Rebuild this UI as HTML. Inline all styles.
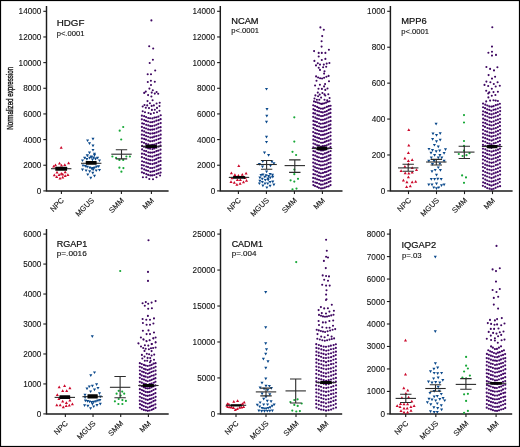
<!DOCTYPE html>
<html><head><meta charset="utf-8"><style>
html,body{margin:0;padding:0;background:#fff;}
svg{display:block;will-change:transform;}
text{font-family:"Liberation Sans",sans-serif;fill:#111;}
.tk{font-size:8.2px;stroke:#111;stroke-width:0.1px;}
.xl{font-size:7.6px;stroke:#111;stroke-width:0.1px;}
.ti{font-size:9.3px;stroke:#111;stroke-width:0.22px;}
.pv{font-size:7.8px;stroke:#111;stroke-width:0.12px;}
.yl{font-size:9.8px;stroke:#1a1a1a;stroke-width:0.4px;}
</style></head><body>
<svg width="520" height="447" viewBox="0 0 520 447">
<g>
<rect x="0" y="0" width="520" height="447" fill="#fff"/>
<rect x="0.5" y="0.5" width="519" height="446" fill="none" stroke="#000" stroke-width="1.2"/>
<text class="yl" transform="translate(12.9 129.7) rotate(-90) scale(0.63 1)">Normalized expression</text>
<path d="M46.5 6.0V190.9H168.6" fill="none" stroke="#1c1c1c" stroke-width="1.45"/>
<path d="M43.3 190.90H46.5" stroke="#1c1c1c" stroke-width="1.1"/>
<text x="41.40" y="193.90" class="tk" text-anchor="end">0</text>
<path d="M43.3 165.24H46.5" stroke="#1c1c1c" stroke-width="1.1"/>
<text x="41.40" y="168.24" class="tk" text-anchor="end">2000</text>
<path d="M43.3 139.59H46.5" stroke="#1c1c1c" stroke-width="1.1"/>
<text x="41.40" y="142.59" class="tk" text-anchor="end">4000</text>
<path d="M43.3 113.93H46.5" stroke="#1c1c1c" stroke-width="1.1"/>
<text x="41.40" y="116.93" class="tk" text-anchor="end">6000</text>
<path d="M43.3 88.27H46.5" stroke="#1c1c1c" stroke-width="1.1"/>
<text x="41.40" y="91.27" class="tk" text-anchor="end">8000</text>
<path d="M43.3 62.61H46.5" stroke="#1c1c1c" stroke-width="1.1"/>
<text x="41.40" y="65.61" class="tk" text-anchor="end">10000</text>
<path d="M43.3 36.96H46.5" stroke="#1c1c1c" stroke-width="1.1"/>
<text x="41.40" y="39.96" class="tk" text-anchor="end">12000</text>
<path d="M43.3 11.30H46.5" stroke="#1c1c1c" stroke-width="1.1"/>
<text x="41.40" y="14.30" class="tk" text-anchor="end">14000</text>
<path d="M61.40 190.9V194.1" stroke="#1c1c1c" stroke-width="1.1"/>
<text transform="translate(64.50 200.90) rotate(-45)" class="xl" text-anchor="end">NPC</text>
<path d="M91.40 190.9V194.1" stroke="#1c1c1c" stroke-width="1.1"/>
<text transform="translate(94.50 200.90) rotate(-45)" class="xl" text-anchor="end">MGUS</text>
<path d="M121.40 190.9V194.1" stroke="#1c1c1c" stroke-width="1.1"/>
<text transform="translate(124.50 200.90) rotate(-45)" class="xl" text-anchor="end">SMM</text>
<path d="M151.40 190.9V194.1" stroke="#1c1c1c" stroke-width="1.1"/>
<text transform="translate(154.50 200.90) rotate(-45)" class="xl" text-anchor="end">MM</text>
<text x="56.7" y="25.9" class="ti" textLength="27.7" lengthAdjust="spacingAndGlyphs">HDGF</text>
<text x="56.7" y="35.8" class="pv" textLength="27.7" lengthAdjust="spacingAndGlyphs">p&lt;.0001</text>
<path d="M59.65 148.80h3.1l-1.55-2.75zM67.05 164.20h3.1l-1.55-2.75zM57.95 164.60h3.1l-1.55-2.75zM63.25 165.90h3.1l-1.55-2.75zM53.95 166.20h3.1l-1.55-2.75zM59.95 166.60h3.1l-1.55-2.75zM52.15 167.60h3.1l-1.55-2.75zM55.45 173.40h3.1l-1.55-2.75zM63.65 173.20h3.1l-1.55-2.75zM52.75 176.20h3.1l-1.55-2.75zM57.55 175.90h3.1l-1.55-2.75zM59.75 174.80h3.1l-1.55-2.75zM61.15 175.50h3.1l-1.55-2.75zM63.65 177.10h3.1l-1.55-2.75zM66.35 176.00h3.1l-1.55-2.75zM55.15 178.00h3.1l-1.55-2.75zM58.45 179.50h3.1l-1.55-2.75zM61.15 178.40h3.1l-1.55-2.75z" fill="#cc0a2c"/>
<path d="M91.45 137.70h3.1l-1.55 2.7zM86.05 139.40h3.1l-1.55 2.7zM87.95 142.30h3.1l-1.55 2.7zM91.45 144.50h3.1l-1.55 2.7zM91.45 148.90h3.1l-1.55 2.7zM87.95 151.60h3.1l-1.55 2.7zM92.95 152.80h3.1l-1.55 2.7zM85.85 154.60h3.1l-1.55 2.7zM83.15 156.70h3.1l-1.55 2.7zM89.55 155.60h3.1l-1.55 2.7zM88.15 156.70h3.1l-1.55 2.7zM91.85 156.40h3.1l-1.55 2.7zM96.05 156.70h3.1l-1.55 2.7zM93.75 157.50h3.1l-1.55 2.7zM85.65 154.20h3.1l-1.55 2.7zM92.95 154.10h3.1l-1.55 2.7zM83.15 156.90h3.1l-1.55 2.7zM85.35 158.00h3.1l-1.55 2.7zM89.85 155.80h3.1l-1.55 2.7zM94.05 157.70h3.1l-1.55 2.7zM80.95 159.40h3.1l-1.55 2.7zM97.95 159.40h3.1l-1.55 2.7zM90.95 158.50h3.1l-1.55 2.7zM81.45 164.40h3.1l-1.55 2.7zM83.75 165.00h3.1l-1.55 2.7zM85.65 165.80h3.1l-1.55 2.7zM88.15 166.40h3.1l-1.55 2.7zM89.85 167.20h3.1l-1.55 2.7zM91.55 166.90h3.1l-1.55 2.7zM93.25 166.40h3.1l-1.55 2.7zM95.15 165.50h3.1l-1.55 2.7zM97.15 165.30h3.1l-1.55 2.7zM80.95 168.60h3.1l-1.55 2.7zM84.55 169.40h3.1l-1.55 2.7zM88.15 170.30h3.1l-1.55 2.7zM91.55 168.60h3.1l-1.55 2.7zM94.65 169.40h3.1l-1.55 2.7zM97.95 168.90h3.1l-1.55 2.7zM91.25 171.70h3.1l-1.55 2.7zM86.25 173.40h3.1l-1.55 2.7zM92.95 174.80h3.1l-1.55 2.7zM89.25 176.70h3.1l-1.55 2.7z" fill="#0c4a8c"/>
<path d="M122.10 127.00a1.1 1.1 0 1 0 2.2 0a1.1 1.1 0 1 0 -2.2 0M118.60 130.70a1.1 1.1 0 1 0 2.2 0a1.1 1.1 0 1 0 -2.2 0M120.10 139.50a1.1 1.1 0 1 0 2.2 0a1.1 1.1 0 1 0 -2.2 0M111.30 156.50a1.1 1.1 0 1 0 2.2 0a1.1 1.1 0 1 0 -2.2 0M115.00 157.90a1.1 1.1 0 1 0 2.2 0a1.1 1.1 0 1 0 -2.2 0M118.30 159.90a1.1 1.1 0 1 0 2.2 0a1.1 1.1 0 1 0 -2.2 0M122.10 159.90a1.1 1.1 0 1 0 2.2 0a1.1 1.1 0 1 0 -2.2 0M125.30 156.50a1.1 1.1 0 1 0 2.2 0a1.1 1.1 0 1 0 -2.2 0M128.80 156.50a1.1 1.1 0 1 0 2.2 0a1.1 1.1 0 1 0 -2.2 0M118.30 167.70a1.1 1.1 0 1 0 2.2 0a1.1 1.1 0 1 0 -2.2 0M122.30 168.10a1.1 1.1 0 1 0 2.2 0a1.1 1.1 0 1 0 -2.2 0M120.30 171.70a1.1 1.1 0 1 0 2.2 0a1.1 1.1 0 1 0 -2.2 0" fill="#18a838"/>
<path d="M140.79 115.67a1.1 1.1 0 1 0 2.2 0a1.1 1.1 0 1 0 -2.2 0M143.05 116.21a1.1 1.1 0 1 0 2.2 0a1.1 1.1 0 1 0 -2.2 0M145.03 117.09a1.1 1.1 0 1 0 2.2 0a1.1 1.1 0 1 0 -2.2 0M147.15 117.99a1.1 1.1 0 1 0 2.2 0a1.1 1.1 0 1 0 -2.2 0M149.04 118.24a1.1 1.1 0 1 0 2.2 0a1.1 1.1 0 1 0 -2.2 0M151.33 118.44a1.1 1.1 0 1 0 2.2 0a1.1 1.1 0 1 0 -2.2 0M153.38 117.59a1.1 1.1 0 1 0 2.2 0a1.1 1.1 0 1 0 -2.2 0M155.35 117.23a1.1 1.1 0 1 0 2.2 0a1.1 1.1 0 1 0 -2.2 0M157.35 116.56a1.1 1.1 0 1 0 2.2 0a1.1 1.1 0 1 0 -2.2 0M159.62 115.27a1.1 1.1 0 1 0 2.2 0a1.1 1.1 0 1 0 -2.2 0" fill="#450a68"/>
<path d="M140.76 119.32a1.1 1.1 0 1 0 2.2 0a1.1 1.1 0 1 0 -2.2 0M143.10 120.07a1.1 1.1 0 1 0 2.2 0a1.1 1.1 0 1 0 -2.2 0M144.95 120.88a1.1 1.1 0 1 0 2.2 0a1.1 1.1 0 1 0 -2.2 0M146.96 121.50a1.1 1.1 0 1 0 2.2 0a1.1 1.1 0 1 0 -2.2 0M149.15 122.27a1.1 1.1 0 1 0 2.2 0a1.1 1.1 0 1 0 -2.2 0M151.15 122.14a1.1 1.1 0 1 0 2.2 0a1.1 1.1 0 1 0 -2.2 0M153.22 121.62a1.1 1.1 0 1 0 2.2 0a1.1 1.1 0 1 0 -2.2 0M155.30 120.68a1.1 1.1 0 1 0 2.2 0a1.1 1.1 0 1 0 -2.2 0M157.53 120.16a1.1 1.1 0 1 0 2.2 0a1.1 1.1 0 1 0 -2.2 0M159.54 119.14a1.1 1.1 0 1 0 2.2 0a1.1 1.1 0 1 0 -2.2 0" fill="#450a68"/>
<path d="M141.05 123.28a1.1 1.1 0 1 0 2.2 0a1.1 1.1 0 1 0 -2.2 0M142.85 123.85a1.1 1.1 0 1 0 2.2 0a1.1 1.1 0 1 0 -2.2 0M145.10 124.82a1.1 1.1 0 1 0 2.2 0a1.1 1.1 0 1 0 -2.2 0M147.23 125.40a1.1 1.1 0 1 0 2.2 0a1.1 1.1 0 1 0 -2.2 0M149.27 126.16a1.1 1.1 0 1 0 2.2 0a1.1 1.1 0 1 0 -2.2 0M151.17 126.11a1.1 1.1 0 1 0 2.2 0a1.1 1.1 0 1 0 -2.2 0M153.41 125.62a1.1 1.1 0 1 0 2.2 0a1.1 1.1 0 1 0 -2.2 0M155.37 124.76a1.1 1.1 0 1 0 2.2 0a1.1 1.1 0 1 0 -2.2 0M157.29 123.80a1.1 1.1 0 1 0 2.2 0a1.1 1.1 0 1 0 -2.2 0M159.59 123.06a1.1 1.1 0 1 0 2.2 0a1.1 1.1 0 1 0 -2.2 0" fill="#450a68"/>
<path d="M140.80 126.92a1.1 1.1 0 1 0 2.2 0a1.1 1.1 0 1 0 -2.2 0M143.03 127.82a1.1 1.1 0 1 0 2.2 0a1.1 1.1 0 1 0 -2.2 0M145.00 128.49a1.1 1.1 0 1 0 2.2 0a1.1 1.1 0 1 0 -2.2 0M147.10 129.38a1.1 1.1 0 1 0 2.2 0a1.1 1.1 0 1 0 -2.2 0M149.17 129.82a1.1 1.1 0 1 0 2.2 0a1.1 1.1 0 1 0 -2.2 0M151.23 129.64a1.1 1.1 0 1 0 2.2 0a1.1 1.1 0 1 0 -2.2 0M153.16 129.35a1.1 1.1 0 1 0 2.2 0a1.1 1.1 0 1 0 -2.2 0M155.51 128.57a1.1 1.1 0 1 0 2.2 0a1.1 1.1 0 1 0 -2.2 0M157.40 127.57a1.1 1.1 0 1 0 2.2 0a1.1 1.1 0 1 0 -2.2 0M159.50 127.14a1.1 1.1 0 1 0 2.2 0a1.1 1.1 0 1 0 -2.2 0" fill="#450a68"/>
<path d="M140.98 130.72a1.1 1.1 0 1 0 2.2 0a1.1 1.1 0 1 0 -2.2 0M143.07 131.40a1.1 1.1 0 1 0 2.2 0a1.1 1.1 0 1 0 -2.2 0M145.04 132.55a1.1 1.1 0 1 0 2.2 0a1.1 1.1 0 1 0 -2.2 0M147.12 133.02a1.1 1.1 0 1 0 2.2 0a1.1 1.1 0 1 0 -2.2 0M149.10 133.69a1.1 1.1 0 1 0 2.2 0a1.1 1.1 0 1 0 -2.2 0M151.37 133.42a1.1 1.1 0 1 0 2.2 0a1.1 1.1 0 1 0 -2.2 0M153.39 133.20a1.1 1.1 0 1 0 2.2 0a1.1 1.1 0 1 0 -2.2 0M155.48 132.44a1.1 1.1 0 1 0 2.2 0a1.1 1.1 0 1 0 -2.2 0M157.53 131.54a1.1 1.1 0 1 0 2.2 0a1.1 1.1 0 1 0 -2.2 0M159.52 130.66a1.1 1.1 0 1 0 2.2 0a1.1 1.1 0 1 0 -2.2 0" fill="#450a68"/>
<path d="M140.77 134.69a1.1 1.1 0 1 0 2.2 0a1.1 1.1 0 1 0 -2.2 0M142.99 135.18a1.1 1.1 0 1 0 2.2 0a1.1 1.1 0 1 0 -2.2 0M145.03 136.11a1.1 1.1 0 1 0 2.2 0a1.1 1.1 0 1 0 -2.2 0M147.06 136.77a1.1 1.1 0 1 0 2.2 0a1.1 1.1 0 1 0 -2.2 0M149.18 137.53a1.1 1.1 0 1 0 2.2 0a1.1 1.1 0 1 0 -2.2 0M151.27 137.45a1.1 1.1 0 1 0 2.2 0a1.1 1.1 0 1 0 -2.2 0M153.16 136.71a1.1 1.1 0 1 0 2.2 0a1.1 1.1 0 1 0 -2.2 0M155.27 136.16a1.1 1.1 0 1 0 2.2 0a1.1 1.1 0 1 0 -2.2 0M157.54 135.48a1.1 1.1 0 1 0 2.2 0a1.1 1.1 0 1 0 -2.2 0M159.59 134.66a1.1 1.1 0 1 0 2.2 0a1.1 1.1 0 1 0 -2.2 0" fill="#450a68"/>
<path d="M140.83 138.47a1.1 1.1 0 1 0 2.2 0a1.1 1.1 0 1 0 -2.2 0M143.02 138.92a1.1 1.1 0 1 0 2.2 0a1.1 1.1 0 1 0 -2.2 0M144.89 139.68a1.1 1.1 0 1 0 2.2 0a1.1 1.1 0 1 0 -2.2 0M147.18 140.52a1.1 1.1 0 1 0 2.2 0a1.1 1.1 0 1 0 -2.2 0M149.05 141.33a1.1 1.1 0 1 0 2.2 0a1.1 1.1 0 1 0 -2.2 0M151.19 141.06a1.1 1.1 0 1 0 2.2 0a1.1 1.1 0 1 0 -2.2 0M153.20 140.66a1.1 1.1 0 1 0 2.2 0a1.1 1.1 0 1 0 -2.2 0M155.27 139.81a1.1 1.1 0 1 0 2.2 0a1.1 1.1 0 1 0 -2.2 0M157.50 139.11a1.1 1.1 0 1 0 2.2 0a1.1 1.1 0 1 0 -2.2 0M159.45 138.29a1.1 1.1 0 1 0 2.2 0a1.1 1.1 0 1 0 -2.2 0" fill="#450a68"/>
<path d="M140.76 142.04a1.1 1.1 0 1 0 2.2 0a1.1 1.1 0 1 0 -2.2 0M142.94 142.78a1.1 1.1 0 1 0 2.2 0a1.1 1.1 0 1 0 -2.2 0M144.92 143.92a1.1 1.1 0 1 0 2.2 0a1.1 1.1 0 1 0 -2.2 0M147.10 144.30a1.1 1.1 0 1 0 2.2 0a1.1 1.1 0 1 0 -2.2 0M149.20 145.23a1.1 1.1 0 1 0 2.2 0a1.1 1.1 0 1 0 -2.2 0M151.09 144.83a1.1 1.1 0 1 0 2.2 0a1.1 1.1 0 1 0 -2.2 0M153.19 144.55a1.1 1.1 0 1 0 2.2 0a1.1 1.1 0 1 0 -2.2 0M155.26 143.82a1.1 1.1 0 1 0 2.2 0a1.1 1.1 0 1 0 -2.2 0M157.49 142.96a1.1 1.1 0 1 0 2.2 0a1.1 1.1 0 1 0 -2.2 0M159.42 142.34a1.1 1.1 0 1 0 2.2 0a1.1 1.1 0 1 0 -2.2 0" fill="#450a68"/>
<path d="M140.99 145.91a1.1 1.1 0 1 0 2.2 0a1.1 1.1 0 1 0 -2.2 0M142.88 146.81a1.1 1.1 0 1 0 2.2 0a1.1 1.1 0 1 0 -2.2 0M145.00 147.56a1.1 1.1 0 1 0 2.2 0a1.1 1.1 0 1 0 -2.2 0M147.05 148.31a1.1 1.1 0 1 0 2.2 0a1.1 1.1 0 1 0 -2.2 0M149.03 148.77a1.1 1.1 0 1 0 2.2 0a1.1 1.1 0 1 0 -2.2 0M151.37 149.06a1.1 1.1 0 1 0 2.2 0a1.1 1.1 0 1 0 -2.2 0M153.24 148.42a1.1 1.1 0 1 0 2.2 0a1.1 1.1 0 1 0 -2.2 0M155.31 147.74a1.1 1.1 0 1 0 2.2 0a1.1 1.1 0 1 0 -2.2 0M157.51 146.69a1.1 1.1 0 1 0 2.2 0a1.1 1.1 0 1 0 -2.2 0M159.43 145.65a1.1 1.1 0 1 0 2.2 0a1.1 1.1 0 1 0 -2.2 0" fill="#450a68"/>
<path d="M141.01 149.47a1.1 1.1 0 1 0 2.2 0a1.1 1.1 0 1 0 -2.2 0M143.06 150.76a1.1 1.1 0 1 0 2.2 0a1.1 1.1 0 1 0 -2.2 0M145.05 151.16a1.1 1.1 0 1 0 2.2 0a1.1 1.1 0 1 0 -2.2 0M147.21 152.28a1.1 1.1 0 1 0 2.2 0a1.1 1.1 0 1 0 -2.2 0M149.23 152.68a1.1 1.1 0 1 0 2.2 0a1.1 1.1 0 1 0 -2.2 0M151.20 152.59a1.1 1.1 0 1 0 2.2 0a1.1 1.1 0 1 0 -2.2 0M153.21 152.13a1.1 1.1 0 1 0 2.2 0a1.1 1.1 0 1 0 -2.2 0M155.35 151.17a1.1 1.1 0 1 0 2.2 0a1.1 1.1 0 1 0 -2.2 0M157.31 150.62a1.1 1.1 0 1 0 2.2 0a1.1 1.1 0 1 0 -2.2 0M159.44 149.70a1.1 1.1 0 1 0 2.2 0a1.1 1.1 0 1 0 -2.2 0" fill="#450a68"/>
<path d="M140.85 153.69a1.1 1.1 0 1 0 2.2 0a1.1 1.1 0 1 0 -2.2 0M143.09 154.09a1.1 1.1 0 1 0 2.2 0a1.1 1.1 0 1 0 -2.2 0M144.94 155.03a1.1 1.1 0 1 0 2.2 0a1.1 1.1 0 1 0 -2.2 0M147.25 155.99a1.1 1.1 0 1 0 2.2 0a1.1 1.1 0 1 0 -2.2 0M149.12 156.33a1.1 1.1 0 1 0 2.2 0a1.1 1.1 0 1 0 -2.2 0M151.29 156.64a1.1 1.1 0 1 0 2.2 0a1.1 1.1 0 1 0 -2.2 0M153.43 155.77a1.1 1.1 0 1 0 2.2 0a1.1 1.1 0 1 0 -2.2 0M155.48 155.21a1.1 1.1 0 1 0 2.2 0a1.1 1.1 0 1 0 -2.2 0M157.43 154.58a1.1 1.1 0 1 0 2.2 0a1.1 1.1 0 1 0 -2.2 0M159.42 153.61a1.1 1.1 0 1 0 2.2 0a1.1 1.1 0 1 0 -2.2 0" fill="#450a68"/>
<path d="M140.78 157.13a1.1 1.1 0 1 0 2.2 0a1.1 1.1 0 1 0 -2.2 0M143.09 157.99a1.1 1.1 0 1 0 2.2 0a1.1 1.1 0 1 0 -2.2 0M145.11 158.97a1.1 1.1 0 1 0 2.2 0a1.1 1.1 0 1 0 -2.2 0M147.20 159.58a1.1 1.1 0 1 0 2.2 0a1.1 1.1 0 1 0 -2.2 0M149.12 160.17a1.1 1.1 0 1 0 2.2 0a1.1 1.1 0 1 0 -2.2 0M151.34 160.32a1.1 1.1 0 1 0 2.2 0a1.1 1.1 0 1 0 -2.2 0M153.44 159.84a1.1 1.1 0 1 0 2.2 0a1.1 1.1 0 1 0 -2.2 0M155.26 158.94a1.1 1.1 0 1 0 2.2 0a1.1 1.1 0 1 0 -2.2 0M157.31 157.90a1.1 1.1 0 1 0 2.2 0a1.1 1.1 0 1 0 -2.2 0M159.37 157.48a1.1 1.1 0 1 0 2.2 0a1.1 1.1 0 1 0 -2.2 0" fill="#450a68"/>
<path d="M140.99 161.26a1.1 1.1 0 1 0 2.2 0a1.1 1.1 0 1 0 -2.2 0M142.92 161.99a1.1 1.1 0 1 0 2.2 0a1.1 1.1 0 1 0 -2.2 0M145.12 162.66a1.1 1.1 0 1 0 2.2 0a1.1 1.1 0 1 0 -2.2 0M147.12 163.31a1.1 1.1 0 1 0 2.2 0a1.1 1.1 0 1 0 -2.2 0M149.04 163.95a1.1 1.1 0 1 0 2.2 0a1.1 1.1 0 1 0 -2.2 0M151.35 164.10a1.1 1.1 0 1 0 2.2 0a1.1 1.1 0 1 0 -2.2 0M153.43 163.42a1.1 1.1 0 1 0 2.2 0a1.1 1.1 0 1 0 -2.2 0M155.30 162.86a1.1 1.1 0 1 0 2.2 0a1.1 1.1 0 1 0 -2.2 0M157.53 161.69a1.1 1.1 0 1 0 2.2 0a1.1 1.1 0 1 0 -2.2 0M159.55 160.90a1.1 1.1 0 1 0 2.2 0a1.1 1.1 0 1 0 -2.2 0" fill="#450a68"/>
<path d="M140.78 165.09a1.1 1.1 0 1 0 2.2 0a1.1 1.1 0 1 0 -2.2 0M142.83 165.60a1.1 1.1 0 1 0 2.2 0a1.1 1.1 0 1 0 -2.2 0M145.18 166.48a1.1 1.1 0 1 0 2.2 0a1.1 1.1 0 1 0 -2.2 0M146.98 167.08a1.1 1.1 0 1 0 2.2 0a1.1 1.1 0 1 0 -2.2 0M149.09 167.99a1.1 1.1 0 1 0 2.2 0a1.1 1.1 0 1 0 -2.2 0M151.11 168.08a1.1 1.1 0 1 0 2.2 0a1.1 1.1 0 1 0 -2.2 0M153.26 167.48a1.1 1.1 0 1 0 2.2 0a1.1 1.1 0 1 0 -2.2 0M155.49 166.42a1.1 1.1 0 1 0 2.2 0a1.1 1.1 0 1 0 -2.2 0M157.36 165.72a1.1 1.1 0 1 0 2.2 0a1.1 1.1 0 1 0 -2.2 0M159.38 164.98a1.1 1.1 0 1 0 2.2 0a1.1 1.1 0 1 0 -2.2 0" fill="#450a68"/>
<path d="M140.76 168.46a1.1 1.1 0 1 0 2.2 0a1.1 1.1 0 1 0 -2.2 0M143.11 169.43a1.1 1.1 0 1 0 2.2 0a1.1 1.1 0 1 0 -2.2 0M145.06 170.29a1.1 1.1 0 1 0 2.2 0a1.1 1.1 0 1 0 -2.2 0M147.04 170.83a1.1 1.1 0 1 0 2.2 0a1.1 1.1 0 1 0 -2.2 0M149.29 171.91a1.1 1.1 0 1 0 2.2 0a1.1 1.1 0 1 0 -2.2 0M151.37 171.48a1.1 1.1 0 1 0 2.2 0a1.1 1.1 0 1 0 -2.2 0M153.21 171.10a1.1 1.1 0 1 0 2.2 0a1.1 1.1 0 1 0 -2.2 0M155.51 170.34a1.1 1.1 0 1 0 2.2 0a1.1 1.1 0 1 0 -2.2 0M157.49 169.61a1.1 1.1 0 1 0 2.2 0a1.1 1.1 0 1 0 -2.2 0M159.43 168.72a1.1 1.1 0 1 0 2.2 0a1.1 1.1 0 1 0 -2.2 0" fill="#450a68"/>
<path d="M140.84 172.37a1.1 1.1 0 1 0 2.2 0a1.1 1.1 0 1 0 -2.2 0M142.84 173.22a1.1 1.1 0 1 0 2.2 0a1.1 1.1 0 1 0 -2.2 0M145.18 174.09a1.1 1.1 0 1 0 2.2 0a1.1 1.1 0 1 0 -2.2 0M147.15 174.92a1.1 1.1 0 1 0 2.2 0a1.1 1.1 0 1 0 -2.2 0M149.30 175.42a1.1 1.1 0 1 0 2.2 0a1.1 1.1 0 1 0 -2.2 0M151.18 175.38a1.1 1.1 0 1 0 2.2 0a1.1 1.1 0 1 0 -2.2 0M153.25 175.02a1.1 1.1 0 1 0 2.2 0a1.1 1.1 0 1 0 -2.2 0M155.48 174.02a1.1 1.1 0 1 0 2.2 0a1.1 1.1 0 1 0 -2.2 0M157.38 173.36a1.1 1.1 0 1 0 2.2 0a1.1 1.1 0 1 0 -2.2 0M159.52 172.55a1.1 1.1 0 1 0 2.2 0a1.1 1.1 0 1 0 -2.2 0" fill="#450a68"/>
<path d="M150.35 20.40a1.05 1.05 0 1 0 2.1 0a1.05 1.05 0 1 0 -2.1 0M148.15 46.20a1.05 1.05 0 1 0 2.1 0a1.05 1.05 0 1 0 -2.1 0M152.15 48.50a1.05 1.05 0 1 0 2.1 0a1.05 1.05 0 1 0 -2.1 0M151.85 59.70a1.05 1.05 0 1 0 2.1 0a1.05 1.05 0 1 0 -2.1 0M148.65 63.00a1.05 1.05 0 1 0 2.1 0a1.05 1.05 0 1 0 -2.1 0M154.15 70.50a1.05 1.05 0 1 0 2.1 0a1.05 1.05 0 1 0 -2.1 0M146.65 74.30a1.05 1.05 0 1 0 2.1 0a1.05 1.05 0 1 0 -2.1 0M149.95 74.30a1.05 1.05 0 1 0 2.1 0a1.05 1.05 0 1 0 -2.1 0M146.75 82.00a1.05 1.05 0 1 0 2.1 0a1.05 1.05 0 1 0 -2.1 0M149.85 80.80a1.05 1.05 0 1 0 2.1 0a1.05 1.05 0 1 0 -2.1 0M153.75 81.70a1.05 1.05 0 1 0 2.1 0a1.05 1.05 0 1 0 -2.1 0M149.95 85.00a1.05 1.05 0 1 0 2.1 0a1.05 1.05 0 1 0 -2.1 0M148.35 88.60a1.05 1.05 0 1 0 2.1 0a1.05 1.05 0 1 0 -2.1 0M151.75 90.20a1.05 1.05 0 1 0 2.1 0a1.05 1.05 0 1 0 -2.1 0M144.75 91.60a1.05 1.05 0 1 0 2.1 0a1.05 1.05 0 1 0 -2.1 0M143.15 92.90a1.05 1.05 0 1 0 2.1 0a1.05 1.05 0 1 0 -2.1 0M150.65 92.60a1.05 1.05 0 1 0 2.1 0a1.05 1.05 0 1 0 -2.1 0M153.75 93.60a1.05 1.05 0 1 0 2.1 0a1.05 1.05 0 1 0 -2.1 0M155.55 92.00a1.05 1.05 0 1 0 2.1 0a1.05 1.05 0 1 0 -2.1 0M157.15 93.80a1.05 1.05 0 1 0 2.1 0a1.05 1.05 0 1 0 -2.1 0M147.05 95.10a1.05 1.05 0 1 0 2.1 0a1.05 1.05 0 1 0 -2.1 0M150.35 96.50a1.05 1.05 0 1 0 2.1 0a1.05 1.05 0 1 0 -2.1 0M146.45 101.10a1.05 1.05 0 1 0 2.1 0a1.05 1.05 0 1 0 -2.1 0M151.55 100.20a1.05 1.05 0 1 0 2.1 0a1.05 1.05 0 1 0 -2.1 0M148.85 103.20a1.05 1.05 0 1 0 2.1 0a1.05 1.05 0 1 0 -2.1 0M155.55 103.50a1.05 1.05 0 1 0 2.1 0a1.05 1.05 0 1 0 -2.1 0M158.65 102.80a1.05 1.05 0 1 0 2.1 0a1.05 1.05 0 1 0 -2.1 0M143.45 105.00a1.05 1.05 0 1 0 2.1 0a1.05 1.05 0 1 0 -2.1 0M141.65 106.50a1.05 1.05 0 1 0 2.1 0a1.05 1.05 0 1 0 -2.1 0M146.15 105.40a1.05 1.05 0 1 0 2.1 0a1.05 1.05 0 1 0 -2.1 0M150.65 105.90a1.05 1.05 0 1 0 2.1 0a1.05 1.05 0 1 0 -2.1 0M152.85 105.40a1.05 1.05 0 1 0 2.1 0a1.05 1.05 0 1 0 -2.1 0M158.45 106.10a1.05 1.05 0 1 0 2.1 0a1.05 1.05 0 1 0 -2.1 0M144.75 107.70a1.05 1.05 0 1 0 2.1 0a1.05 1.05 0 1 0 -2.1 0M147.95 108.10a1.05 1.05 0 1 0 2.1 0a1.05 1.05 0 1 0 -2.1 0M155.95 107.90a1.05 1.05 0 1 0 2.1 0a1.05 1.05 0 1 0 -2.1 0M150.85 109.90a1.05 1.05 0 1 0 2.1 0a1.05 1.05 0 1 0 -2.1 0M153.75 109.70a1.05 1.05 0 1 0 2.1 0a1.05 1.05 0 1 0 -2.1 0M141.65 111.30a1.05 1.05 0 1 0 2.1 0a1.05 1.05 0 1 0 -2.1 0M143.95 112.20a1.05 1.05 0 1 0 2.1 0a1.05 1.05 0 1 0 -2.1 0M147.45 113.00a1.05 1.05 0 1 0 2.1 0a1.05 1.05 0 1 0 -2.1 0M149.75 113.90a1.05 1.05 0 1 0 2.1 0a1.05 1.05 0 1 0 -2.1 0M152.85 113.00a1.05 1.05 0 1 0 2.1 0a1.05 1.05 0 1 0 -2.1 0M155.95 112.20a1.05 1.05 0 1 0 2.1 0a1.05 1.05 0 1 0 -2.1 0M158.45 110.80a1.05 1.05 0 1 0 2.1 0a1.05 1.05 0 1 0 -2.1 0M141.85 177.20a1.05 1.05 0 1 0 2.1 0a1.05 1.05 0 1 0 -2.1 0M145.25 177.20a1.05 1.05 0 1 0 2.1 0a1.05 1.05 0 1 0 -2.1 0M148.25 179.00a1.05 1.05 0 1 0 2.1 0a1.05 1.05 0 1 0 -2.1 0M151.95 179.30a1.05 1.05 0 1 0 2.1 0a1.05 1.05 0 1 0 -2.1 0M155.45 177.30a1.05 1.05 0 1 0 2.1 0a1.05 1.05 0 1 0 -2.1 0M159.05 175.50a1.05 1.05 0 1 0 2.1 0a1.05 1.05 0 1 0 -2.1 0" fill="#3f0862"/>
<path d="M51.00 168.70H71.40" stroke="#2c2c2c" stroke-width="1.1"/><rect x="55.30" y="166.80" width="11.80" height="3.90" rx="0.5" fill="#050505"/>
<path d="M81.00 163.30H101.40" stroke="#2c2c2c" stroke-width="1.1"/><rect x="85.75" y="161.10" width="10.90" height="3.70" rx="0.5" fill="#050505"/>
<path d="M111.30 154.20H131.70" stroke="#2c2c2c" stroke-width="1.1"/><path d="M115.80 149.80H127.20M115.80 158.90H127.20M121.50 149.80V158.90" stroke="#2c2c2c" stroke-width="1.1" fill="none"/>
<path d="M141.10 146.30H161.50" stroke="#2c2c2c" stroke-width="1.1"/><rect x="145.65" y="144.80" width="11.30" height="3.10" rx="0.5" fill="#050505"/>
<path d="M220.3 6.0V190.9H342.5" fill="none" stroke="#1c1c1c" stroke-width="1.45"/>
<path d="M217.10000000000002 190.90H220.3" stroke="#1c1c1c" stroke-width="1.1"/>
<text x="215.20" y="193.90" class="tk" text-anchor="end">0</text>
<path d="M217.10000000000002 165.24H220.3" stroke="#1c1c1c" stroke-width="1.1"/>
<text x="215.20" y="168.24" class="tk" text-anchor="end">2000</text>
<path d="M217.10000000000002 139.59H220.3" stroke="#1c1c1c" stroke-width="1.1"/>
<text x="215.20" y="142.59" class="tk" text-anchor="end">4000</text>
<path d="M217.10000000000002 113.93H220.3" stroke="#1c1c1c" stroke-width="1.1"/>
<text x="215.20" y="116.93" class="tk" text-anchor="end">6000</text>
<path d="M217.10000000000002 88.27H220.3" stroke="#1c1c1c" stroke-width="1.1"/>
<text x="215.20" y="91.27" class="tk" text-anchor="end">8000</text>
<path d="M217.10000000000002 62.61H220.3" stroke="#1c1c1c" stroke-width="1.1"/>
<text x="215.20" y="65.61" class="tk" text-anchor="end">10000</text>
<path d="M217.10000000000002 36.96H220.3" stroke="#1c1c1c" stroke-width="1.1"/>
<text x="215.20" y="39.96" class="tk" text-anchor="end">12000</text>
<path d="M217.10000000000002 11.30H220.3" stroke="#1c1c1c" stroke-width="1.1"/>
<text x="215.20" y="14.30" class="tk" text-anchor="end">14000</text>
<path d="M238.40 190.9V194.1" stroke="#1c1c1c" stroke-width="1.1"/>
<text transform="translate(241.50 200.90) rotate(-45)" class="xl" text-anchor="end">NPC</text>
<path d="M266.40 190.9V194.1" stroke="#1c1c1c" stroke-width="1.1"/>
<text transform="translate(269.50 200.90) rotate(-45)" class="xl" text-anchor="end">MGUS</text>
<path d="M294.40 190.9V194.1" stroke="#1c1c1c" stroke-width="1.1"/>
<text transform="translate(297.50 200.90) rotate(-45)" class="xl" text-anchor="end">SMM</text>
<path d="M322.40 190.9V194.1" stroke="#1c1c1c" stroke-width="1.1"/>
<text transform="translate(325.50 200.90) rotate(-45)" class="xl" text-anchor="end">MM</text>
<text x="231.25" y="23.8" class="ti" textLength="27.35" lengthAdjust="spacingAndGlyphs">NCAM</text>
<text x="231.25" y="33.4" class="pv" textLength="27.7" lengthAdjust="spacingAndGlyphs">p&lt;.0001</text>
<path d="M237.25 167.10h3.1l-1.55-2.75zM229.85 174.30h3.1l-1.55-2.75zM244.55 174.50h3.1l-1.55-2.75zM233.35 176.00h3.1l-1.55-2.75zM240.75 175.80h3.1l-1.55-2.75zM236.85 176.80h3.1l-1.55-2.75zM230.45 179.20h3.1l-1.55-2.75zM243.55 179.00h3.1l-1.55-2.75zM235.85 181.00h3.1l-1.55-2.75zM238.85 181.00h3.1l-1.55-2.75zM244.95 181.70h3.1l-1.55-2.75zM229.45 183.00h3.1l-1.55-2.75zM232.75 183.70h3.1l-1.55-2.75zM241.95 183.30h3.1l-1.55-2.75zM238.55 184.70h3.1l-1.55-2.75zM235.35 185.70h3.1l-1.55-2.75z" fill="#cc0a2c"/>
<path d="M264.95 87.90h3.1l-1.55 2.7zM265.45 108.10h3.1l-1.55 2.7zM265.25 114.80h3.1l-1.55 2.7zM264.95 120.70h3.1l-1.55 2.7zM264.95 135.80h3.1l-1.55 2.7zM264.95 140.90h3.1l-1.55 2.7zM262.95 151.60h3.1l-1.55 2.7zM267.05 154.10h3.1l-1.55 2.7zM261.25 160.20h3.1l-1.55 2.7zM270.35 160.60h3.1l-1.55 2.7zM257.85 163.10h3.1l-1.55 2.7zM272.35 162.30h3.1l-1.55 2.7zM260.95 165.50h3.1l-1.55 2.7zM268.95 164.60h3.1l-1.55 2.7zM265.05 170.50h3.1l-1.55 2.7zM259.45 174.10h3.1l-1.55 2.7zM261.35 173.50h3.1l-1.55 2.7zM264.55 174.30h3.1l-1.55 2.7zM268.55 173.00h3.1l-1.55 2.7zM270.95 173.80h3.1l-1.55 2.7zM263.25 175.70h3.1l-1.55 2.7zM266.95 175.10h3.1l-1.55 2.7zM271.25 175.70h3.1l-1.55 2.7zM258.35 176.50h3.1l-1.55 2.7zM260.75 177.80h3.1l-1.55 2.7zM268.85 176.50h3.1l-1.55 2.7zM263.75 178.90h3.1l-1.55 2.7zM266.35 177.60h3.1l-1.55 2.7zM266.65 178.70h3.1l-1.55 2.7zM258.35 179.70h3.1l-1.55 2.7zM260.75 180.90h3.1l-1.55 2.7zM268.55 180.90h3.1l-1.55 2.7zM271.25 180.50h3.1l-1.55 2.7zM257.85 182.40h3.1l-1.55 2.7zM263.45 182.40h3.1l-1.55 2.7zM266.15 182.40h3.1l-1.55 2.7zM272.35 183.60h3.1l-1.55 2.7zM261.35 184.50h3.1l-1.55 2.7zM268.55 184.80h3.1l-1.55 2.7zM265.35 186.40h3.1l-1.55 2.7z" fill="#0c4a8c"/>
<path d="M293.20 117.30a1.1 1.1 0 1 0 2.2 0a1.1 1.1 0 1 0 -2.2 0M293.20 141.60a1.1 1.1 0 1 0 2.2 0a1.1 1.1 0 1 0 -2.2 0M291.40 151.80a1.1 1.1 0 1 0 2.2 0a1.1 1.1 0 1 0 -2.2 0M295.00 155.00a1.1 1.1 0 1 0 2.2 0a1.1 1.1 0 1 0 -2.2 0M293.20 169.60a1.1 1.1 0 1 0 2.2 0a1.1 1.1 0 1 0 -2.2 0M293.20 174.20a1.1 1.1 0 1 0 2.2 0a1.1 1.1 0 1 0 -2.2 0M289.50 180.30a1.1 1.1 0 1 0 2.2 0a1.1 1.1 0 1 0 -2.2 0M293.20 181.60a1.1 1.1 0 1 0 2.2 0a1.1 1.1 0 1 0 -2.2 0M296.90 178.80a1.1 1.1 0 1 0 2.2 0a1.1 1.1 0 1 0 -2.2 0M291.40 189.30a1.1 1.1 0 1 0 2.2 0a1.1 1.1 0 1 0 -2.2 0M295.40 188.60a1.1 1.1 0 1 0 2.2 0a1.1 1.1 0 1 0 -2.2 0" fill="#18a838"/>
<path d="M312.12 105.26a1.1 1.1 0 1 0 2.2 0a1.1 1.1 0 1 0 -2.2 0M314.03 106.12a1.1 1.1 0 1 0 2.2 0a1.1 1.1 0 1 0 -2.2 0M316.04 106.90a1.1 1.1 0 1 0 2.2 0a1.1 1.1 0 1 0 -2.2 0M317.81 107.91a1.1 1.1 0 1 0 2.2 0a1.1 1.1 0 1 0 -2.2 0M319.78 108.62a1.1 1.1 0 1 0 2.2 0a1.1 1.1 0 1 0 -2.2 0M321.75 108.65a1.1 1.1 0 1 0 2.2 0a1.1 1.1 0 1 0 -2.2 0M323.56 107.84a1.1 1.1 0 1 0 2.2 0a1.1 1.1 0 1 0 -2.2 0M325.67 106.91a1.1 1.1 0 1 0 2.2 0a1.1 1.1 0 1 0 -2.2 0M327.62 106.17a1.1 1.1 0 1 0 2.2 0a1.1 1.1 0 1 0 -2.2 0M329.48 105.74a1.1 1.1 0 1 0 2.2 0a1.1 1.1 0 1 0 -2.2 0" fill="#450a68"/>
<path d="M312.30 109.21a1.1 1.1 0 1 0 2.2 0a1.1 1.1 0 1 0 -2.2 0M313.99 110.14a1.1 1.1 0 1 0 2.2 0a1.1 1.1 0 1 0 -2.2 0M316.15 110.82a1.1 1.1 0 1 0 2.2 0a1.1 1.1 0 1 0 -2.2 0M318.05 111.46a1.1 1.1 0 1 0 2.2 0a1.1 1.1 0 1 0 -2.2 0M319.97 112.04a1.1 1.1 0 1 0 2.2 0a1.1 1.1 0 1 0 -2.2 0M321.70 112.47a1.1 1.1 0 1 0 2.2 0a1.1 1.1 0 1 0 -2.2 0M323.76 111.85a1.1 1.1 0 1 0 2.2 0a1.1 1.1 0 1 0 -2.2 0M325.68 111.04a1.1 1.1 0 1 0 2.2 0a1.1 1.1 0 1 0 -2.2 0M327.55 109.97a1.1 1.1 0 1 0 2.2 0a1.1 1.1 0 1 0 -2.2 0M329.38 109.13a1.1 1.1 0 1 0 2.2 0a1.1 1.1 0 1 0 -2.2 0" fill="#450a68"/>
<path d="M312.26 113.18a1.1 1.1 0 1 0 2.2 0a1.1 1.1 0 1 0 -2.2 0M314.04 113.72a1.1 1.1 0 1 0 2.2 0a1.1 1.1 0 1 0 -2.2 0M316.16 114.87a1.1 1.1 0 1 0 2.2 0a1.1 1.1 0 1 0 -2.2 0M317.95 115.46a1.1 1.1 0 1 0 2.2 0a1.1 1.1 0 1 0 -2.2 0M319.95 116.05a1.1 1.1 0 1 0 2.2 0a1.1 1.1 0 1 0 -2.2 0M321.72 115.99a1.1 1.1 0 1 0 2.2 0a1.1 1.1 0 1 0 -2.2 0M323.59 115.21a1.1 1.1 0 1 0 2.2 0a1.1 1.1 0 1 0 -2.2 0M325.62 114.68a1.1 1.1 0 1 0 2.2 0a1.1 1.1 0 1 0 -2.2 0M327.51 113.71a1.1 1.1 0 1 0 2.2 0a1.1 1.1 0 1 0 -2.2 0M329.36 112.92a1.1 1.1 0 1 0 2.2 0a1.1 1.1 0 1 0 -2.2 0" fill="#450a68"/>
<path d="M312.09 116.78a1.1 1.1 0 1 0 2.2 0a1.1 1.1 0 1 0 -2.2 0M314.21 117.68a1.1 1.1 0 1 0 2.2 0a1.1 1.1 0 1 0 -2.2 0M315.99 118.58a1.1 1.1 0 1 0 2.2 0a1.1 1.1 0 1 0 -2.2 0M317.85 119.00a1.1 1.1 0 1 0 2.2 0a1.1 1.1 0 1 0 -2.2 0M319.85 119.87a1.1 1.1 0 1 0 2.2 0a1.1 1.1 0 1 0 -2.2 0M321.80 119.84a1.1 1.1 0 1 0 2.2 0a1.1 1.1 0 1 0 -2.2 0M323.72 119.36a1.1 1.1 0 1 0 2.2 0a1.1 1.1 0 1 0 -2.2 0M325.50 118.52a1.1 1.1 0 1 0 2.2 0a1.1 1.1 0 1 0 -2.2 0M327.48 117.60a1.1 1.1 0 1 0 2.2 0a1.1 1.1 0 1 0 -2.2 0M329.37 116.93a1.1 1.1 0 1 0 2.2 0a1.1 1.1 0 1 0 -2.2 0" fill="#450a68"/>
<path d="M312.32 120.91a1.1 1.1 0 1 0 2.2 0a1.1 1.1 0 1 0 -2.2 0M314.04 121.61a1.1 1.1 0 1 0 2.2 0a1.1 1.1 0 1 0 -2.2 0M315.89 122.11a1.1 1.1 0 1 0 2.2 0a1.1 1.1 0 1 0 -2.2 0M317.94 123.23a1.1 1.1 0 1 0 2.2 0a1.1 1.1 0 1 0 -2.2 0M319.74 123.80a1.1 1.1 0 1 0 2.2 0a1.1 1.1 0 1 0 -2.2 0M321.87 123.58a1.1 1.1 0 1 0 2.2 0a1.1 1.1 0 1 0 -2.2 0M323.72 123.22a1.1 1.1 0 1 0 2.2 0a1.1 1.1 0 1 0 -2.2 0M325.54 122.42a1.1 1.1 0 1 0 2.2 0a1.1 1.1 0 1 0 -2.2 0M327.56 121.58a1.1 1.1 0 1 0 2.2 0a1.1 1.1 0 1 0 -2.2 0M329.51 120.90a1.1 1.1 0 1 0 2.2 0a1.1 1.1 0 1 0 -2.2 0" fill="#450a68"/>
<path d="M312.34 124.54a1.1 1.1 0 1 0 2.2 0a1.1 1.1 0 1 0 -2.2 0M314.01 125.21a1.1 1.1 0 1 0 2.2 0a1.1 1.1 0 1 0 -2.2 0M315.94 126.15a1.1 1.1 0 1 0 2.2 0a1.1 1.1 0 1 0 -2.2 0M318.01 126.62a1.1 1.1 0 1 0 2.2 0a1.1 1.1 0 1 0 -2.2 0M319.90 127.58a1.1 1.1 0 1 0 2.2 0a1.1 1.1 0 1 0 -2.2 0M321.71 127.48a1.1 1.1 0 1 0 2.2 0a1.1 1.1 0 1 0 -2.2 0M323.57 126.96a1.1 1.1 0 1 0 2.2 0a1.1 1.1 0 1 0 -2.2 0M325.44 126.36a1.1 1.1 0 1 0 2.2 0a1.1 1.1 0 1 0 -2.2 0M327.58 125.40a1.1 1.1 0 1 0 2.2 0a1.1 1.1 0 1 0 -2.2 0M329.33 124.71a1.1 1.1 0 1 0 2.2 0a1.1 1.1 0 1 0 -2.2 0" fill="#450a68"/>
<path d="M312.34 128.12a1.1 1.1 0 1 0 2.2 0a1.1 1.1 0 1 0 -2.2 0M314.19 129.30a1.1 1.1 0 1 0 2.2 0a1.1 1.1 0 1 0 -2.2 0M316.07 130.02a1.1 1.1 0 1 0 2.2 0a1.1 1.1 0 1 0 -2.2 0M317.92 130.86a1.1 1.1 0 1 0 2.2 0a1.1 1.1 0 1 0 -2.2 0M319.99 131.21a1.1 1.1 0 1 0 2.2 0a1.1 1.1 0 1 0 -2.2 0M321.85 131.24a1.1 1.1 0 1 0 2.2 0a1.1 1.1 0 1 0 -2.2 0M323.57 130.56a1.1 1.1 0 1 0 2.2 0a1.1 1.1 0 1 0 -2.2 0M325.47 130.12a1.1 1.1 0 1 0 2.2 0a1.1 1.1 0 1 0 -2.2 0M327.63 128.94a1.1 1.1 0 1 0 2.2 0a1.1 1.1 0 1 0 -2.2 0M329.43 128.25a1.1 1.1 0 1 0 2.2 0a1.1 1.1 0 1 0 -2.2 0" fill="#450a68"/>
<path d="M312.09 132.00a1.1 1.1 0 1 0 2.2 0a1.1 1.1 0 1 0 -2.2 0M314.04 133.06a1.1 1.1 0 1 0 2.2 0a1.1 1.1 0 1 0 -2.2 0M315.87 133.56a1.1 1.1 0 1 0 2.2 0a1.1 1.1 0 1 0 -2.2 0M317.91 134.20a1.1 1.1 0 1 0 2.2 0a1.1 1.1 0 1 0 -2.2 0M319.88 135.12a1.1 1.1 0 1 0 2.2 0a1.1 1.1 0 1 0 -2.2 0M321.86 134.92a1.1 1.1 0 1 0 2.2 0a1.1 1.1 0 1 0 -2.2 0M323.60 134.46a1.1 1.1 0 1 0 2.2 0a1.1 1.1 0 1 0 -2.2 0M325.51 133.76a1.1 1.1 0 1 0 2.2 0a1.1 1.1 0 1 0 -2.2 0M327.41 133.02a1.1 1.1 0 1 0 2.2 0a1.1 1.1 0 1 0 -2.2 0M329.49 132.25a1.1 1.1 0 1 0 2.2 0a1.1 1.1 0 1 0 -2.2 0" fill="#450a68"/>
<path d="M312.34 135.92a1.1 1.1 0 1 0 2.2 0a1.1 1.1 0 1 0 -2.2 0M314.11 136.91a1.1 1.1 0 1 0 2.2 0a1.1 1.1 0 1 0 -2.2 0M316.10 137.55a1.1 1.1 0 1 0 2.2 0a1.1 1.1 0 1 0 -2.2 0M317.90 138.14a1.1 1.1 0 1 0 2.2 0a1.1 1.1 0 1 0 -2.2 0M319.73 139.02a1.1 1.1 0 1 0 2.2 0a1.1 1.1 0 1 0 -2.2 0M321.64 138.99a1.1 1.1 0 1 0 2.2 0a1.1 1.1 0 1 0 -2.2 0M323.68 138.48a1.1 1.1 0 1 0 2.2 0a1.1 1.1 0 1 0 -2.2 0M325.66 137.76a1.1 1.1 0 1 0 2.2 0a1.1 1.1 0 1 0 -2.2 0M327.38 136.73a1.1 1.1 0 1 0 2.2 0a1.1 1.1 0 1 0 -2.2 0M329.42 135.81a1.1 1.1 0 1 0 2.2 0a1.1 1.1 0 1 0 -2.2 0" fill="#450a68"/>
<path d="M312.20 139.63a1.1 1.1 0 1 0 2.2 0a1.1 1.1 0 1 0 -2.2 0M314.12 140.28a1.1 1.1 0 1 0 2.2 0a1.1 1.1 0 1 0 -2.2 0M316.00 141.29a1.1 1.1 0 1 0 2.2 0a1.1 1.1 0 1 0 -2.2 0M317.87 141.99a1.1 1.1 0 1 0 2.2 0a1.1 1.1 0 1 0 -2.2 0M319.93 142.76a1.1 1.1 0 1 0 2.2 0a1.1 1.1 0 1 0 -2.2 0M321.75 142.74a1.1 1.1 0 1 0 2.2 0a1.1 1.1 0 1 0 -2.2 0M323.63 141.90a1.1 1.1 0 1 0 2.2 0a1.1 1.1 0 1 0 -2.2 0M325.43 141.21a1.1 1.1 0 1 0 2.2 0a1.1 1.1 0 1 0 -2.2 0M327.52 140.72a1.1 1.1 0 1 0 2.2 0a1.1 1.1 0 1 0 -2.2 0M329.50 139.71a1.1 1.1 0 1 0 2.2 0a1.1 1.1 0 1 0 -2.2 0" fill="#450a68"/>
<path d="M312.35 143.48a1.1 1.1 0 1 0 2.2 0a1.1 1.1 0 1 0 -2.2 0M314.21 144.29a1.1 1.1 0 1 0 2.2 0a1.1 1.1 0 1 0 -2.2 0M316.10 145.36a1.1 1.1 0 1 0 2.2 0a1.1 1.1 0 1 0 -2.2 0M317.87 145.68a1.1 1.1 0 1 0 2.2 0a1.1 1.1 0 1 0 -2.2 0M319.88 146.49a1.1 1.1 0 1 0 2.2 0a1.1 1.1 0 1 0 -2.2 0M321.71 146.22a1.1 1.1 0 1 0 2.2 0a1.1 1.1 0 1 0 -2.2 0M323.63 145.81a1.1 1.1 0 1 0 2.2 0a1.1 1.1 0 1 0 -2.2 0M325.55 145.30a1.1 1.1 0 1 0 2.2 0a1.1 1.1 0 1 0 -2.2 0M327.51 144.45a1.1 1.1 0 1 0 2.2 0a1.1 1.1 0 1 0 -2.2 0M329.52 143.62a1.1 1.1 0 1 0 2.2 0a1.1 1.1 0 1 0 -2.2 0" fill="#450a68"/>
<path d="M312.20 147.42a1.1 1.1 0 1 0 2.2 0a1.1 1.1 0 1 0 -2.2 0M314.15 148.21a1.1 1.1 0 1 0 2.2 0a1.1 1.1 0 1 0 -2.2 0M316.06 148.87a1.1 1.1 0 1 0 2.2 0a1.1 1.1 0 1 0 -2.2 0M317.97 149.71a1.1 1.1 0 1 0 2.2 0a1.1 1.1 0 1 0 -2.2 0M319.98 150.41a1.1 1.1 0 1 0 2.2 0a1.1 1.1 0 1 0 -2.2 0M321.86 150.40a1.1 1.1 0 1 0 2.2 0a1.1 1.1 0 1 0 -2.2 0M323.76 149.70a1.1 1.1 0 1 0 2.2 0a1.1 1.1 0 1 0 -2.2 0M325.53 148.80a1.1 1.1 0 1 0 2.2 0a1.1 1.1 0 1 0 -2.2 0M327.55 148.32a1.1 1.1 0 1 0 2.2 0a1.1 1.1 0 1 0 -2.2 0M329.41 147.13a1.1 1.1 0 1 0 2.2 0a1.1 1.1 0 1 0 -2.2 0" fill="#450a68"/>
<path d="M312.30 151.09a1.1 1.1 0 1 0 2.2 0a1.1 1.1 0 1 0 -2.2 0M314.10 151.71a1.1 1.1 0 1 0 2.2 0a1.1 1.1 0 1 0 -2.2 0M316.03 152.84a1.1 1.1 0 1 0 2.2 0a1.1 1.1 0 1 0 -2.2 0M317.91 153.37a1.1 1.1 0 1 0 2.2 0a1.1 1.1 0 1 0 -2.2 0M319.89 153.83a1.1 1.1 0 1 0 2.2 0a1.1 1.1 0 1 0 -2.2 0M321.76 154.29a1.1 1.1 0 1 0 2.2 0a1.1 1.1 0 1 0 -2.2 0M323.72 153.39a1.1 1.1 0 1 0 2.2 0a1.1 1.1 0 1 0 -2.2 0M325.63 152.77a1.1 1.1 0 1 0 2.2 0a1.1 1.1 0 1 0 -2.2 0M327.40 151.79a1.1 1.1 0 1 0 2.2 0a1.1 1.1 0 1 0 -2.2 0M329.52 150.98a1.1 1.1 0 1 0 2.2 0a1.1 1.1 0 1 0 -2.2 0" fill="#450a68"/>
<path d="M312.07 155.07a1.1 1.1 0 1 0 2.2 0a1.1 1.1 0 1 0 -2.2 0M314.12 155.67a1.1 1.1 0 1 0 2.2 0a1.1 1.1 0 1 0 -2.2 0M316.03 156.64a1.1 1.1 0 1 0 2.2 0a1.1 1.1 0 1 0 -2.2 0M317.83 157.32a1.1 1.1 0 1 0 2.2 0a1.1 1.1 0 1 0 -2.2 0M319.91 158.03a1.1 1.1 0 1 0 2.2 0a1.1 1.1 0 1 0 -2.2 0M321.69 157.93a1.1 1.1 0 1 0 2.2 0a1.1 1.1 0 1 0 -2.2 0M323.59 157.27a1.1 1.1 0 1 0 2.2 0a1.1 1.1 0 1 0 -2.2 0M325.48 156.66a1.1 1.1 0 1 0 2.2 0a1.1 1.1 0 1 0 -2.2 0M327.60 155.65a1.1 1.1 0 1 0 2.2 0a1.1 1.1 0 1 0 -2.2 0M329.32 155.13a1.1 1.1 0 1 0 2.2 0a1.1 1.1 0 1 0 -2.2 0" fill="#450a68"/>
<path d="M312.26 158.87a1.1 1.1 0 1 0 2.2 0a1.1 1.1 0 1 0 -2.2 0M313.97 159.73a1.1 1.1 0 1 0 2.2 0a1.1 1.1 0 1 0 -2.2 0M316.06 160.23a1.1 1.1 0 1 0 2.2 0a1.1 1.1 0 1 0 -2.2 0M317.91 161.17a1.1 1.1 0 1 0 2.2 0a1.1 1.1 0 1 0 -2.2 0M319.93 161.52a1.1 1.1 0 1 0 2.2 0a1.1 1.1 0 1 0 -2.2 0M321.79 161.50a1.1 1.1 0 1 0 2.2 0a1.1 1.1 0 1 0 -2.2 0M323.81 161.02a1.1 1.1 0 1 0 2.2 0a1.1 1.1 0 1 0 -2.2 0M325.70 160.43a1.1 1.1 0 1 0 2.2 0a1.1 1.1 0 1 0 -2.2 0M327.52 159.41a1.1 1.1 0 1 0 2.2 0a1.1 1.1 0 1 0 -2.2 0M329.41 158.52a1.1 1.1 0 1 0 2.2 0a1.1 1.1 0 1 0 -2.2 0" fill="#450a68"/>
<path d="M312.09 162.61a1.1 1.1 0 1 0 2.2 0a1.1 1.1 0 1 0 -2.2 0M314.07 163.46a1.1 1.1 0 1 0 2.2 0a1.1 1.1 0 1 0 -2.2 0M315.94 164.23a1.1 1.1 0 1 0 2.2 0a1.1 1.1 0 1 0 -2.2 0M318.00 164.75a1.1 1.1 0 1 0 2.2 0a1.1 1.1 0 1 0 -2.2 0M319.73 165.42a1.1 1.1 0 1 0 2.2 0a1.1 1.1 0 1 0 -2.2 0M321.75 165.27a1.1 1.1 0 1 0 2.2 0a1.1 1.1 0 1 0 -2.2 0M323.57 164.62a1.1 1.1 0 1 0 2.2 0a1.1 1.1 0 1 0 -2.2 0M325.61 164.31a1.1 1.1 0 1 0 2.2 0a1.1 1.1 0 1 0 -2.2 0M327.40 163.10a1.1 1.1 0 1 0 2.2 0a1.1 1.1 0 1 0 -2.2 0M329.46 162.66a1.1 1.1 0 1 0 2.2 0a1.1 1.1 0 1 0 -2.2 0" fill="#450a68"/>
<path d="M312.34 166.36a1.1 1.1 0 1 0 2.2 0a1.1 1.1 0 1 0 -2.2 0M314.06 167.30a1.1 1.1 0 1 0 2.2 0a1.1 1.1 0 1 0 -2.2 0M315.91 168.02a1.1 1.1 0 1 0 2.2 0a1.1 1.1 0 1 0 -2.2 0M317.81 168.59a1.1 1.1 0 1 0 2.2 0a1.1 1.1 0 1 0 -2.2 0M319.84 169.21a1.1 1.1 0 1 0 2.2 0a1.1 1.1 0 1 0 -2.2 0M321.66 169.14a1.1 1.1 0 1 0 2.2 0a1.1 1.1 0 1 0 -2.2 0M323.76 168.63a1.1 1.1 0 1 0 2.2 0a1.1 1.1 0 1 0 -2.2 0M325.60 167.78a1.1 1.1 0 1 0 2.2 0a1.1 1.1 0 1 0 -2.2 0M327.55 167.05a1.1 1.1 0 1 0 2.2 0a1.1 1.1 0 1 0 -2.2 0M329.43 166.50a1.1 1.1 0 1 0 2.2 0a1.1 1.1 0 1 0 -2.2 0" fill="#450a68"/>
<path d="M312.35 169.87a1.1 1.1 0 1 0 2.2 0a1.1 1.1 0 1 0 -2.2 0M314.20 171.11a1.1 1.1 0 1 0 2.2 0a1.1 1.1 0 1 0 -2.2 0M315.97 171.66a1.1 1.1 0 1 0 2.2 0a1.1 1.1 0 1 0 -2.2 0M317.96 172.65a1.1 1.1 0 1 0 2.2 0a1.1 1.1 0 1 0 -2.2 0M319.81 173.26a1.1 1.1 0 1 0 2.2 0a1.1 1.1 0 1 0 -2.2 0M321.83 172.90a1.1 1.1 0 1 0 2.2 0a1.1 1.1 0 1 0 -2.2 0M323.79 172.20a1.1 1.1 0 1 0 2.2 0a1.1 1.1 0 1 0 -2.2 0M325.47 171.80a1.1 1.1 0 1 0 2.2 0a1.1 1.1 0 1 0 -2.2 0M327.36 170.87a1.1 1.1 0 1 0 2.2 0a1.1 1.1 0 1 0 -2.2 0M329.29 170.08a1.1 1.1 0 1 0 2.2 0a1.1 1.1 0 1 0 -2.2 0" fill="#450a68"/>
<path d="M312.30 174.10a1.1 1.1 0 1 0 2.2 0a1.1 1.1 0 1 0 -2.2 0M313.97 174.51a1.1 1.1 0 1 0 2.2 0a1.1 1.1 0 1 0 -2.2 0M316.12 175.29a1.1 1.1 0 1 0 2.2 0a1.1 1.1 0 1 0 -2.2 0M317.87 176.05a1.1 1.1 0 1 0 2.2 0a1.1 1.1 0 1 0 -2.2 0M319.72 176.63a1.1 1.1 0 1 0 2.2 0a1.1 1.1 0 1 0 -2.2 0M321.80 176.99a1.1 1.1 0 1 0 2.2 0a1.1 1.1 0 1 0 -2.2 0M323.72 176.42a1.1 1.1 0 1 0 2.2 0a1.1 1.1 0 1 0 -2.2 0M325.63 175.46a1.1 1.1 0 1 0 2.2 0a1.1 1.1 0 1 0 -2.2 0M327.53 174.97a1.1 1.1 0 1 0 2.2 0a1.1 1.1 0 1 0 -2.2 0M329.44 173.77a1.1 1.1 0 1 0 2.2 0a1.1 1.1 0 1 0 -2.2 0" fill="#450a68"/>
<path d="M312.07 177.92a1.1 1.1 0 1 0 2.2 0a1.1 1.1 0 1 0 -2.2 0M314.14 178.46a1.1 1.1 0 1 0 2.2 0a1.1 1.1 0 1 0 -2.2 0M316.05 179.35a1.1 1.1 0 1 0 2.2 0a1.1 1.1 0 1 0 -2.2 0M317.94 179.82a1.1 1.1 0 1 0 2.2 0a1.1 1.1 0 1 0 -2.2 0M319.80 180.63a1.1 1.1 0 1 0 2.2 0a1.1 1.1 0 1 0 -2.2 0M321.67 180.86a1.1 1.1 0 1 0 2.2 0a1.1 1.1 0 1 0 -2.2 0M323.64 180.12a1.1 1.1 0 1 0 2.2 0a1.1 1.1 0 1 0 -2.2 0M325.64 179.44a1.1 1.1 0 1 0 2.2 0a1.1 1.1 0 1 0 -2.2 0M327.56 178.66a1.1 1.1 0 1 0 2.2 0a1.1 1.1 0 1 0 -2.2 0M329.33 177.94a1.1 1.1 0 1 0 2.2 0a1.1 1.1 0 1 0 -2.2 0" fill="#450a68"/>
<path d="M312.10 181.71a1.1 1.1 0 1 0 2.2 0a1.1 1.1 0 1 0 -2.2 0M314.22 182.51a1.1 1.1 0 1 0 2.2 0a1.1 1.1 0 1 0 -2.2 0M315.89 182.92a1.1 1.1 0 1 0 2.2 0a1.1 1.1 0 1 0 -2.2 0M318.03 183.83a1.1 1.1 0 1 0 2.2 0a1.1 1.1 0 1 0 -2.2 0M319.81 184.71a1.1 1.1 0 1 0 2.2 0a1.1 1.1 0 1 0 -2.2 0M321.62 184.49a1.1 1.1 0 1 0 2.2 0a1.1 1.1 0 1 0 -2.2 0M323.65 183.66a1.1 1.1 0 1 0 2.2 0a1.1 1.1 0 1 0 -2.2 0M325.55 183.22a1.1 1.1 0 1 0 2.2 0a1.1 1.1 0 1 0 -2.2 0M327.60 182.10a1.1 1.1 0 1 0 2.2 0a1.1 1.1 0 1 0 -2.2 0M329.41 181.30a1.1 1.1 0 1 0 2.2 0a1.1 1.1 0 1 0 -2.2 0" fill="#450a68"/>
<path d="M312.29 185.09a1.1 1.1 0 1 0 2.2 0a1.1 1.1 0 1 0 -2.2 0M313.97 186.08a1.1 1.1 0 1 0 2.2 0a1.1 1.1 0 1 0 -2.2 0M316.09 186.83a1.1 1.1 0 1 0 2.2 0a1.1 1.1 0 1 0 -2.2 0M317.82 187.79a1.1 1.1 0 1 0 2.2 0a1.1 1.1 0 1 0 -2.2 0M319.94 188.45a1.1 1.1 0 1 0 2.2 0a1.1 1.1 0 1 0 -2.2 0M321.70 188.23a1.1 1.1 0 1 0 2.2 0a1.1 1.1 0 1 0 -2.2 0M323.59 187.67a1.1 1.1 0 1 0 2.2 0a1.1 1.1 0 1 0 -2.2 0M325.53 186.84a1.1 1.1 0 1 0 2.2 0a1.1 1.1 0 1 0 -2.2 0M327.57 186.36a1.1 1.1 0 1 0 2.2 0a1.1 1.1 0 1 0 -2.2 0M329.43 185.10a1.1 1.1 0 1 0 2.2 0a1.1 1.1 0 1 0 -2.2 0" fill="#450a68"/>
<path d="M319.35 27.40a1.05 1.05 0 1 0 2.1 0a1.05 1.05 0 1 0 -2.1 0M322.75 29.70a1.05 1.05 0 1 0 2.1 0a1.05 1.05 0 1 0 -2.1 0M321.15 36.10a1.05 1.05 0 1 0 2.1 0a1.05 1.05 0 1 0 -2.1 0M320.55 41.20a1.05 1.05 0 1 0 2.1 0a1.05 1.05 0 1 0 -2.1 0M320.55 46.60a1.05 1.05 0 1 0 2.1 0a1.05 1.05 0 1 0 -2.1 0M313.05 51.10a1.05 1.05 0 1 0 2.1 0a1.05 1.05 0 1 0 -2.1 0M327.85 49.80a1.05 1.05 0 1 0 2.1 0a1.05 1.05 0 1 0 -2.1 0M317.65 52.90a1.05 1.05 0 1 0 2.1 0a1.05 1.05 0 1 0 -2.1 0M320.75 52.90a1.05 1.05 0 1 0 2.1 0a1.05 1.05 0 1 0 -2.1 0M324.35 52.90a1.05 1.05 0 1 0 2.1 0a1.05 1.05 0 1 0 -2.1 0M317.65 56.50a1.05 1.05 0 1 0 2.1 0a1.05 1.05 0 1 0 -2.1 0M313.35 60.90a1.05 1.05 0 1 0 2.1 0a1.05 1.05 0 1 0 -2.1 0M320.75 60.00a1.05 1.05 0 1 0 2.1 0a1.05 1.05 0 1 0 -2.1 0M324.35 58.90a1.05 1.05 0 1 0 2.1 0a1.05 1.05 0 1 0 -2.1 0M316.75 63.20a1.05 1.05 0 1 0 2.1 0a1.05 1.05 0 1 0 -2.1 0M314.95 65.40a1.05 1.05 0 1 0 2.1 0a1.05 1.05 0 1 0 -2.1 0M318.95 64.60a1.05 1.05 0 1 0 2.1 0a1.05 1.05 0 1 0 -2.1 0M322.75 64.60a1.05 1.05 0 1 0 2.1 0a1.05 1.05 0 1 0 -2.1 0M325.65 63.60a1.05 1.05 0 1 0 2.1 0a1.05 1.05 0 1 0 -2.1 0M328.35 63.00a1.05 1.05 0 1 0 2.1 0a1.05 1.05 0 1 0 -2.1 0M317.65 67.70a1.05 1.05 0 1 0 2.1 0a1.05 1.05 0 1 0 -2.1 0M318.95 69.90a1.05 1.05 0 1 0 2.1 0a1.05 1.05 0 1 0 -2.1 0M322.05 67.20a1.05 1.05 0 1 0 2.1 0a1.05 1.05 0 1 0 -2.1 0M325.15 66.70a1.05 1.05 0 1 0 2.1 0a1.05 1.05 0 1 0 -2.1 0M323.45 71.20a1.05 1.05 0 1 0 2.1 0a1.05 1.05 0 1 0 -2.1 0M323.05 73.60a1.05 1.05 0 1 0 2.1 0a1.05 1.05 0 1 0 -2.1 0M315.05 76.40a1.05 1.05 0 1 0 2.1 0a1.05 1.05 0 1 0 -2.1 0M317.05 77.50a1.05 1.05 0 1 0 2.1 0a1.05 1.05 0 1 0 -2.1 0M319.05 78.30a1.05 1.05 0 1 0 2.1 0a1.05 1.05 0 1 0 -2.1 0M321.05 78.50a1.05 1.05 0 1 0 2.1 0a1.05 1.05 0 1 0 -2.1 0M323.05 77.80a1.05 1.05 0 1 0 2.1 0a1.05 1.05 0 1 0 -2.1 0M325.35 76.80a1.05 1.05 0 1 0 2.1 0a1.05 1.05 0 1 0 -2.1 0M327.55 75.90a1.05 1.05 0 1 0 2.1 0a1.05 1.05 0 1 0 -2.1 0M315.45 80.70a1.05 1.05 0 1 0 2.1 0a1.05 1.05 0 1 0 -2.1 0M327.95 81.30a1.05 1.05 0 1 0 2.1 0a1.05 1.05 0 1 0 -2.1 0M314.05 85.50a1.05 1.05 0 1 0 2.1 0a1.05 1.05 0 1 0 -2.1 0M318.85 84.70a1.05 1.05 0 1 0 2.1 0a1.05 1.05 0 1 0 -2.1 0M324.05 84.10a1.05 1.05 0 1 0 2.1 0a1.05 1.05 0 1 0 -2.1 0M323.05 86.40a1.05 1.05 0 1 0 2.1 0a1.05 1.05 0 1 0 -2.1 0M317.45 88.80a1.05 1.05 0 1 0 2.1 0a1.05 1.05 0 1 0 -2.1 0M320.85 88.90a1.05 1.05 0 1 0 2.1 0a1.05 1.05 0 1 0 -2.1 0M324.25 89.90a1.05 1.05 0 1 0 2.1 0a1.05 1.05 0 1 0 -2.1 0M326.45 88.50a1.05 1.05 0 1 0 2.1 0a1.05 1.05 0 1 0 -2.1 0M316.75 92.60a1.05 1.05 0 1 0 2.1 0a1.05 1.05 0 1 0 -2.1 0M321.35 93.00a1.05 1.05 0 1 0 2.1 0a1.05 1.05 0 1 0 -2.1 0M323.45 94.40a1.05 1.05 0 1 0 2.1 0a1.05 1.05 0 1 0 -2.1 0M327.25 94.20a1.05 1.05 0 1 0 2.1 0a1.05 1.05 0 1 0 -2.1 0M314.35 95.40a1.05 1.05 0 1 0 2.1 0a1.05 1.05 0 1 0 -2.1 0M318.65 94.60a1.05 1.05 0 1 0 2.1 0a1.05 1.05 0 1 0 -2.1 0M317.05 96.20a1.05 1.05 0 1 0 2.1 0a1.05 1.05 0 1 0 -2.1 0M324.25 95.50a1.05 1.05 0 1 0 2.1 0a1.05 1.05 0 1 0 -2.1 0M313.45 98.50a1.05 1.05 0 1 0 2.1 0a1.05 1.05 0 1 0 -2.1 0M320.05 97.60a1.05 1.05 0 1 0 2.1 0a1.05 1.05 0 1 0 -2.1 0M328.55 98.00a1.05 1.05 0 1 0 2.1 0a1.05 1.05 0 1 0 -2.1 0M315.85 99.80a1.05 1.05 0 1 0 2.1 0a1.05 1.05 0 1 0 -2.1 0M318.25 99.80a1.05 1.05 0 1 0 2.1 0a1.05 1.05 0 1 0 -2.1 0M323.45 99.80a1.05 1.05 0 1 0 2.1 0a1.05 1.05 0 1 0 -2.1 0M326.15 100.20a1.05 1.05 0 1 0 2.1 0a1.05 1.05 0 1 0 -2.1 0M312.95 101.40a1.05 1.05 0 1 0 2.1 0a1.05 1.05 0 1 0 -2.1 0M314.75 102.00a1.05 1.05 0 1 0 2.1 0a1.05 1.05 0 1 0 -2.1 0M316.65 102.60a1.05 1.05 0 1 0 2.1 0a1.05 1.05 0 1 0 -2.1 0M318.45 103.30a1.05 1.05 0 1 0 2.1 0a1.05 1.05 0 1 0 -2.1 0M320.25 103.90a1.05 1.05 0 1 0 2.1 0a1.05 1.05 0 1 0 -2.1 0M321.85 103.60a1.05 1.05 0 1 0 2.1 0a1.05 1.05 0 1 0 -2.1 0M323.45 103.30a1.05 1.05 0 1 0 2.1 0a1.05 1.05 0 1 0 -2.1 0M325.15 102.60a1.05 1.05 0 1 0 2.1 0a1.05 1.05 0 1 0 -2.1 0M326.75 101.80a1.05 1.05 0 1 0 2.1 0a1.05 1.05 0 1 0 -2.1 0M328.45 101.20a1.05 1.05 0 1 0 2.1 0a1.05 1.05 0 1 0 -2.1 0" fill="#3f0862"/>
<path d="M228.80 177.40H249.20" stroke="#2c2c2c" stroke-width="1.1"/><rect x="233.00" y="176.10" width="12.00" height="2.70" rx="0.5" fill="#050505"/>
<path d="M256.40 164.50H276.80" stroke="#2c2c2c" stroke-width="1.1"/><path d="M260.90 160.50H272.30M260.90 169.20H272.30M266.60 160.50V169.20" stroke="#2c2c2c" stroke-width="1.1" fill="none"/>
<path d="M284.60 165.60H305.00" stroke="#2c2c2c" stroke-width="1.1"/><path d="M289.10 159.90H300.50M289.10 172.40H300.50M294.80 159.90V172.40" stroke="#2c2c2c" stroke-width="1.1" fill="none"/>
<path d="M311.80 148.50H332.20" stroke="#2c2c2c" stroke-width="1.1"/><rect x="316.60" y="146.60" width="10.80" height="3.70" rx="0.5" fill="#050505"/>
<path d="M390.4 6.0V190.9H512.6" fill="none" stroke="#1c1c1c" stroke-width="1.45"/>
<path d="M387.2 190.90H390.4" stroke="#1c1c1c" stroke-width="1.1"/>
<text x="385.30" y="193.90" class="tk" text-anchor="end">0</text>
<path d="M387.2 154.98H390.4" stroke="#1c1c1c" stroke-width="1.1"/>
<text x="385.30" y="157.98" class="tk" text-anchor="end">200</text>
<path d="M387.2 119.06H390.4" stroke="#1c1c1c" stroke-width="1.1"/>
<text x="385.30" y="122.06" class="tk" text-anchor="end">400</text>
<path d="M387.2 83.14H390.4" stroke="#1c1c1c" stroke-width="1.1"/>
<text x="385.30" y="86.14" class="tk" text-anchor="end">600</text>
<path d="M387.2 47.22H390.4" stroke="#1c1c1c" stroke-width="1.1"/>
<text x="385.30" y="50.22" class="tk" text-anchor="end">800</text>
<path d="M387.2 11.30H390.4" stroke="#1c1c1c" stroke-width="1.1"/>
<text x="385.30" y="14.30" class="tk" text-anchor="end">1000</text>
<path d="M408.50 190.9V194.1" stroke="#1c1c1c" stroke-width="1.1"/>
<text transform="translate(411.60 200.90) rotate(-45)" class="xl" text-anchor="end">NPC</text>
<path d="M436.50 190.9V194.1" stroke="#1c1c1c" stroke-width="1.1"/>
<text transform="translate(439.60 200.90) rotate(-45)" class="xl" text-anchor="end">MGUS</text>
<path d="M464.50 190.9V194.1" stroke="#1c1c1c" stroke-width="1.1"/>
<text transform="translate(467.60 200.90) rotate(-45)" class="xl" text-anchor="end">SMM</text>
<path d="M492.50 190.9V194.1" stroke="#1c1c1c" stroke-width="1.1"/>
<text transform="translate(495.60 200.90) rotate(-45)" class="xl" text-anchor="end">MM</text>
<text x="401.25" y="24.3" class="ti" textLength="25.45" lengthAdjust="spacingAndGlyphs">MPP6</text>
<text x="401.25" y="33.8" class="pv" textLength="27.7" lengthAdjust="spacingAndGlyphs">p&lt;.0001</text>
<path d="M407.25 130.90h3.1l-1.55-2.75zM407.25 146.60h3.1l-1.55-2.75zM406.85 153.90h3.1l-1.55-2.75zM403.35 159.40h3.1l-1.55-2.75zM406.85 161.90h3.1l-1.55-2.75zM410.65 161.10h3.1l-1.55-2.75zM406.85 165.20h3.1l-1.55-2.75zM403.35 167.70h3.1l-1.55-2.75zM410.65 169.10h3.1l-1.55-2.75zM399.55 172.10h3.1l-1.55-2.75zM414.95 171.00h3.1l-1.55-2.75zM403.65 174.20h3.1l-1.55-2.75zM407.25 174.50h3.1l-1.55-2.75zM410.65 173.50h3.1l-1.55-2.75zM406.85 178.30h3.1l-1.55-2.75zM401.85 181.50h3.1l-1.55-2.75zM405.35 183.30h3.1l-1.55-2.75zM410.65 183.30h3.1l-1.55-2.75zM414.15 182.70h3.1l-1.55-2.75zM405.05 188.10h3.1l-1.55-2.75zM408.75 187.30h3.1l-1.55-2.75z" fill="#cc0a2c"/>
<path d="M434.55 122.80h3.1l-1.55 2.7zM431.45 132.60h3.1l-1.55 2.7zM434.95 134.00h3.1l-1.55 2.7zM438.65 132.20h3.1l-1.55 2.7zM431.05 138.10h3.1l-1.55 2.7zM434.95 140.30h3.1l-1.55 2.7zM438.65 138.70h3.1l-1.55 2.7zM432.85 143.90h3.1l-1.55 2.7zM436.75 145.50h3.1l-1.55 2.7zM427.45 147.90h3.1l-1.55 2.7zM443.95 148.30h3.1l-1.55 2.7zM430.95 149.10h3.1l-1.55 2.7zM434.65 150.30h3.1l-1.55 2.7zM438.15 149.60h3.1l-1.55 2.7zM429.45 151.70h3.1l-1.55 2.7zM442.55 152.00h3.1l-1.55 2.7zM433.05 154.10h3.1l-1.55 2.7zM438.35 154.10h3.1l-1.55 2.7zM429.75 156.60h3.1l-1.55 2.7zM436.75 156.60h3.1l-1.55 2.7zM440.25 156.60h3.1l-1.55 2.7zM427.25 159.80h3.1l-1.55 2.7zM432.55 159.80h3.1l-1.55 2.7zM442.55 159.80h3.1l-1.55 2.7zM430.95 163.00h3.1l-1.55 2.7zM438.35 162.50h3.1l-1.55 2.7zM436.75 166.40h3.1l-1.55 2.7zM430.45 170.30h3.1l-1.55 2.7zM433.65 168.90h3.1l-1.55 2.7zM438.85 169.10h3.1l-1.55 2.7zM434.95 173.80h3.1l-1.55 2.7zM429.75 178.00h3.1l-1.55 2.7zM433.05 178.00h3.1l-1.55 2.7zM436.25 177.70h3.1l-1.55 2.7zM439.65 178.00h3.1l-1.55 2.7zM427.25 183.60h3.1l-1.55 2.7zM430.45 183.60h3.1l-1.55 2.7zM434.95 182.50h3.1l-1.55 2.7zM439.95 184.30h3.1l-1.55 2.7zM442.55 183.60h3.1l-1.55 2.7zM432.25 186.40h3.1l-1.55 2.7zM434.95 187.20h3.1l-1.55 2.7zM437.25 186.40h3.1l-1.55 2.7z" fill="#0c4a8c"/>
<path d="M462.90 115.10a1.1 1.1 0 1 0 2.2 0a1.1 1.1 0 1 0 -2.2 0M462.90 122.50a1.1 1.1 0 1 0 2.2 0a1.1 1.1 0 1 0 -2.2 0M462.90 141.00a1.1 1.1 0 1 0 2.2 0a1.1 1.1 0 1 0 -2.2 0M462.90 145.90a1.1 1.1 0 1 0 2.2 0a1.1 1.1 0 1 0 -2.2 0M462.90 150.70a1.1 1.1 0 1 0 2.2 0a1.1 1.1 0 1 0 -2.2 0M457.70 154.00a1.1 1.1 0 1 0 2.2 0a1.1 1.1 0 1 0 -2.2 0M461.50 156.00a1.1 1.1 0 1 0 2.2 0a1.1 1.1 0 1 0 -2.2 0M465.40 155.20a1.1 1.1 0 1 0 2.2 0a1.1 1.1 0 1 0 -2.2 0M468.40 153.20a1.1 1.1 0 1 0 2.2 0a1.1 1.1 0 1 0 -2.2 0M461.00 175.40a1.1 1.1 0 1 0 2.2 0a1.1 1.1 0 1 0 -2.2 0M464.90 177.40a1.1 1.1 0 1 0 2.2 0a1.1 1.1 0 1 0 -2.2 0M462.90 182.80a1.1 1.1 0 1 0 2.2 0a1.1 1.1 0 1 0 -2.2 0" fill="#18a838"/>
<path d="M481.95 103.57a1.1 1.1 0 1 0 2.2 0a1.1 1.1 0 1 0 -2.2 0M484.17 104.64a1.1 1.1 0 1 0 2.2 0a1.1 1.1 0 1 0 -2.2 0M486.25 105.51a1.1 1.1 0 1 0 2.2 0a1.1 1.1 0 1 0 -2.2 0M488.29 106.39a1.1 1.1 0 1 0 2.2 0a1.1 1.1 0 1 0 -2.2 0M490.50 106.70a1.1 1.1 0 1 0 2.2 0a1.1 1.1 0 1 0 -2.2 0M492.42 106.13a1.1 1.1 0 1 0 2.2 0a1.1 1.1 0 1 0 -2.2 0M494.66 105.21a1.1 1.1 0 1 0 2.2 0a1.1 1.1 0 1 0 -2.2 0M496.73 104.57a1.1 1.1 0 1 0 2.2 0a1.1 1.1 0 1 0 -2.2 0M498.76 103.76a1.1 1.1 0 1 0 2.2 0a1.1 1.1 0 1 0 -2.2 0" fill="#450a68"/>
<path d="M481.95 107.25a1.1 1.1 0 1 0 2.2 0a1.1 1.1 0 1 0 -2.2 0M483.96 108.21a1.1 1.1 0 1 0 2.2 0a1.1 1.1 0 1 0 -2.2 0M486.10 109.28a1.1 1.1 0 1 0 2.2 0a1.1 1.1 0 1 0 -2.2 0M488.28 109.95a1.1 1.1 0 1 0 2.2 0a1.1 1.1 0 1 0 -2.2 0M490.29 110.75a1.1 1.1 0 1 0 2.2 0a1.1 1.1 0 1 0 -2.2 0M492.47 109.85a1.1 1.1 0 1 0 2.2 0a1.1 1.1 0 1 0 -2.2 0M494.52 109.39a1.1 1.1 0 1 0 2.2 0a1.1 1.1 0 1 0 -2.2 0M496.77 108.49a1.1 1.1 0 1 0 2.2 0a1.1 1.1 0 1 0 -2.2 0M499.03 107.58a1.1 1.1 0 1 0 2.2 0a1.1 1.1 0 1 0 -2.2 0" fill="#450a68"/>
<path d="M481.99 111.30a1.1 1.1 0 1 0 2.2 0a1.1 1.1 0 1 0 -2.2 0M484.15 112.17a1.1 1.1 0 1 0 2.2 0a1.1 1.1 0 1 0 -2.2 0M486.04 112.91a1.1 1.1 0 1 0 2.2 0a1.1 1.1 0 1 0 -2.2 0M488.30 113.93a1.1 1.1 0 1 0 2.2 0a1.1 1.1 0 1 0 -2.2 0M490.49 114.39a1.1 1.1 0 1 0 2.2 0a1.1 1.1 0 1 0 -2.2 0M492.60 113.61a1.1 1.1 0 1 0 2.2 0a1.1 1.1 0 1 0 -2.2 0M494.78 112.97a1.1 1.1 0 1 0 2.2 0a1.1 1.1 0 1 0 -2.2 0M496.75 112.01a1.1 1.1 0 1 0 2.2 0a1.1 1.1 0 1 0 -2.2 0M499.04 111.11a1.1 1.1 0 1 0 2.2 0a1.1 1.1 0 1 0 -2.2 0" fill="#450a68"/>
<path d="M481.80 114.66a1.1 1.1 0 1 0 2.2 0a1.1 1.1 0 1 0 -2.2 0M484.08 115.80a1.1 1.1 0 1 0 2.2 0a1.1 1.1 0 1 0 -2.2 0M486.27 116.48a1.1 1.1 0 1 0 2.2 0a1.1 1.1 0 1 0 -2.2 0M488.25 117.54a1.1 1.1 0 1 0 2.2 0a1.1 1.1 0 1 0 -2.2 0M490.27 117.83a1.1 1.1 0 1 0 2.2 0a1.1 1.1 0 1 0 -2.2 0M492.54 117.31a1.1 1.1 0 1 0 2.2 0a1.1 1.1 0 1 0 -2.2 0M494.53 116.52a1.1 1.1 0 1 0 2.2 0a1.1 1.1 0 1 0 -2.2 0M496.81 115.78a1.1 1.1 0 1 0 2.2 0a1.1 1.1 0 1 0 -2.2 0M498.77 114.62a1.1 1.1 0 1 0 2.2 0a1.1 1.1 0 1 0 -2.2 0" fill="#450a68"/>
<path d="M482.01 118.65a1.1 1.1 0 1 0 2.2 0a1.1 1.1 0 1 0 -2.2 0M483.93 119.70a1.1 1.1 0 1 0 2.2 0a1.1 1.1 0 1 0 -2.2 0M486.01 120.32a1.1 1.1 0 1 0 2.2 0a1.1 1.1 0 1 0 -2.2 0M488.38 121.28a1.1 1.1 0 1 0 2.2 0a1.1 1.1 0 1 0 -2.2 0M490.34 121.98a1.1 1.1 0 1 0 2.2 0a1.1 1.1 0 1 0 -2.2 0M492.55 121.36a1.1 1.1 0 1 0 2.2 0a1.1 1.1 0 1 0 -2.2 0M494.77 120.35a1.1 1.1 0 1 0 2.2 0a1.1 1.1 0 1 0 -2.2 0M496.83 119.54a1.1 1.1 0 1 0 2.2 0a1.1 1.1 0 1 0 -2.2 0M499.03 118.73a1.1 1.1 0 1 0 2.2 0a1.1 1.1 0 1 0 -2.2 0" fill="#450a68"/>
<path d="M481.97 122.48a1.1 1.1 0 1 0 2.2 0a1.1 1.1 0 1 0 -2.2 0M484.17 123.14a1.1 1.1 0 1 0 2.2 0a1.1 1.1 0 1 0 -2.2 0M486.06 124.26a1.1 1.1 0 1 0 2.2 0a1.1 1.1 0 1 0 -2.2 0M488.36 124.93a1.1 1.1 0 1 0 2.2 0a1.1 1.1 0 1 0 -2.2 0M490.40 125.48a1.1 1.1 0 1 0 2.2 0a1.1 1.1 0 1 0 -2.2 0M492.64 125.07a1.1 1.1 0 1 0 2.2 0a1.1 1.1 0 1 0 -2.2 0M494.68 123.90a1.1 1.1 0 1 0 2.2 0a1.1 1.1 0 1 0 -2.2 0M496.88 123.24a1.1 1.1 0 1 0 2.2 0a1.1 1.1 0 1 0 -2.2 0M498.81 122.22a1.1 1.1 0 1 0 2.2 0a1.1 1.1 0 1 0 -2.2 0" fill="#450a68"/>
<path d="M481.96 125.82a1.1 1.1 0 1 0 2.2 0a1.1 1.1 0 1 0 -2.2 0M483.91 126.91a1.1 1.1 0 1 0 2.2 0a1.1 1.1 0 1 0 -2.2 0M486.27 128.00a1.1 1.1 0 1 0 2.2 0a1.1 1.1 0 1 0 -2.2 0M488.42 128.69a1.1 1.1 0 1 0 2.2 0a1.1 1.1 0 1 0 -2.2 0M490.42 129.30a1.1 1.1 0 1 0 2.2 0a1.1 1.1 0 1 0 -2.2 0M492.53 128.68a1.1 1.1 0 1 0 2.2 0a1.1 1.1 0 1 0 -2.2 0M494.75 128.10a1.1 1.1 0 1 0 2.2 0a1.1 1.1 0 1 0 -2.2 0M496.75 127.07a1.1 1.1 0 1 0 2.2 0a1.1 1.1 0 1 0 -2.2 0M498.84 125.97a1.1 1.1 0 1 0 2.2 0a1.1 1.1 0 1 0 -2.2 0" fill="#450a68"/>
<path d="M481.90 129.86a1.1 1.1 0 1 0 2.2 0a1.1 1.1 0 1 0 -2.2 0M484.04 130.99a1.1 1.1 0 1 0 2.2 0a1.1 1.1 0 1 0 -2.2 0M486.05 131.69a1.1 1.1 0 1 0 2.2 0a1.1 1.1 0 1 0 -2.2 0M488.42 132.53a1.1 1.1 0 1 0 2.2 0a1.1 1.1 0 1 0 -2.2 0M490.42 132.95a1.1 1.1 0 1 0 2.2 0a1.1 1.1 0 1 0 -2.2 0M492.50 132.63a1.1 1.1 0 1 0 2.2 0a1.1 1.1 0 1 0 -2.2 0M494.77 131.71a1.1 1.1 0 1 0 2.2 0a1.1 1.1 0 1 0 -2.2 0M496.89 130.96a1.1 1.1 0 1 0 2.2 0a1.1 1.1 0 1 0 -2.2 0M499.00 129.76a1.1 1.1 0 1 0 2.2 0a1.1 1.1 0 1 0 -2.2 0" fill="#450a68"/>
<path d="M481.89 133.71a1.1 1.1 0 1 0 2.2 0a1.1 1.1 0 1 0 -2.2 0M483.99 134.62a1.1 1.1 0 1 0 2.2 0a1.1 1.1 0 1 0 -2.2 0M486.14 135.29a1.1 1.1 0 1 0 2.2 0a1.1 1.1 0 1 0 -2.2 0M488.26 135.96a1.1 1.1 0 1 0 2.2 0a1.1 1.1 0 1 0 -2.2 0M490.36 136.72a1.1 1.1 0 1 0 2.2 0a1.1 1.1 0 1 0 -2.2 0M492.38 135.99a1.1 1.1 0 1 0 2.2 0a1.1 1.1 0 1 0 -2.2 0M494.58 135.55a1.1 1.1 0 1 0 2.2 0a1.1 1.1 0 1 0 -2.2 0M496.80 134.39a1.1 1.1 0 1 0 2.2 0a1.1 1.1 0 1 0 -2.2 0M499.05 133.44a1.1 1.1 0 1 0 2.2 0a1.1 1.1 0 1 0 -2.2 0" fill="#450a68"/>
<path d="M481.90 137.42a1.1 1.1 0 1 0 2.2 0a1.1 1.1 0 1 0 -2.2 0M484.08 138.21a1.1 1.1 0 1 0 2.2 0a1.1 1.1 0 1 0 -2.2 0M486.23 139.11a1.1 1.1 0 1 0 2.2 0a1.1 1.1 0 1 0 -2.2 0M488.34 139.89a1.1 1.1 0 1 0 2.2 0a1.1 1.1 0 1 0 -2.2 0M490.54 140.61a1.1 1.1 0 1 0 2.2 0a1.1 1.1 0 1 0 -2.2 0M492.40 139.71a1.1 1.1 0 1 0 2.2 0a1.1 1.1 0 1 0 -2.2 0M494.79 138.98a1.1 1.1 0 1 0 2.2 0a1.1 1.1 0 1 0 -2.2 0M496.63 138.12a1.1 1.1 0 1 0 2.2 0a1.1 1.1 0 1 0 -2.2 0M498.89 137.53a1.1 1.1 0 1 0 2.2 0a1.1 1.1 0 1 0 -2.2 0" fill="#450a68"/>
<path d="M481.87 141.16a1.1 1.1 0 1 0 2.2 0a1.1 1.1 0 1 0 -2.2 0M484.13 141.78a1.1 1.1 0 1 0 2.2 0a1.1 1.1 0 1 0 -2.2 0M486.18 143.11a1.1 1.1 0 1 0 2.2 0a1.1 1.1 0 1 0 -2.2 0M488.29 143.66a1.1 1.1 0 1 0 2.2 0a1.1 1.1 0 1 0 -2.2 0M490.35 144.47a1.1 1.1 0 1 0 2.2 0a1.1 1.1 0 1 0 -2.2 0M492.67 143.45a1.1 1.1 0 1 0 2.2 0a1.1 1.1 0 1 0 -2.2 0M494.67 142.82a1.1 1.1 0 1 0 2.2 0a1.1 1.1 0 1 0 -2.2 0M496.83 141.79a1.1 1.1 0 1 0 2.2 0a1.1 1.1 0 1 0 -2.2 0M498.83 140.94a1.1 1.1 0 1 0 2.2 0a1.1 1.1 0 1 0 -2.2 0" fill="#450a68"/>
<path d="M481.89 144.94a1.1 1.1 0 1 0 2.2 0a1.1 1.1 0 1 0 -2.2 0M484.13 145.87a1.1 1.1 0 1 0 2.2 0a1.1 1.1 0 1 0 -2.2 0M486.20 146.40a1.1 1.1 0 1 0 2.2 0a1.1 1.1 0 1 0 -2.2 0M488.24 147.47a1.1 1.1 0 1 0 2.2 0a1.1 1.1 0 1 0 -2.2 0M490.34 148.00a1.1 1.1 0 1 0 2.2 0a1.1 1.1 0 1 0 -2.2 0M492.65 147.20a1.1 1.1 0 1 0 2.2 0a1.1 1.1 0 1 0 -2.2 0M494.76 146.41a1.1 1.1 0 1 0 2.2 0a1.1 1.1 0 1 0 -2.2 0M496.74 145.93a1.1 1.1 0 1 0 2.2 0a1.1 1.1 0 1 0 -2.2 0M498.81 144.81a1.1 1.1 0 1 0 2.2 0a1.1 1.1 0 1 0 -2.2 0" fill="#450a68"/>
<path d="M481.87 148.73a1.1 1.1 0 1 0 2.2 0a1.1 1.1 0 1 0 -2.2 0M484.17 149.37a1.1 1.1 0 1 0 2.2 0a1.1 1.1 0 1 0 -2.2 0M486.15 150.54a1.1 1.1 0 1 0 2.2 0a1.1 1.1 0 1 0 -2.2 0M488.29 150.99a1.1 1.1 0 1 0 2.2 0a1.1 1.1 0 1 0 -2.2 0M490.48 151.66a1.1 1.1 0 1 0 2.2 0a1.1 1.1 0 1 0 -2.2 0M492.52 150.89a1.1 1.1 0 1 0 2.2 0a1.1 1.1 0 1 0 -2.2 0M494.80 150.43a1.1 1.1 0 1 0 2.2 0a1.1 1.1 0 1 0 -2.2 0M496.90 149.71a1.1 1.1 0 1 0 2.2 0a1.1 1.1 0 1 0 -2.2 0M498.83 148.56a1.1 1.1 0 1 0 2.2 0a1.1 1.1 0 1 0 -2.2 0" fill="#450a68"/>
<path d="M481.88 152.41a1.1 1.1 0 1 0 2.2 0a1.1 1.1 0 1 0 -2.2 0M484.13 153.08a1.1 1.1 0 1 0 2.2 0a1.1 1.1 0 1 0 -2.2 0M486.08 154.20a1.1 1.1 0 1 0 2.2 0a1.1 1.1 0 1 0 -2.2 0M488.25 154.69a1.1 1.1 0 1 0 2.2 0a1.1 1.1 0 1 0 -2.2 0M490.31 155.52a1.1 1.1 0 1 0 2.2 0a1.1 1.1 0 1 0 -2.2 0M492.55 155.11a1.1 1.1 0 1 0 2.2 0a1.1 1.1 0 1 0 -2.2 0M494.66 154.15a1.1 1.1 0 1 0 2.2 0a1.1 1.1 0 1 0 -2.2 0M496.67 153.18a1.1 1.1 0 1 0 2.2 0a1.1 1.1 0 1 0 -2.2 0M498.83 152.38a1.1 1.1 0 1 0 2.2 0a1.1 1.1 0 1 0 -2.2 0" fill="#450a68"/>
<path d="M481.83 155.89a1.1 1.1 0 1 0 2.2 0a1.1 1.1 0 1 0 -2.2 0M483.99 156.95a1.1 1.1 0 1 0 2.2 0a1.1 1.1 0 1 0 -2.2 0M486.10 157.89a1.1 1.1 0 1 0 2.2 0a1.1 1.1 0 1 0 -2.2 0M488.18 158.81a1.1 1.1 0 1 0 2.2 0a1.1 1.1 0 1 0 -2.2 0M490.46 159.25a1.1 1.1 0 1 0 2.2 0a1.1 1.1 0 1 0 -2.2 0M492.39 158.54a1.1 1.1 0 1 0 2.2 0a1.1 1.1 0 1 0 -2.2 0M494.71 157.91a1.1 1.1 0 1 0 2.2 0a1.1 1.1 0 1 0 -2.2 0M496.87 157.16a1.1 1.1 0 1 0 2.2 0a1.1 1.1 0 1 0 -2.2 0M498.84 156.03a1.1 1.1 0 1 0 2.2 0a1.1 1.1 0 1 0 -2.2 0" fill="#450a68"/>
<path d="M481.85 159.59a1.1 1.1 0 1 0 2.2 0a1.1 1.1 0 1 0 -2.2 0M483.92 160.59a1.1 1.1 0 1 0 2.2 0a1.1 1.1 0 1 0 -2.2 0M486.03 161.60a1.1 1.1 0 1 0 2.2 0a1.1 1.1 0 1 0 -2.2 0M488.34 162.40a1.1 1.1 0 1 0 2.2 0a1.1 1.1 0 1 0 -2.2 0M490.46 162.84a1.1 1.1 0 1 0 2.2 0a1.1 1.1 0 1 0 -2.2 0M492.43 162.40a1.1 1.1 0 1 0 2.2 0a1.1 1.1 0 1 0 -2.2 0M494.77 161.54a1.1 1.1 0 1 0 2.2 0a1.1 1.1 0 1 0 -2.2 0M496.63 160.47a1.1 1.1 0 1 0 2.2 0a1.1 1.1 0 1 0 -2.2 0M498.84 159.83a1.1 1.1 0 1 0 2.2 0a1.1 1.1 0 1 0 -2.2 0" fill="#450a68"/>
<path d="M481.78 163.38a1.1 1.1 0 1 0 2.2 0a1.1 1.1 0 1 0 -2.2 0M484.08 164.70a1.1 1.1 0 1 0 2.2 0a1.1 1.1 0 1 0 -2.2 0M486.10 165.38a1.1 1.1 0 1 0 2.2 0a1.1 1.1 0 1 0 -2.2 0M488.28 165.88a1.1 1.1 0 1 0 2.2 0a1.1 1.1 0 1 0 -2.2 0M490.35 166.54a1.1 1.1 0 1 0 2.2 0a1.1 1.1 0 1 0 -2.2 0M492.45 166.25a1.1 1.1 0 1 0 2.2 0a1.1 1.1 0 1 0 -2.2 0M494.70 165.10a1.1 1.1 0 1 0 2.2 0a1.1 1.1 0 1 0 -2.2 0M496.65 164.57a1.1 1.1 0 1 0 2.2 0a1.1 1.1 0 1 0 -2.2 0M498.78 163.43a1.1 1.1 0 1 0 2.2 0a1.1 1.1 0 1 0 -2.2 0" fill="#450a68"/>
<path d="M481.83 167.04a1.1 1.1 0 1 0 2.2 0a1.1 1.1 0 1 0 -2.2 0M483.88 168.02a1.1 1.1 0 1 0 2.2 0a1.1 1.1 0 1 0 -2.2 0M486.12 169.29a1.1 1.1 0 1 0 2.2 0a1.1 1.1 0 1 0 -2.2 0M488.32 169.73a1.1 1.1 0 1 0 2.2 0a1.1 1.1 0 1 0 -2.2 0M490.45 170.35a1.1 1.1 0 1 0 2.2 0a1.1 1.1 0 1 0 -2.2 0M492.53 169.77a1.1 1.1 0 1 0 2.2 0a1.1 1.1 0 1 0 -2.2 0M494.78 169.00a1.1 1.1 0 1 0 2.2 0a1.1 1.1 0 1 0 -2.2 0M496.87 168.27a1.1 1.1 0 1 0 2.2 0a1.1 1.1 0 1 0 -2.2 0M499.00 167.32a1.1 1.1 0 1 0 2.2 0a1.1 1.1 0 1 0 -2.2 0" fill="#450a68"/>
<path d="M482.01 170.96a1.1 1.1 0 1 0 2.2 0a1.1 1.1 0 1 0 -2.2 0M484.08 172.00a1.1 1.1 0 1 0 2.2 0a1.1 1.1 0 1 0 -2.2 0M486.16 172.85a1.1 1.1 0 1 0 2.2 0a1.1 1.1 0 1 0 -2.2 0M488.29 173.55a1.1 1.1 0 1 0 2.2 0a1.1 1.1 0 1 0 -2.2 0M490.52 174.28a1.1 1.1 0 1 0 2.2 0a1.1 1.1 0 1 0 -2.2 0M492.54 173.38a1.1 1.1 0 1 0 2.2 0a1.1 1.1 0 1 0 -2.2 0M494.65 172.65a1.1 1.1 0 1 0 2.2 0a1.1 1.1 0 1 0 -2.2 0M496.69 171.91a1.1 1.1 0 1 0 2.2 0a1.1 1.1 0 1 0 -2.2 0M498.91 170.89a1.1 1.1 0 1 0 2.2 0a1.1 1.1 0 1 0 -2.2 0" fill="#450a68"/>
<path d="M481.83 174.77a1.1 1.1 0 1 0 2.2 0a1.1 1.1 0 1 0 -2.2 0M484.02 175.64a1.1 1.1 0 1 0 2.2 0a1.1 1.1 0 1 0 -2.2 0M486.03 176.50a1.1 1.1 0 1 0 2.2 0a1.1 1.1 0 1 0 -2.2 0M488.32 177.37a1.1 1.1 0 1 0 2.2 0a1.1 1.1 0 1 0 -2.2 0M490.41 178.13a1.1 1.1 0 1 0 2.2 0a1.1 1.1 0 1 0 -2.2 0M492.59 177.44a1.1 1.1 0 1 0 2.2 0a1.1 1.1 0 1 0 -2.2 0M494.51 176.47a1.1 1.1 0 1 0 2.2 0a1.1 1.1 0 1 0 -2.2 0M496.83 175.52a1.1 1.1 0 1 0 2.2 0a1.1 1.1 0 1 0 -2.2 0M499.02 174.58a1.1 1.1 0 1 0 2.2 0a1.1 1.1 0 1 0 -2.2 0" fill="#450a68"/>
<path d="M482.01 178.36a1.1 1.1 0 1 0 2.2 0a1.1 1.1 0 1 0 -2.2 0M484.13 179.61a1.1 1.1 0 1 0 2.2 0a1.1 1.1 0 1 0 -2.2 0M486.10 180.50a1.1 1.1 0 1 0 2.2 0a1.1 1.1 0 1 0 -2.2 0M488.17 181.27a1.1 1.1 0 1 0 2.2 0a1.1 1.1 0 1 0 -2.2 0M490.36 181.67a1.1 1.1 0 1 0 2.2 0a1.1 1.1 0 1 0 -2.2 0M492.41 181.14a1.1 1.1 0 1 0 2.2 0a1.1 1.1 0 1 0 -2.2 0M494.58 180.39a1.1 1.1 0 1 0 2.2 0a1.1 1.1 0 1 0 -2.2 0M496.86 179.49a1.1 1.1 0 1 0 2.2 0a1.1 1.1 0 1 0 -2.2 0M498.75 178.73a1.1 1.1 0 1 0 2.2 0a1.1 1.1 0 1 0 -2.2 0" fill="#450a68"/>
<path d="M482.03 182.32a1.1 1.1 0 1 0 2.2 0a1.1 1.1 0 1 0 -2.2 0M483.99 183.21a1.1 1.1 0 1 0 2.2 0a1.1 1.1 0 1 0 -2.2 0M486.26 184.03a1.1 1.1 0 1 0 2.2 0a1.1 1.1 0 1 0 -2.2 0M488.36 184.89a1.1 1.1 0 1 0 2.2 0a1.1 1.1 0 1 0 -2.2 0M490.38 185.66a1.1 1.1 0 1 0 2.2 0a1.1 1.1 0 1 0 -2.2 0M492.50 184.89a1.1 1.1 0 1 0 2.2 0a1.1 1.1 0 1 0 -2.2 0M494.52 184.04a1.1 1.1 0 1 0 2.2 0a1.1 1.1 0 1 0 -2.2 0M496.64 183.28a1.1 1.1 0 1 0 2.2 0a1.1 1.1 0 1 0 -2.2 0M498.75 182.02a1.1 1.1 0 1 0 2.2 0a1.1 1.1 0 1 0 -2.2 0" fill="#450a68"/>
<path d="M481.78 185.81a1.1 1.1 0 1 0 2.2 0a1.1 1.1 0 1 0 -2.2 0M484.03 186.85a1.1 1.1 0 1 0 2.2 0a1.1 1.1 0 1 0 -2.2 0M486.08 188.04a1.1 1.1 0 1 0 2.2 0a1.1 1.1 0 1 0 -2.2 0M488.40 188.66a1.1 1.1 0 1 0 2.2 0a1.1 1.1 0 1 0 -2.2 0M490.49 189.35a1.1 1.1 0 1 0 2.2 0a1.1 1.1 0 1 0 -2.2 0M492.45 188.74a1.1 1.1 0 1 0 2.2 0a1.1 1.1 0 1 0 -2.2 0M494.57 187.83a1.1 1.1 0 1 0 2.2 0a1.1 1.1 0 1 0 -2.2 0M496.73 186.75a1.1 1.1 0 1 0 2.2 0a1.1 1.1 0 1 0 -2.2 0M498.98 186.20a1.1 1.1 0 1 0 2.2 0a1.1 1.1 0 1 0 -2.2 0" fill="#450a68"/>
<path d="M491.25 27.30a1.05 1.05 0 1 0 2.1 0a1.05 1.05 0 1 0 -2.1 0M490.95 46.60a1.05 1.05 0 1 0 2.1 0a1.05 1.05 0 1 0 -2.1 0M487.35 52.70a1.05 1.05 0 1 0 2.1 0a1.05 1.05 0 1 0 -2.1 0M490.95 51.70a1.05 1.05 0 1 0 2.1 0a1.05 1.05 0 1 0 -2.1 0M490.95 55.60a1.05 1.05 0 1 0 2.1 0a1.05 1.05 0 1 0 -2.1 0M494.95 54.90a1.05 1.05 0 1 0 2.1 0a1.05 1.05 0 1 0 -2.1 0M485.35 67.00a1.05 1.05 0 1 0 2.1 0a1.05 1.05 0 1 0 -2.1 0M489.05 68.90a1.05 1.05 0 1 0 2.1 0a1.05 1.05 0 1 0 -2.1 0M492.95 70.40a1.05 1.05 0 1 0 2.1 0a1.05 1.05 0 1 0 -2.1 0M496.35 67.20a1.05 1.05 0 1 0 2.1 0a1.05 1.05 0 1 0 -2.1 0M487.55 75.10a1.05 1.05 0 1 0 2.1 0a1.05 1.05 0 1 0 -2.1 0M494.05 76.70a1.05 1.05 0 1 0 2.1 0a1.05 1.05 0 1 0 -2.1 0M490.95 78.60a1.05 1.05 0 1 0 2.1 0a1.05 1.05 0 1 0 -2.1 0M485.35 81.60a1.05 1.05 0 1 0 2.1 0a1.05 1.05 0 1 0 -2.1 0M489.35 82.30a1.05 1.05 0 1 0 2.1 0a1.05 1.05 0 1 0 -2.1 0M496.55 82.30a1.05 1.05 0 1 0 2.1 0a1.05 1.05 0 1 0 -2.1 0M483.45 84.90a1.05 1.05 0 1 0 2.1 0a1.05 1.05 0 1 0 -2.1 0M487.15 86.00a1.05 1.05 0 1 0 2.1 0a1.05 1.05 0 1 0 -2.1 0M492.75 84.00a1.05 1.05 0 1 0 2.1 0a1.05 1.05 0 1 0 -2.1 0M494.65 86.50a1.05 1.05 0 1 0 2.1 0a1.05 1.05 0 1 0 -2.1 0M498.75 85.70a1.05 1.05 0 1 0 2.1 0a1.05 1.05 0 1 0 -2.1 0M490.75 88.70a1.05 1.05 0 1 0 2.1 0a1.05 1.05 0 1 0 -2.1 0M485.15 90.70a1.05 1.05 0 1 0 2.1 0a1.05 1.05 0 1 0 -2.1 0M488.25 92.40a1.05 1.05 0 1 0 2.1 0a1.05 1.05 0 1 0 -2.1 0M492.45 92.10a1.05 1.05 0 1 0 2.1 0a1.05 1.05 0 1 0 -2.1 0M496.85 91.80a1.05 1.05 0 1 0 2.1 0a1.05 1.05 0 1 0 -2.1 0M487.15 93.50a1.05 1.05 0 1 0 2.1 0a1.05 1.05 0 1 0 -2.1 0M490.75 95.80a1.05 1.05 0 1 0 2.1 0a1.05 1.05 0 1 0 -2.1 0M494.35 95.00a1.05 1.05 0 1 0 2.1 0a1.05 1.05 0 1 0 -2.1 0M487.35 97.40a1.05 1.05 0 1 0 2.1 0a1.05 1.05 0 1 0 -2.1 0M485.15 101.40a1.05 1.05 0 1 0 2.1 0a1.05 1.05 0 1 0 -2.1 0M489.05 100.60a1.05 1.05 0 1 0 2.1 0a1.05 1.05 0 1 0 -2.1 0M492.45 100.20a1.05 1.05 0 1 0 2.1 0a1.05 1.05 0 1 0 -2.1 0M494.65 100.60a1.05 1.05 0 1 0 2.1 0a1.05 1.05 0 1 0 -2.1 0M496.85 101.00a1.05 1.05 0 1 0 2.1 0a1.05 1.05 0 1 0 -2.1 0" fill="#3f0862"/>
<path d="M398.00 167.90H418.40" stroke="#2c2c2c" stroke-width="1.1"/><path d="M402.50 164.30H413.90M402.50 171.30H413.90M408.20 164.30V171.30" stroke="#2c2c2c" stroke-width="1.1" fill="none"/>
<path d="M426.10 162.00H446.50" stroke="#2c2c2c" stroke-width="1.1"/><path d="M430.60 159.40H442.00M430.60 165.00H442.00M436.30 159.40V165.00" stroke="#2c2c2c" stroke-width="1.1" fill="none"/>
<path d="M454.10 152.10H474.50" stroke="#2c2c2c" stroke-width="1.1"/><path d="M458.60 146.20H470.00M458.60 158.50H470.00M464.30 146.20V158.50" stroke="#2c2c2c" stroke-width="1.1" fill="none"/>
<path d="M481.90 146.50H502.30" stroke="#2c2c2c" stroke-width="1.1"/><rect x="486.80" y="145.10" width="10.60" height="3.20" rx="0.5" fill="#050505"/>
<path d="M46.5 229.0V413.9H168.7" fill="none" stroke="#1c1c1c" stroke-width="1.45"/>
<path d="M43.3 413.90H46.5" stroke="#1c1c1c" stroke-width="1.1"/>
<text x="41.40" y="416.90" class="tk" text-anchor="end">0</text>
<path d="M43.3 383.93H46.5" stroke="#1c1c1c" stroke-width="1.1"/>
<text x="41.40" y="386.93" class="tk" text-anchor="end">1000</text>
<path d="M43.3 353.97H46.5" stroke="#1c1c1c" stroke-width="1.1"/>
<text x="41.40" y="356.97" class="tk" text-anchor="end">2000</text>
<path d="M43.3 324.00H46.5" stroke="#1c1c1c" stroke-width="1.1"/>
<text x="41.40" y="327.00" class="tk" text-anchor="end">3000</text>
<path d="M43.3 294.03H46.5" stroke="#1c1c1c" stroke-width="1.1"/>
<text x="41.40" y="297.03" class="tk" text-anchor="end">4000</text>
<path d="M43.3 264.07H46.5" stroke="#1c1c1c" stroke-width="1.1"/>
<text x="41.40" y="267.07" class="tk" text-anchor="end">5000</text>
<path d="M43.3 234.10H46.5" stroke="#1c1c1c" stroke-width="1.1"/>
<text x="41.40" y="237.10" class="tk" text-anchor="end">6000</text>
<path d="M65.35 413.9V417.09999999999997" stroke="#1c1c1c" stroke-width="1.1"/>
<text transform="translate(68.45 423.90) rotate(-45)" class="xl" text-anchor="end">NPC</text>
<path d="M93.03 413.9V417.09999999999997" stroke="#1c1c1c" stroke-width="1.1"/>
<text transform="translate(96.13 423.90) rotate(-45)" class="xl" text-anchor="end">MGUS</text>
<path d="M120.71 413.9V417.09999999999997" stroke="#1c1c1c" stroke-width="1.1"/>
<text transform="translate(123.81 423.90) rotate(-45)" class="xl" text-anchor="end">SMM</text>
<path d="M148.39 413.9V417.09999999999997" stroke="#1c1c1c" stroke-width="1.1"/>
<text transform="translate(151.49 423.90) rotate(-45)" class="xl" text-anchor="end">MM</text>
<text x="56.7" y="246.8" class="ti" textLength="30.7" lengthAdjust="spacingAndGlyphs">RGAP1</text>
<text x="56.7" y="256.3" class="pv" textLength="30.1" lengthAdjust="spacingAndGlyphs">p=.0016</text>
<path d="M57.65 388.30h3.1l-1.55-2.75zM63.05 387.00h3.1l-1.55-2.75zM68.35 389.20h3.1l-1.55-2.75zM61.15 391.90h3.1l-1.55-2.75zM65.15 392.10h3.1l-1.55-2.75zM55.75 396.10h3.1l-1.55-2.75zM57.35 400.10h3.1l-1.55-2.75zM61.15 402.40h3.1l-1.55-2.75zM68.35 401.50h3.1l-1.55-2.75zM64.85 403.90h3.1l-1.55-2.75zM55.25 406.20h3.1l-1.55-2.75zM58.65 406.20h3.1l-1.55-2.75zM64.65 406.90h3.1l-1.55-2.75zM67.75 406.40h3.1l-1.55-2.75zM70.85 405.20h3.1l-1.55-2.75zM61.75 408.30h3.1l-1.55-2.75z" fill="#cc0a2c"/>
<path d="M90.75 335.20h3.1l-1.55 2.7zM92.95 371.40h3.1l-1.55 2.7zM89.25 374.20h3.1l-1.55 2.7zM95.05 383.30h3.1l-1.55 2.7zM87.75 385.40h3.1l-1.55 2.7zM90.85 384.70h3.1l-1.55 2.7zM85.45 387.50h3.1l-1.55 2.7zM92.95 388.50h3.1l-1.55 2.7zM96.45 386.90h3.1l-1.55 2.7zM89.05 390.40h3.1l-1.55 2.7zM83.45 393.70h3.1l-1.55 2.7zM97.95 392.20h3.1l-1.55 2.7zM83.55 396.20h3.1l-1.55 2.7zM98.75 395.50h3.1l-1.55 2.7zM83.85 399.60h3.1l-1.55 2.7zM85.95 400.10h3.1l-1.55 2.7zM88.05 400.60h3.1l-1.55 2.7zM90.15 401.10h3.1l-1.55 2.7zM92.25 400.80h3.1l-1.55 2.7zM94.35 400.20h3.1l-1.55 2.7zM96.35 399.60h3.1l-1.55 2.7zM98.35 399.10h3.1l-1.55 2.7zM90.85 402.80h3.1l-1.55 2.7zM83.05 404.30h3.1l-1.55 2.7zM86.35 404.80h3.1l-1.55 2.7zM92.15 405.40h3.1l-1.55 2.7zM95.45 404.00h3.1l-1.55 2.7zM98.75 402.80h3.1l-1.55 2.7zM89.05 407.30h3.1l-1.55 2.7z" fill="#0c4a8c"/>
<path d="M119.10 271.00a1.1 1.1 0 1 0 2.2 0a1.1 1.1 0 1 0 -2.2 0M117.60 390.80a1.1 1.1 0 1 0 2.2 0a1.1 1.1 0 1 0 -2.2 0M121.10 391.60a1.1 1.1 0 1 0 2.2 0a1.1 1.1 0 1 0 -2.2 0M115.50 393.70a1.1 1.1 0 1 0 2.2 0a1.1 1.1 0 1 0 -2.2 0M123.10 393.70a1.1 1.1 0 1 0 2.2 0a1.1 1.1 0 1 0 -2.2 0M119.60 395.50a1.1 1.1 0 1 0 2.2 0a1.1 1.1 0 1 0 -2.2 0M117.60 399.00a1.1 1.1 0 1 0 2.2 0a1.1 1.1 0 1 0 -2.2 0M121.30 400.10a1.1 1.1 0 1 0 2.2 0a1.1 1.1 0 1 0 -2.2 0M113.80 401.30a1.1 1.1 0 1 0 2.2 0a1.1 1.1 0 1 0 -2.2 0M124.80 400.90a1.1 1.1 0 1 0 2.2 0a1.1 1.1 0 1 0 -2.2 0M117.30 404.00a1.1 1.1 0 1 0 2.2 0a1.1 1.1 0 1 0 -2.2 0M121.30 404.00a1.1 1.1 0 1 0 2.2 0a1.1 1.1 0 1 0 -2.2 0" fill="#18a838"/>
<path d="M138.74 363.19a1.1 1.1 0 1 0 2.2 0a1.1 1.1 0 1 0 -2.2 0M140.70 363.98a1.1 1.1 0 1 0 2.2 0a1.1 1.1 0 1 0 -2.2 0M142.85 364.89a1.1 1.1 0 1 0 2.2 0a1.1 1.1 0 1 0 -2.2 0M144.52 365.48a1.1 1.1 0 1 0 2.2 0a1.1 1.1 0 1 0 -2.2 0M146.56 366.00a1.1 1.1 0 1 0 2.2 0a1.1 1.1 0 1 0 -2.2 0M148.64 365.48a1.1 1.1 0 1 0 2.2 0a1.1 1.1 0 1 0 -2.2 0M150.56 364.82a1.1 1.1 0 1 0 2.2 0a1.1 1.1 0 1 0 -2.2 0M152.46 363.68a1.1 1.1 0 1 0 2.2 0a1.1 1.1 0 1 0 -2.2 0M154.45 363.20a1.1 1.1 0 1 0 2.2 0a1.1 1.1 0 1 0 -2.2 0" fill="#450a68"/>
<path d="M138.70 366.82a1.1 1.1 0 1 0 2.2 0a1.1 1.1 0 1 0 -2.2 0M140.75 367.58a1.1 1.1 0 1 0 2.2 0a1.1 1.1 0 1 0 -2.2 0M142.76 368.74a1.1 1.1 0 1 0 2.2 0a1.1 1.1 0 1 0 -2.2 0M144.51 369.46a1.1 1.1 0 1 0 2.2 0a1.1 1.1 0 1 0 -2.2 0M146.56 370.02a1.1 1.1 0 1 0 2.2 0a1.1 1.1 0 1 0 -2.2 0M148.45 369.37a1.1 1.1 0 1 0 2.2 0a1.1 1.1 0 1 0 -2.2 0M150.38 368.42a1.1 1.1 0 1 0 2.2 0a1.1 1.1 0 1 0 -2.2 0M152.59 367.73a1.1 1.1 0 1 0 2.2 0a1.1 1.1 0 1 0 -2.2 0M154.49 366.73a1.1 1.1 0 1 0 2.2 0a1.1 1.1 0 1 0 -2.2 0" fill="#450a68"/>
<path d="M138.79 370.50a1.1 1.1 0 1 0 2.2 0a1.1 1.1 0 1 0 -2.2 0M140.83 371.52a1.1 1.1 0 1 0 2.2 0a1.1 1.1 0 1 0 -2.2 0M142.61 372.22a1.1 1.1 0 1 0 2.2 0a1.1 1.1 0 1 0 -2.2 0M144.66 373.05a1.1 1.1 0 1 0 2.2 0a1.1 1.1 0 1 0 -2.2 0M146.73 373.77a1.1 1.1 0 1 0 2.2 0a1.1 1.1 0 1 0 -2.2 0M148.44 372.95a1.1 1.1 0 1 0 2.2 0a1.1 1.1 0 1 0 -2.2 0M150.38 372.01a1.1 1.1 0 1 0 2.2 0a1.1 1.1 0 1 0 -2.2 0M152.32 371.25a1.1 1.1 0 1 0 2.2 0a1.1 1.1 0 1 0 -2.2 0M154.48 370.58a1.1 1.1 0 1 0 2.2 0a1.1 1.1 0 1 0 -2.2 0" fill="#450a68"/>
<path d="M138.89 374.14a1.1 1.1 0 1 0 2.2 0a1.1 1.1 0 1 0 -2.2 0M140.65 375.39a1.1 1.1 0 1 0 2.2 0a1.1 1.1 0 1 0 -2.2 0M142.80 376.22a1.1 1.1 0 1 0 2.2 0a1.1 1.1 0 1 0 -2.2 0M144.51 376.71a1.1 1.1 0 1 0 2.2 0a1.1 1.1 0 1 0 -2.2 0M146.64 377.47a1.1 1.1 0 1 0 2.2 0a1.1 1.1 0 1 0 -2.2 0M148.67 376.78a1.1 1.1 0 1 0 2.2 0a1.1 1.1 0 1 0 -2.2 0M150.47 375.75a1.1 1.1 0 1 0 2.2 0a1.1 1.1 0 1 0 -2.2 0M152.54 375.40a1.1 1.1 0 1 0 2.2 0a1.1 1.1 0 1 0 -2.2 0M154.52 374.33a1.1 1.1 0 1 0 2.2 0a1.1 1.1 0 1 0 -2.2 0" fill="#450a68"/>
<path d="M138.75 377.87a1.1 1.1 0 1 0 2.2 0a1.1 1.1 0 1 0 -2.2 0M140.83 379.12a1.1 1.1 0 1 0 2.2 0a1.1 1.1 0 1 0 -2.2 0M142.84 379.59a1.1 1.1 0 1 0 2.2 0a1.1 1.1 0 1 0 -2.2 0M144.68 380.52a1.1 1.1 0 1 0 2.2 0a1.1 1.1 0 1 0 -2.2 0M146.58 381.25a1.1 1.1 0 1 0 2.2 0a1.1 1.1 0 1 0 -2.2 0M148.68 380.62a1.1 1.1 0 1 0 2.2 0a1.1 1.1 0 1 0 -2.2 0M150.56 379.85a1.1 1.1 0 1 0 2.2 0a1.1 1.1 0 1 0 -2.2 0M152.50 378.92a1.1 1.1 0 1 0 2.2 0a1.1 1.1 0 1 0 -2.2 0M154.32 378.14a1.1 1.1 0 1 0 2.2 0a1.1 1.1 0 1 0 -2.2 0" fill="#450a68"/>
<path d="M138.69 381.82a1.1 1.1 0 1 0 2.2 0a1.1 1.1 0 1 0 -2.2 0M140.72 382.68a1.1 1.1 0 1 0 2.2 0a1.1 1.1 0 1 0 -2.2 0M142.74 383.49a1.1 1.1 0 1 0 2.2 0a1.1 1.1 0 1 0 -2.2 0M144.79 384.13a1.1 1.1 0 1 0 2.2 0a1.1 1.1 0 1 0 -2.2 0M146.45 385.08a1.1 1.1 0 1 0 2.2 0a1.1 1.1 0 1 0 -2.2 0M148.49 384.15a1.1 1.1 0 1 0 2.2 0a1.1 1.1 0 1 0 -2.2 0M150.47 383.55a1.1 1.1 0 1 0 2.2 0a1.1 1.1 0 1 0 -2.2 0M152.60 382.76a1.1 1.1 0 1 0 2.2 0a1.1 1.1 0 1 0 -2.2 0M154.35 381.77a1.1 1.1 0 1 0 2.2 0a1.1 1.1 0 1 0 -2.2 0" fill="#450a68"/>
<path d="M138.78 385.50a1.1 1.1 0 1 0 2.2 0a1.1 1.1 0 1 0 -2.2 0M140.73 386.24a1.1 1.1 0 1 0 2.2 0a1.1 1.1 0 1 0 -2.2 0M142.67 387.20a1.1 1.1 0 1 0 2.2 0a1.1 1.1 0 1 0 -2.2 0M144.56 388.17a1.1 1.1 0 1 0 2.2 0a1.1 1.1 0 1 0 -2.2 0M146.56 388.43a1.1 1.1 0 1 0 2.2 0a1.1 1.1 0 1 0 -2.2 0M148.57 388.19a1.1 1.1 0 1 0 2.2 0a1.1 1.1 0 1 0 -2.2 0M150.58 387.31a1.1 1.1 0 1 0 2.2 0a1.1 1.1 0 1 0 -2.2 0M152.52 386.32a1.1 1.1 0 1 0 2.2 0a1.1 1.1 0 1 0 -2.2 0M154.29 385.38a1.1 1.1 0 1 0 2.2 0a1.1 1.1 0 1 0 -2.2 0" fill="#450a68"/>
<path d="M138.75 389.14a1.1 1.1 0 1 0 2.2 0a1.1 1.1 0 1 0 -2.2 0M140.74 389.98a1.1 1.1 0 1 0 2.2 0a1.1 1.1 0 1 0 -2.2 0M142.59 390.88a1.1 1.1 0 1 0 2.2 0a1.1 1.1 0 1 0 -2.2 0M144.56 391.91a1.1 1.1 0 1 0 2.2 0a1.1 1.1 0 1 0 -2.2 0M146.61 392.20a1.1 1.1 0 1 0 2.2 0a1.1 1.1 0 1 0 -2.2 0M148.53 391.95a1.1 1.1 0 1 0 2.2 0a1.1 1.1 0 1 0 -2.2 0M150.52 391.03a1.1 1.1 0 1 0 2.2 0a1.1 1.1 0 1 0 -2.2 0M152.42 390.00a1.1 1.1 0 1 0 2.2 0a1.1 1.1 0 1 0 -2.2 0M154.44 389.04a1.1 1.1 0 1 0 2.2 0a1.1 1.1 0 1 0 -2.2 0" fill="#450a68"/>
<path d="M138.89 392.78a1.1 1.1 0 1 0 2.2 0a1.1 1.1 0 1 0 -2.2 0M140.82 393.85a1.1 1.1 0 1 0 2.2 0a1.1 1.1 0 1 0 -2.2 0M142.75 394.80a1.1 1.1 0 1 0 2.2 0a1.1 1.1 0 1 0 -2.2 0M144.54 395.53a1.1 1.1 0 1 0 2.2 0a1.1 1.1 0 1 0 -2.2 0M146.47 395.97a1.1 1.1 0 1 0 2.2 0a1.1 1.1 0 1 0 -2.2 0M148.51 395.41a1.1 1.1 0 1 0 2.2 0a1.1 1.1 0 1 0 -2.2 0M150.55 394.99a1.1 1.1 0 1 0 2.2 0a1.1 1.1 0 1 0 -2.2 0M152.41 394.07a1.1 1.1 0 1 0 2.2 0a1.1 1.1 0 1 0 -2.2 0M154.32 393.10a1.1 1.1 0 1 0 2.2 0a1.1 1.1 0 1 0 -2.2 0" fill="#450a68"/>
<path d="M138.75 396.77a1.1 1.1 0 1 0 2.2 0a1.1 1.1 0 1 0 -2.2 0M140.63 397.82a1.1 1.1 0 1 0 2.2 0a1.1 1.1 0 1 0 -2.2 0M142.61 398.48a1.1 1.1 0 1 0 2.2 0a1.1 1.1 0 1 0 -2.2 0M144.59 399.42a1.1 1.1 0 1 0 2.2 0a1.1 1.1 0 1 0 -2.2 0M146.63 399.91a1.1 1.1 0 1 0 2.2 0a1.1 1.1 0 1 0 -2.2 0M148.63 399.14a1.1 1.1 0 1 0 2.2 0a1.1 1.1 0 1 0 -2.2 0M150.37 398.66a1.1 1.1 0 1 0 2.2 0a1.1 1.1 0 1 0 -2.2 0M152.39 397.81a1.1 1.1 0 1 0 2.2 0a1.1 1.1 0 1 0 -2.2 0M154.54 396.81a1.1 1.1 0 1 0 2.2 0a1.1 1.1 0 1 0 -2.2 0" fill="#450a68"/>
<path d="M138.68 400.68a1.1 1.1 0 1 0 2.2 0a1.1 1.1 0 1 0 -2.2 0M140.79 401.28a1.1 1.1 0 1 0 2.2 0a1.1 1.1 0 1 0 -2.2 0M142.61 402.25a1.1 1.1 0 1 0 2.2 0a1.1 1.1 0 1 0 -2.2 0M144.54 403.22a1.1 1.1 0 1 0 2.2 0a1.1 1.1 0 1 0 -2.2 0M146.66 403.76a1.1 1.1 0 1 0 2.2 0a1.1 1.1 0 1 0 -2.2 0M148.52 403.22a1.1 1.1 0 1 0 2.2 0a1.1 1.1 0 1 0 -2.2 0M150.39 402.36a1.1 1.1 0 1 0 2.2 0a1.1 1.1 0 1 0 -2.2 0M152.38 401.16a1.1 1.1 0 1 0 2.2 0a1.1 1.1 0 1 0 -2.2 0M154.29 400.35a1.1 1.1 0 1 0 2.2 0a1.1 1.1 0 1 0 -2.2 0" fill="#450a68"/>
<path d="M138.88 404.19a1.1 1.1 0 1 0 2.2 0a1.1 1.1 0 1 0 -2.2 0M140.74 405.21a1.1 1.1 0 1 0 2.2 0a1.1 1.1 0 1 0 -2.2 0M142.63 406.07a1.1 1.1 0 1 0 2.2 0a1.1 1.1 0 1 0 -2.2 0M144.70 406.97a1.1 1.1 0 1 0 2.2 0a1.1 1.1 0 1 0 -2.2 0M146.60 407.53a1.1 1.1 0 1 0 2.2 0a1.1 1.1 0 1 0 -2.2 0M148.69 406.90a1.1 1.1 0 1 0 2.2 0a1.1 1.1 0 1 0 -2.2 0M150.48 405.89a1.1 1.1 0 1 0 2.2 0a1.1 1.1 0 1 0 -2.2 0M152.33 405.32a1.1 1.1 0 1 0 2.2 0a1.1 1.1 0 1 0 -2.2 0M154.29 404.28a1.1 1.1 0 1 0 2.2 0a1.1 1.1 0 1 0 -2.2 0" fill="#450a68"/>
<path d="M138.79 407.77a1.1 1.1 0 1 0 2.2 0a1.1 1.1 0 1 0 -2.2 0M140.66 409.07a1.1 1.1 0 1 0 2.2 0a1.1 1.1 0 1 0 -2.2 0M142.71 409.96a1.1 1.1 0 1 0 2.2 0a1.1 1.1 0 1 0 -2.2 0M144.77 410.31a1.1 1.1 0 1 0 2.2 0a1.1 1.1 0 1 0 -2.2 0M146.65 410.87a1.1 1.1 0 1 0 2.2 0a1.1 1.1 0 1 0 -2.2 0M148.53 410.48a1.1 1.1 0 1 0 2.2 0a1.1 1.1 0 1 0 -2.2 0M150.64 409.80a1.1 1.1 0 1 0 2.2 0a1.1 1.1 0 1 0 -2.2 0M152.36 408.91a1.1 1.1 0 1 0 2.2 0a1.1 1.1 0 1 0 -2.2 0M154.41 407.85a1.1 1.1 0 1 0 2.2 0a1.1 1.1 0 1 0 -2.2 0" fill="#450a68"/>
<path d="M147.45 240.20a1.05 1.05 0 1 0 2.1 0a1.05 1.05 0 1 0 -2.1 0M146.95 271.90a1.05 1.05 0 1 0 2.1 0a1.05 1.05 0 1 0 -2.1 0M146.95 280.90a1.05 1.05 0 1 0 2.1 0a1.05 1.05 0 1 0 -2.1 0M141.55 303.30a1.05 1.05 0 1 0 2.1 0a1.05 1.05 0 1 0 -2.1 0M144.75 302.10a1.05 1.05 0 1 0 2.1 0a1.05 1.05 0 1 0 -2.1 0M147.15 303.80a1.05 1.05 0 1 0 2.1 0a1.05 1.05 0 1 0 -2.1 0M150.55 302.60a1.05 1.05 0 1 0 2.1 0a1.05 1.05 0 1 0 -2.1 0M154.55 301.10a1.05 1.05 0 1 0 2.1 0a1.05 1.05 0 1 0 -2.1 0M143.75 305.80a1.05 1.05 0 1 0 2.1 0a1.05 1.05 0 1 0 -2.1 0M147.15 308.70a1.05 1.05 0 1 0 2.1 0a1.05 1.05 0 1 0 -2.1 0M150.85 308.20a1.05 1.05 0 1 0 2.1 0a1.05 1.05 0 1 0 -2.1 0M146.85 315.90a1.05 1.05 0 1 0 2.1 0a1.05 1.05 0 1 0 -2.1 0M141.55 319.00a1.05 1.05 0 1 0 2.1 0a1.05 1.05 0 1 0 -2.1 0M145.25 319.80a1.05 1.05 0 1 0 2.1 0a1.05 1.05 0 1 0 -2.1 0M148.95 319.80a1.05 1.05 0 1 0 2.1 0a1.05 1.05 0 1 0 -2.1 0M152.95 318.40a1.05 1.05 0 1 0 2.1 0a1.05 1.05 0 1 0 -2.1 0M141.85 323.00a1.05 1.05 0 1 0 2.1 0a1.05 1.05 0 1 0 -2.1 0M145.55 324.80a1.05 1.05 0 1 0 2.1 0a1.05 1.05 0 1 0 -2.1 0M148.95 324.80a1.05 1.05 0 1 0 2.1 0a1.05 1.05 0 1 0 -2.1 0M152.35 323.50a1.05 1.05 0 1 0 2.1 0a1.05 1.05 0 1 0 -2.1 0M141.85 330.70a1.05 1.05 0 1 0 2.1 0a1.05 1.05 0 1 0 -2.1 0M147.45 330.40a1.05 1.05 0 1 0 2.1 0a1.05 1.05 0 1 0 -2.1 0M145.55 334.10a1.05 1.05 0 1 0 2.1 0a1.05 1.05 0 1 0 -2.1 0M148.95 334.10a1.05 1.05 0 1 0 2.1 0a1.05 1.05 0 1 0 -2.1 0M152.95 332.50a1.05 1.05 0 1 0 2.1 0a1.05 1.05 0 1 0 -2.1 0M139.85 337.50a1.05 1.05 0 1 0 2.1 0a1.05 1.05 0 1 0 -2.1 0M142.55 339.60a1.05 1.05 0 1 0 2.1 0a1.05 1.05 0 1 0 -2.1 0M145.55 341.20a1.05 1.05 0 1 0 2.1 0a1.05 1.05 0 1 0 -2.1 0M148.65 340.30a1.05 1.05 0 1 0 2.1 0a1.05 1.05 0 1 0 -2.1 0M152.15 338.30a1.05 1.05 0 1 0 2.1 0a1.05 1.05 0 1 0 -2.1 0M154.55 337.50a1.05 1.05 0 1 0 2.1 0a1.05 1.05 0 1 0 -2.1 0M137.35 343.30a1.05 1.05 0 1 0 2.1 0a1.05 1.05 0 1 0 -2.1 0M150.95 344.00a1.05 1.05 0 1 0 2.1 0a1.05 1.05 0 1 0 -2.1 0M154.55 342.40a1.05 1.05 0 1 0 2.1 0a1.05 1.05 0 1 0 -2.1 0M142.35 339.40a1.05 1.05 0 1 0 2.1 0a1.05 1.05 0 1 0 -2.1 0M145.35 341.00a1.05 1.05 0 1 0 2.1 0a1.05 1.05 0 1 0 -2.1 0M148.55 340.30a1.05 1.05 0 1 0 2.1 0a1.05 1.05 0 1 0 -2.1 0M152.25 338.40a1.05 1.05 0 1 0 2.1 0a1.05 1.05 0 1 0 -2.1 0M154.65 342.20a1.05 1.05 0 1 0 2.1 0a1.05 1.05 0 1 0 -2.1 0M137.45 343.50a1.05 1.05 0 1 0 2.1 0a1.05 1.05 0 1 0 -2.1 0M143.85 345.20a1.05 1.05 0 1 0 2.1 0a1.05 1.05 0 1 0 -2.1 0M147.25 345.60a1.05 1.05 0 1 0 2.1 0a1.05 1.05 0 1 0 -2.1 0M150.55 344.10a1.05 1.05 0 1 0 2.1 0a1.05 1.05 0 1 0 -2.1 0M139.95 346.50a1.05 1.05 0 1 0 2.1 0a1.05 1.05 0 1 0 -2.1 0M142.15 348.00a1.05 1.05 0 1 0 2.1 0a1.05 1.05 0 1 0 -2.1 0M144.65 348.80a1.05 1.05 0 1 0 2.1 0a1.05 1.05 0 1 0 -2.1 0M147.85 349.20a1.05 1.05 0 1 0 2.1 0a1.05 1.05 0 1 0 -2.1 0M149.95 348.30a1.05 1.05 0 1 0 2.1 0a1.05 1.05 0 1 0 -2.1 0M152.05 348.00a1.05 1.05 0 1 0 2.1 0a1.05 1.05 0 1 0 -2.1 0M154.55 347.50a1.05 1.05 0 1 0 2.1 0a1.05 1.05 0 1 0 -2.1 0M143.45 350.90a1.05 1.05 0 1 0 2.1 0a1.05 1.05 0 1 0 -2.1 0M150.55 351.10a1.05 1.05 0 1 0 2.1 0a1.05 1.05 0 1 0 -2.1 0M140.85 354.90a1.05 1.05 0 1 0 2.1 0a1.05 1.05 0 1 0 -2.1 0M145.75 353.80a1.05 1.05 0 1 0 2.1 0a1.05 1.05 0 1 0 -2.1 0M148.05 354.30a1.05 1.05 0 1 0 2.1 0a1.05 1.05 0 1 0 -2.1 0M150.55 355.50a1.05 1.05 0 1 0 2.1 0a1.05 1.05 0 1 0 -2.1 0M153.15 354.60a1.05 1.05 0 1 0 2.1 0a1.05 1.05 0 1 0 -2.1 0M143.45 356.60a1.05 1.05 0 1 0 2.1 0a1.05 1.05 0 1 0 -2.1 0M146.55 357.90a1.05 1.05 0 1 0 2.1 0a1.05 1.05 0 1 0 -2.1 0M149.15 358.10a1.05 1.05 0 1 0 2.1 0a1.05 1.05 0 1 0 -2.1 0M141.25 358.50a1.05 1.05 0 1 0 2.1 0a1.05 1.05 0 1 0 -2.1 0M152.95 359.70a1.05 1.05 0 1 0 2.1 0a1.05 1.05 0 1 0 -2.1 0M143.75 360.80a1.05 1.05 0 1 0 2.1 0a1.05 1.05 0 1 0 -2.1 0M146.15 360.80a1.05 1.05 0 1 0 2.1 0a1.05 1.05 0 1 0 -2.1 0M149.75 360.80a1.05 1.05 0 1 0 2.1 0a1.05 1.05 0 1 0 -2.1 0M148.85 362.20a1.05 1.05 0 1 0 2.1 0a1.05 1.05 0 1 0 -2.1 0" fill="#3f0862"/>
<path d="M54.60 397.40H75.00" stroke="#2c2c2c" stroke-width="1.1"/><rect x="59.40" y="395.20" width="10.80" height="3.70" rx="0.5" fill="#050505"/>
<path d="M82.40 396.70H102.80" stroke="#2c2c2c" stroke-width="1.1"/><rect x="87.45" y="394.20" width="10.30" height="4.40" rx="0.5" fill="#050505"/>
<path d="M109.90 387.30H130.30" stroke="#2c2c2c" stroke-width="1.1"/><path d="M114.40 376.50H125.80M114.40 397.80H125.80M120.10 376.50V397.80" stroke="#2c2c2c" stroke-width="1.1" fill="none"/>
<path d="M138.20 385.50H158.60" stroke="#2c2c2c" stroke-width="1.1"/><rect x="142.80" y="384.10" width="11.20" height="2.80" rx="0.5" fill="#050505"/>
<path d="M220.5 229.0V413.9H342.2" fill="none" stroke="#1c1c1c" stroke-width="1.45"/>
<path d="M217.3 413.90H220.5" stroke="#1c1c1c" stroke-width="1.1"/>
<text x="215.40" y="416.90" class="tk" text-anchor="end">0</text>
<path d="M217.3 377.94H220.5" stroke="#1c1c1c" stroke-width="1.1"/>
<text x="215.40" y="380.94" class="tk" text-anchor="end">5000</text>
<path d="M217.3 341.98H220.5" stroke="#1c1c1c" stroke-width="1.1"/>
<text x="215.40" y="344.98" class="tk" text-anchor="end">10000</text>
<path d="M217.3 306.02H220.5" stroke="#1c1c1c" stroke-width="1.1"/>
<text x="215.40" y="309.02" class="tk" text-anchor="end">15000</text>
<path d="M217.3 270.06H220.5" stroke="#1c1c1c" stroke-width="1.1"/>
<text x="215.40" y="273.06" class="tk" text-anchor="end">20000</text>
<path d="M217.3 234.10H220.5" stroke="#1c1c1c" stroke-width="1.1"/>
<text x="215.40" y="237.10" class="tk" text-anchor="end">25000</text>
<path d="M236.00 413.9V417.09999999999997" stroke="#1c1c1c" stroke-width="1.1"/>
<text transform="translate(239.10 423.90) rotate(-45)" class="xl" text-anchor="end">NPC</text>
<path d="M266.00 413.9V417.09999999999997" stroke="#1c1c1c" stroke-width="1.1"/>
<text transform="translate(269.10 423.90) rotate(-45)" class="xl" text-anchor="end">MGUS</text>
<path d="M296.00 413.9V417.09999999999997" stroke="#1c1c1c" stroke-width="1.1"/>
<text transform="translate(299.10 423.90) rotate(-45)" class="xl" text-anchor="end">SMM</text>
<path d="M326.00 413.9V417.09999999999997" stroke="#1c1c1c" stroke-width="1.1"/>
<text transform="translate(329.10 423.90) rotate(-45)" class="xl" text-anchor="end">MM</text>
<text x="231.7" y="246.6" class="ti" textLength="31.2" lengthAdjust="spacingAndGlyphs">CADM1</text>
<text x="231.7" y="255.8" class="pv" textLength="24.8" lengthAdjust="spacingAndGlyphs">p=.004</text>
<path d="M232.25 402.70h3.1l-1.55-2.75zM236.05 401.90h3.1l-1.55-2.75zM242.65 403.60h3.1l-1.55-2.75zM240.95 405.00h3.1l-1.55-2.75zM225.95 405.00h3.1l-1.55-2.75zM227.35 405.60h3.1l-1.55-2.75zM225.35 406.80h3.1l-1.55-2.75zM239.45 406.10h3.1l-1.55-2.75zM226.25 407.90h3.1l-1.55-2.75zM228.25 408.20h3.1l-1.55-2.75zM229.95 408.40h3.1l-1.55-2.75zM231.95 409.10h3.1l-1.55-2.75zM238.05 408.80h3.1l-1.55-2.75zM240.05 408.40h3.1l-1.55-2.75zM242.05 407.90h3.1l-1.55-2.75zM233.75 411.10h3.1l-1.55-2.75zM235.75 410.00h3.1l-1.55-2.75z" fill="#cc0a2c"/>
<path d="M264.15 291.00h3.1l-1.55 2.7zM264.15 326.20h3.1l-1.55 2.7zM264.15 342.30h3.1l-1.55 2.7zM264.95 348.20h3.1l-1.55 2.7zM264.15 352.70h3.1l-1.55 2.7zM261.85 357.80h3.1l-1.55 2.7zM266.45 360.20h3.1l-1.55 2.7zM264.25 366.70h3.1l-1.55 2.7zM264.25 377.60h3.1l-1.55 2.7zM260.45 381.70h3.1l-1.55 2.7zM264.45 384.70h3.1l-1.55 2.7zM267.85 384.90h3.1l-1.55 2.7zM258.55 386.60h3.1l-1.55 2.7zM262.55 387.70h3.1l-1.55 2.7zM266.15 388.90h3.1l-1.55 2.7zM269.85 387.10h3.1l-1.55 2.7zM260.55 392.50h3.1l-1.55 2.7zM268.25 393.30h3.1l-1.55 2.7zM264.45 395.80h3.1l-1.55 2.7zM262.15 397.80h3.1l-1.55 2.7zM265.75 399.80h3.1l-1.55 2.7zM269.55 400.30h3.1l-1.55 2.7zM258.55 401.40h3.1l-1.55 2.7zM262.15 403.40h3.1l-1.55 2.7zM266.05 403.40h3.1l-1.55 2.7zM255.75 403.80h3.1l-1.55 2.7zM258.15 405.40h3.1l-1.55 2.7zM260.55 407.00h3.1l-1.55 2.7zM262.55 407.40h3.1l-1.55 2.7zM264.55 407.60h3.1l-1.55 2.7zM266.65 406.90h3.1l-1.55 2.7zM268.65 406.20h3.1l-1.55 2.7zM270.65 404.80h3.1l-1.55 2.7zM272.65 403.40h3.1l-1.55 2.7zM257.35 409.50h3.1l-1.55 2.7zM260.15 410.00h3.1l-1.55 2.7zM262.95 410.00h3.1l-1.55 2.7zM265.75 409.90h3.1l-1.55 2.7zM268.25 409.70h3.1l-1.55 2.7zM270.85 409.50h3.1l-1.55 2.7z" fill="#0c4a8c"/>
<path d="M295.10 262.10a1.1 1.1 0 1 0 2.2 0a1.1 1.1 0 1 0 -2.2 0M293.20 400.00a1.1 1.1 0 1 0 2.2 0a1.1 1.1 0 1 0 -2.2 0M296.50 399.30a1.1 1.1 0 1 0 2.2 0a1.1 1.1 0 1 0 -2.2 0M289.30 402.00a1.1 1.1 0 1 0 2.2 0a1.1 1.1 0 1 0 -2.2 0M300.60 403.50a1.1 1.1 0 1 0 2.2 0a1.1 1.1 0 1 0 -2.2 0M293.20 404.90a1.1 1.1 0 1 0 2.2 0a1.1 1.1 0 1 0 -2.2 0M296.60 405.90a1.1 1.1 0 1 0 2.2 0a1.1 1.1 0 1 0 -2.2 0M291.20 410.60a1.1 1.1 0 1 0 2.2 0a1.1 1.1 0 1 0 -2.2 0M295.20 411.50a1.1 1.1 0 1 0 2.2 0a1.1 1.1 0 1 0 -2.2 0M298.80 411.10a1.1 1.1 0 1 0 2.2 0a1.1 1.1 0 1 0 -2.2 0" fill="#18a838"/>
<path d="M315.16 344.19a1.1 1.1 0 1 0 2.2 0a1.1 1.1 0 1 0 -2.2 0M317.79 345.01a1.1 1.1 0 1 0 2.2 0a1.1 1.1 0 1 0 -2.2 0M319.97 345.90a1.1 1.1 0 1 0 2.2 0a1.1 1.1 0 1 0 -2.2 0M322.54 346.60a1.1 1.1 0 1 0 2.2 0a1.1 1.1 0 1 0 -2.2 0M324.90 346.82a1.1 1.1 0 1 0 2.2 0a1.1 1.1 0 1 0 -2.2 0M327.57 346.32a1.1 1.1 0 1 0 2.2 0a1.1 1.1 0 1 0 -2.2 0M329.76 345.69a1.1 1.1 0 1 0 2.2 0a1.1 1.1 0 1 0 -2.2 0M332.50 345.04a1.1 1.1 0 1 0 2.2 0a1.1 1.1 0 1 0 -2.2 0M334.77 344.25a1.1 1.1 0 1 0 2.2 0a1.1 1.1 0 1 0 -2.2 0" fill="#450a68"/>
<path d="M315.29 347.92a1.1 1.1 0 1 0 2.2 0a1.1 1.1 0 1 0 -2.2 0M317.69 348.57a1.1 1.1 0 1 0 2.2 0a1.1 1.1 0 1 0 -2.2 0M320.22 349.43a1.1 1.1 0 1 0 2.2 0a1.1 1.1 0 1 0 -2.2 0M322.68 350.21a1.1 1.1 0 1 0 2.2 0a1.1 1.1 0 1 0 -2.2 0M325.12 350.74a1.1 1.1 0 1 0 2.2 0a1.1 1.1 0 1 0 -2.2 0M327.43 350.23a1.1 1.1 0 1 0 2.2 0a1.1 1.1 0 1 0 -2.2 0M329.85 349.27a1.1 1.1 0 1 0 2.2 0a1.1 1.1 0 1 0 -2.2 0M332.38 348.80a1.1 1.1 0 1 0 2.2 0a1.1 1.1 0 1 0 -2.2 0M334.73 347.93a1.1 1.1 0 1 0 2.2 0a1.1 1.1 0 1 0 -2.2 0" fill="#450a68"/>
<path d="M315.29 351.64a1.1 1.1 0 1 0 2.2 0a1.1 1.1 0 1 0 -2.2 0M317.62 352.63a1.1 1.1 0 1 0 2.2 0a1.1 1.1 0 1 0 -2.2 0M320.19 353.23a1.1 1.1 0 1 0 2.2 0a1.1 1.1 0 1 0 -2.2 0M322.43 353.97a1.1 1.1 0 1 0 2.2 0a1.1 1.1 0 1 0 -2.2 0M324.85 354.70a1.1 1.1 0 1 0 2.2 0a1.1 1.1 0 1 0 -2.2 0M327.40 353.87a1.1 1.1 0 1 0 2.2 0a1.1 1.1 0 1 0 -2.2 0M329.92 353.26a1.1 1.1 0 1 0 2.2 0a1.1 1.1 0 1 0 -2.2 0M332.37 352.37a1.1 1.1 0 1 0 2.2 0a1.1 1.1 0 1 0 -2.2 0M334.84 351.67a1.1 1.1 0 1 0 2.2 0a1.1 1.1 0 1 0 -2.2 0" fill="#450a68"/>
<path d="M315.18 355.25a1.1 1.1 0 1 0 2.2 0a1.1 1.1 0 1 0 -2.2 0M317.74 355.88a1.1 1.1 0 1 0 2.2 0a1.1 1.1 0 1 0 -2.2 0M320.00 356.86a1.1 1.1 0 1 0 2.2 0a1.1 1.1 0 1 0 -2.2 0M322.46 357.88a1.1 1.1 0 1 0 2.2 0a1.1 1.1 0 1 0 -2.2 0M324.89 358.05a1.1 1.1 0 1 0 2.2 0a1.1 1.1 0 1 0 -2.2 0M327.40 357.69a1.1 1.1 0 1 0 2.2 0a1.1 1.1 0 1 0 -2.2 0M330.00 357.19a1.1 1.1 0 1 0 2.2 0a1.1 1.1 0 1 0 -2.2 0M332.46 356.18a1.1 1.1 0 1 0 2.2 0a1.1 1.1 0 1 0 -2.2 0M334.66 355.03a1.1 1.1 0 1 0 2.2 0a1.1 1.1 0 1 0 -2.2 0" fill="#450a68"/>
<path d="M315.24 359.16a1.1 1.1 0 1 0 2.2 0a1.1 1.1 0 1 0 -2.2 0M317.58 360.11a1.1 1.1 0 1 0 2.2 0a1.1 1.1 0 1 0 -2.2 0M320.12 360.73a1.1 1.1 0 1 0 2.2 0a1.1 1.1 0 1 0 -2.2 0M322.59 361.22a1.1 1.1 0 1 0 2.2 0a1.1 1.1 0 1 0 -2.2 0M324.90 362.22a1.1 1.1 0 1 0 2.2 0a1.1 1.1 0 1 0 -2.2 0M327.38 361.22a1.1 1.1 0 1 0 2.2 0a1.1 1.1 0 1 0 -2.2 0M329.83 360.81a1.1 1.1 0 1 0 2.2 0a1.1 1.1 0 1 0 -2.2 0M332.28 359.73a1.1 1.1 0 1 0 2.2 0a1.1 1.1 0 1 0 -2.2 0M334.73 358.99a1.1 1.1 0 1 0 2.2 0a1.1 1.1 0 1 0 -2.2 0" fill="#450a68"/>
<path d="M315.27 362.65a1.1 1.1 0 1 0 2.2 0a1.1 1.1 0 1 0 -2.2 0M317.76 363.86a1.1 1.1 0 1 0 2.2 0a1.1 1.1 0 1 0 -2.2 0M320.20 364.23a1.1 1.1 0 1 0 2.2 0a1.1 1.1 0 1 0 -2.2 0M322.49 365.39a1.1 1.1 0 1 0 2.2 0a1.1 1.1 0 1 0 -2.2 0M325.11 365.57a1.1 1.1 0 1 0 2.2 0a1.1 1.1 0 1 0 -2.2 0M327.43 365.11a1.1 1.1 0 1 0 2.2 0a1.1 1.1 0 1 0 -2.2 0M329.97 364.21a1.1 1.1 0 1 0 2.2 0a1.1 1.1 0 1 0 -2.2 0M332.29 363.75a1.1 1.1 0 1 0 2.2 0a1.1 1.1 0 1 0 -2.2 0M334.92 362.52a1.1 1.1 0 1 0 2.2 0a1.1 1.1 0 1 0 -2.2 0" fill="#450a68"/>
<path d="M315.23 366.58a1.1 1.1 0 1 0 2.2 0a1.1 1.1 0 1 0 -2.2 0M317.76 367.34a1.1 1.1 0 1 0 2.2 0a1.1 1.1 0 1 0 -2.2 0M320.24 368.04a1.1 1.1 0 1 0 2.2 0a1.1 1.1 0 1 0 -2.2 0M322.43 368.75a1.1 1.1 0 1 0 2.2 0a1.1 1.1 0 1 0 -2.2 0M325.03 369.31a1.1 1.1 0 1 0 2.2 0a1.1 1.1 0 1 0 -2.2 0M327.38 368.78a1.1 1.1 0 1 0 2.2 0a1.1 1.1 0 1 0 -2.2 0M329.77 368.43a1.1 1.1 0 1 0 2.2 0a1.1 1.1 0 1 0 -2.2 0M332.30 367.61a1.1 1.1 0 1 0 2.2 0a1.1 1.1 0 1 0 -2.2 0M334.87 366.36a1.1 1.1 0 1 0 2.2 0a1.1 1.1 0 1 0 -2.2 0" fill="#450a68"/>
<path d="M315.33 370.00a1.1 1.1 0 1 0 2.2 0a1.1 1.1 0 1 0 -2.2 0M317.79 370.89a1.1 1.1 0 1 0 2.2 0a1.1 1.1 0 1 0 -2.2 0M320.03 371.97a1.1 1.1 0 1 0 2.2 0a1.1 1.1 0 1 0 -2.2 0M322.40 372.81a1.1 1.1 0 1 0 2.2 0a1.1 1.1 0 1 0 -2.2 0M324.88 373.41a1.1 1.1 0 1 0 2.2 0a1.1 1.1 0 1 0 -2.2 0M327.31 372.70a1.1 1.1 0 1 0 2.2 0a1.1 1.1 0 1 0 -2.2 0M329.81 371.84a1.1 1.1 0 1 0 2.2 0a1.1 1.1 0 1 0 -2.2 0M332.35 371.06a1.1 1.1 0 1 0 2.2 0a1.1 1.1 0 1 0 -2.2 0M334.77 370.33a1.1 1.1 0 1 0 2.2 0a1.1 1.1 0 1 0 -2.2 0" fill="#450a68"/>
<path d="M315.11 373.84a1.1 1.1 0 1 0 2.2 0a1.1 1.1 0 1 0 -2.2 0M317.71 374.77a1.1 1.1 0 1 0 2.2 0a1.1 1.1 0 1 0 -2.2 0M320.23 375.66a1.1 1.1 0 1 0 2.2 0a1.1 1.1 0 1 0 -2.2 0M322.54 376.19a1.1 1.1 0 1 0 2.2 0a1.1 1.1 0 1 0 -2.2 0M324.86 376.80a1.1 1.1 0 1 0 2.2 0a1.1 1.1 0 1 0 -2.2 0M327.49 376.51a1.1 1.1 0 1 0 2.2 0a1.1 1.1 0 1 0 -2.2 0M330.04 375.66a1.1 1.1 0 1 0 2.2 0a1.1 1.1 0 1 0 -2.2 0M332.41 374.80a1.1 1.1 0 1 0 2.2 0a1.1 1.1 0 1 0 -2.2 0M334.67 373.96a1.1 1.1 0 1 0 2.2 0a1.1 1.1 0 1 0 -2.2 0" fill="#450a68"/>
<path d="M315.26 377.90a1.1 1.1 0 1 0 2.2 0a1.1 1.1 0 1 0 -2.2 0M317.79 378.79a1.1 1.1 0 1 0 2.2 0a1.1 1.1 0 1 0 -2.2 0M320.12 379.47a1.1 1.1 0 1 0 2.2 0a1.1 1.1 0 1 0 -2.2 0M322.55 380.17a1.1 1.1 0 1 0 2.2 0a1.1 1.1 0 1 0 -2.2 0M325.05 380.79a1.1 1.1 0 1 0 2.2 0a1.1 1.1 0 1 0 -2.2 0M327.56 380.16a1.1 1.1 0 1 0 2.2 0a1.1 1.1 0 1 0 -2.2 0M329.89 379.61a1.1 1.1 0 1 0 2.2 0a1.1 1.1 0 1 0 -2.2 0M332.40 378.64a1.1 1.1 0 1 0 2.2 0a1.1 1.1 0 1 0 -2.2 0M334.82 377.90a1.1 1.1 0 1 0 2.2 0a1.1 1.1 0 1 0 -2.2 0" fill="#450a68"/>
<path d="M315.23 381.38a1.1 1.1 0 1 0 2.2 0a1.1 1.1 0 1 0 -2.2 0M317.59 382.43a1.1 1.1 0 1 0 2.2 0a1.1 1.1 0 1 0 -2.2 0M319.96 383.17a1.1 1.1 0 1 0 2.2 0a1.1 1.1 0 1 0 -2.2 0M322.67 383.80a1.1 1.1 0 1 0 2.2 0a1.1 1.1 0 1 0 -2.2 0M324.98 384.60a1.1 1.1 0 1 0 2.2 0a1.1 1.1 0 1 0 -2.2 0M327.58 384.03a1.1 1.1 0 1 0 2.2 0a1.1 1.1 0 1 0 -2.2 0M329.94 383.14a1.1 1.1 0 1 0 2.2 0a1.1 1.1 0 1 0 -2.2 0M332.33 382.45a1.1 1.1 0 1 0 2.2 0a1.1 1.1 0 1 0 -2.2 0M334.76 381.64a1.1 1.1 0 1 0 2.2 0a1.1 1.1 0 1 0 -2.2 0" fill="#450a68"/>
<path d="M315.05 385.38a1.1 1.1 0 1 0 2.2 0a1.1 1.1 0 1 0 -2.2 0M317.72 386.03a1.1 1.1 0 1 0 2.2 0a1.1 1.1 0 1 0 -2.2 0M319.95 386.86a1.1 1.1 0 1 0 2.2 0a1.1 1.1 0 1 0 -2.2 0M322.58 387.83a1.1 1.1 0 1 0 2.2 0a1.1 1.1 0 1 0 -2.2 0M325.11 388.10a1.1 1.1 0 1 0 2.2 0a1.1 1.1 0 1 0 -2.2 0M327.32 387.49a1.1 1.1 0 1 0 2.2 0a1.1 1.1 0 1 0 -2.2 0M330.05 387.02a1.1 1.1 0 1 0 2.2 0a1.1 1.1 0 1 0 -2.2 0M332.24 386.22a1.1 1.1 0 1 0 2.2 0a1.1 1.1 0 1 0 -2.2 0M334.94 385.30a1.1 1.1 0 1 0 2.2 0a1.1 1.1 0 1 0 -2.2 0" fill="#450a68"/>
<path d="M315.12 389.23a1.1 1.1 0 1 0 2.2 0a1.1 1.1 0 1 0 -2.2 0M317.71 389.72a1.1 1.1 0 1 0 2.2 0a1.1 1.1 0 1 0 -2.2 0M320.18 390.70a1.1 1.1 0 1 0 2.2 0a1.1 1.1 0 1 0 -2.2 0M322.57 391.36a1.1 1.1 0 1 0 2.2 0a1.1 1.1 0 1 0 -2.2 0M324.94 391.96a1.1 1.1 0 1 0 2.2 0a1.1 1.1 0 1 0 -2.2 0M327.46 391.41a1.1 1.1 0 1 0 2.2 0a1.1 1.1 0 1 0 -2.2 0M330.01 390.48a1.1 1.1 0 1 0 2.2 0a1.1 1.1 0 1 0 -2.2 0M332.26 390.09a1.1 1.1 0 1 0 2.2 0a1.1 1.1 0 1 0 -2.2 0M334.83 389.06a1.1 1.1 0 1 0 2.2 0a1.1 1.1 0 1 0 -2.2 0" fill="#450a68"/>
<path d="M315.24 392.62a1.1 1.1 0 1 0 2.2 0a1.1 1.1 0 1 0 -2.2 0M317.62 393.48a1.1 1.1 0 1 0 2.2 0a1.1 1.1 0 1 0 -2.2 0M320.00 394.69a1.1 1.1 0 1 0 2.2 0a1.1 1.1 0 1 0 -2.2 0M322.62 395.37a1.1 1.1 0 1 0 2.2 0a1.1 1.1 0 1 0 -2.2 0M324.85 395.85a1.1 1.1 0 1 0 2.2 0a1.1 1.1 0 1 0 -2.2 0M327.39 395.18a1.1 1.1 0 1 0 2.2 0a1.1 1.1 0 1 0 -2.2 0M329.95 394.21a1.1 1.1 0 1 0 2.2 0a1.1 1.1 0 1 0 -2.2 0M332.31 393.65a1.1 1.1 0 1 0 2.2 0a1.1 1.1 0 1 0 -2.2 0M334.91 392.76a1.1 1.1 0 1 0 2.2 0a1.1 1.1 0 1 0 -2.2 0" fill="#450a68"/>
<path d="M315.15 396.55a1.1 1.1 0 1 0 2.2 0a1.1 1.1 0 1 0 -2.2 0M317.68 397.27a1.1 1.1 0 1 0 2.2 0a1.1 1.1 0 1 0 -2.2 0M320.11 398.08a1.1 1.1 0 1 0 2.2 0a1.1 1.1 0 1 0 -2.2 0M322.40 398.84a1.1 1.1 0 1 0 2.2 0a1.1 1.1 0 1 0 -2.2 0M324.88 399.50a1.1 1.1 0 1 0 2.2 0a1.1 1.1 0 1 0 -2.2 0M327.45 399.12a1.1 1.1 0 1 0 2.2 0a1.1 1.1 0 1 0 -2.2 0M329.97 398.32a1.1 1.1 0 1 0 2.2 0a1.1 1.1 0 1 0 -2.2 0M332.50 397.26a1.1 1.1 0 1 0 2.2 0a1.1 1.1 0 1 0 -2.2 0M334.76 396.37a1.1 1.1 0 1 0 2.2 0a1.1 1.1 0 1 0 -2.2 0" fill="#450a68"/>
<path d="M315.08 400.26a1.1 1.1 0 1 0 2.2 0a1.1 1.1 0 1 0 -2.2 0M317.65 400.94a1.1 1.1 0 1 0 2.2 0a1.1 1.1 0 1 0 -2.2 0M320.23 402.18a1.1 1.1 0 1 0 2.2 0a1.1 1.1 0 1 0 -2.2 0M322.42 402.43a1.1 1.1 0 1 0 2.2 0a1.1 1.1 0 1 0 -2.2 0M324.87 403.37a1.1 1.1 0 1 0 2.2 0a1.1 1.1 0 1 0 -2.2 0M327.56 402.46a1.1 1.1 0 1 0 2.2 0a1.1 1.1 0 1 0 -2.2 0M329.75 401.96a1.1 1.1 0 1 0 2.2 0a1.1 1.1 0 1 0 -2.2 0M332.30 400.89a1.1 1.1 0 1 0 2.2 0a1.1 1.1 0 1 0 -2.2 0M334.65 400.11a1.1 1.1 0 1 0 2.2 0a1.1 1.1 0 1 0 -2.2 0" fill="#450a68"/>
<path d="M315.11 403.90a1.1 1.1 0 1 0 2.2 0a1.1 1.1 0 1 0 -2.2 0M317.67 404.75a1.1 1.1 0 1 0 2.2 0a1.1 1.1 0 1 0 -2.2 0M320.02 405.55a1.1 1.1 0 1 0 2.2 0a1.1 1.1 0 1 0 -2.2 0M322.67 406.30a1.1 1.1 0 1 0 2.2 0a1.1 1.1 0 1 0 -2.2 0M325.02 406.98a1.1 1.1 0 1 0 2.2 0a1.1 1.1 0 1 0 -2.2 0M327.40 406.38a1.1 1.1 0 1 0 2.2 0a1.1 1.1 0 1 0 -2.2 0M329.75 405.54a1.1 1.1 0 1 0 2.2 0a1.1 1.1 0 1 0 -2.2 0M332.39 405.01a1.1 1.1 0 1 0 2.2 0a1.1 1.1 0 1 0 -2.2 0M334.72 403.84a1.1 1.1 0 1 0 2.2 0a1.1 1.1 0 1 0 -2.2 0" fill="#450a68"/>
<path d="M315.32 407.55a1.1 1.1 0 1 0 2.2 0a1.1 1.1 0 1 0 -2.2 0M317.74 408.81a1.1 1.1 0 1 0 2.2 0a1.1 1.1 0 1 0 -2.2 0M319.99 409.61a1.1 1.1 0 1 0 2.2 0a1.1 1.1 0 1 0 -2.2 0M322.45 409.95a1.1 1.1 0 1 0 2.2 0a1.1 1.1 0 1 0 -2.2 0M324.94 410.67a1.1 1.1 0 1 0 2.2 0a1.1 1.1 0 1 0 -2.2 0M327.48 410.15a1.1 1.1 0 1 0 2.2 0a1.1 1.1 0 1 0 -2.2 0M329.99 409.53a1.1 1.1 0 1 0 2.2 0a1.1 1.1 0 1 0 -2.2 0M332.24 408.48a1.1 1.1 0 1 0 2.2 0a1.1 1.1 0 1 0 -2.2 0M334.87 407.56a1.1 1.1 0 1 0 2.2 0a1.1 1.1 0 1 0 -2.2 0" fill="#450a68"/>
<path d="M325.05 239.70a1.05 1.05 0 1 0 2.1 0a1.05 1.05 0 1 0 -2.1 0M325.75 250.70a1.05 1.05 0 1 0 2.1 0a1.05 1.05 0 1 0 -2.1 0M325.05 256.80a1.05 1.05 0 1 0 2.1 0a1.05 1.05 0 1 0 -2.1 0M326.95 257.50a1.05 1.05 0 1 0 2.1 0a1.05 1.05 0 1 0 -2.1 0M322.85 260.90a1.05 1.05 0 1 0 2.1 0a1.05 1.05 0 1 0 -2.1 0M324.75 268.10a1.05 1.05 0 1 0 2.1 0a1.05 1.05 0 1 0 -2.1 0M321.65 275.40a1.05 1.05 0 1 0 2.1 0a1.05 1.05 0 1 0 -2.1 0M325.05 276.00a1.05 1.05 0 1 0 2.1 0a1.05 1.05 0 1 0 -2.1 0M327.95 276.40a1.05 1.05 0 1 0 2.1 0a1.05 1.05 0 1 0 -2.1 0M323.15 279.80a1.05 1.05 0 1 0 2.1 0a1.05 1.05 0 1 0 -2.1 0M326.95 280.80a1.05 1.05 0 1 0 2.1 0a1.05 1.05 0 1 0 -2.1 0M321.15 284.70a1.05 1.05 0 1 0 2.1 0a1.05 1.05 0 1 0 -2.1 0M325.05 285.60a1.05 1.05 0 1 0 2.1 0a1.05 1.05 0 1 0 -2.1 0M328.65 285.60a1.05 1.05 0 1 0 2.1 0a1.05 1.05 0 1 0 -2.1 0M325.45 290.20a1.05 1.05 0 1 0 2.1 0a1.05 1.05 0 1 0 -2.1 0M325.05 294.60a1.05 1.05 0 1 0 2.1 0a1.05 1.05 0 1 0 -2.1 0M325.45 299.20a1.05 1.05 0 1 0 2.1 0a1.05 1.05 0 1 0 -2.1 0M324.95 300.00a1.05 1.05 0 1 0 2.1 0a1.05 1.05 0 1 0 -2.1 0M330.75 304.80a1.05 1.05 0 1 0 2.1 0a1.05 1.05 0 1 0 -2.1 0M319.85 307.10a1.05 1.05 0 1 0 2.1 0a1.05 1.05 0 1 0 -2.1 0M323.15 308.40a1.05 1.05 0 1 0 2.1 0a1.05 1.05 0 1 0 -2.1 0M326.85 308.20a1.05 1.05 0 1 0 2.1 0a1.05 1.05 0 1 0 -2.1 0M317.55 310.10a1.05 1.05 0 1 0 2.1 0a1.05 1.05 0 1 0 -2.1 0M328.35 311.60a1.05 1.05 0 1 0 2.1 0a1.05 1.05 0 1 0 -2.1 0M332.85 310.70a1.05 1.05 0 1 0 2.1 0a1.05 1.05 0 1 0 -2.1 0M320.75 313.10a1.05 1.05 0 1 0 2.1 0a1.05 1.05 0 1 0 -2.1 0M324.95 313.50a1.05 1.05 0 1 0 2.1 0a1.05 1.05 0 1 0 -2.1 0M317.95 314.90a1.05 1.05 0 1 0 2.1 0a1.05 1.05 0 1 0 -2.1 0M319.95 315.80a1.05 1.05 0 1 0 2.1 0a1.05 1.05 0 1 0 -2.1 0M321.95 316.40a1.05 1.05 0 1 0 2.1 0a1.05 1.05 0 1 0 -2.1 0M323.95 316.80a1.05 1.05 0 1 0 2.1 0a1.05 1.05 0 1 0 -2.1 0M325.95 316.60a1.05 1.05 0 1 0 2.1 0a1.05 1.05 0 1 0 -2.1 0M327.95 316.00a1.05 1.05 0 1 0 2.1 0a1.05 1.05 0 1 0 -2.1 0M330.15 315.40a1.05 1.05 0 1 0 2.1 0a1.05 1.05 0 1 0 -2.1 0M332.45 314.80a1.05 1.05 0 1 0 2.1 0a1.05 1.05 0 1 0 -2.1 0M317.55 321.00a1.05 1.05 0 1 0 2.1 0a1.05 1.05 0 1 0 -2.1 0M321.85 322.40a1.05 1.05 0 1 0 2.1 0a1.05 1.05 0 1 0 -2.1 0M324.65 322.40a1.05 1.05 0 1 0 2.1 0a1.05 1.05 0 1 0 -2.1 0M328.35 321.00a1.05 1.05 0 1 0 2.1 0a1.05 1.05 0 1 0 -2.1 0M332.15 320.50a1.05 1.05 0 1 0 2.1 0a1.05 1.05 0 1 0 -2.1 0M317.95 325.00a1.05 1.05 0 1 0 2.1 0a1.05 1.05 0 1 0 -2.1 0M321.25 327.20a1.05 1.05 0 1 0 2.1 0a1.05 1.05 0 1 0 -2.1 0M325.45 327.70a1.05 1.05 0 1 0 2.1 0a1.05 1.05 0 1 0 -2.1 0M328.55 327.70a1.05 1.05 0 1 0 2.1 0a1.05 1.05 0 1 0 -2.1 0M331.95 325.80a1.05 1.05 0 1 0 2.1 0a1.05 1.05 0 1 0 -2.1 0M315.65 329.70a1.05 1.05 0 1 0 2.1 0a1.05 1.05 0 1 0 -2.1 0M317.75 330.40a1.05 1.05 0 1 0 2.1 0a1.05 1.05 0 1 0 -2.1 0M319.85 331.00a1.05 1.05 0 1 0 2.1 0a1.05 1.05 0 1 0 -2.1 0M321.95 331.60a1.05 1.05 0 1 0 2.1 0a1.05 1.05 0 1 0 -2.1 0M324.05 332.00a1.05 1.05 0 1 0 2.1 0a1.05 1.05 0 1 0 -2.1 0M326.55 331.30a1.05 1.05 0 1 0 2.1 0a1.05 1.05 0 1 0 -2.1 0M329.05 330.50a1.05 1.05 0 1 0 2.1 0a1.05 1.05 0 1 0 -2.1 0M331.55 329.80a1.05 1.05 0 1 0 2.1 0a1.05 1.05 0 1 0 -2.1 0M334.15 329.10a1.05 1.05 0 1 0 2.1 0a1.05 1.05 0 1 0 -2.1 0M316.45 334.10a1.05 1.05 0 1 0 2.1 0a1.05 1.05 0 1 0 -2.1 0M320.15 336.60a1.05 1.05 0 1 0 2.1 0a1.05 1.05 0 1 0 -2.1 0M323.55 337.30a1.05 1.05 0 1 0 2.1 0a1.05 1.05 0 1 0 -2.1 0M326.85 335.30a1.05 1.05 0 1 0 2.1 0a1.05 1.05 0 1 0 -2.1 0M330.55 336.60a1.05 1.05 0 1 0 2.1 0a1.05 1.05 0 1 0 -2.1 0M316.25 338.80a1.05 1.05 0 1 0 2.1 0a1.05 1.05 0 1 0 -2.1 0M318.75 339.50a1.05 1.05 0 1 0 2.1 0a1.05 1.05 0 1 0 -2.1 0M321.25 340.20a1.05 1.05 0 1 0 2.1 0a1.05 1.05 0 1 0 -2.1 0M323.75 340.80a1.05 1.05 0 1 0 2.1 0a1.05 1.05 0 1 0 -2.1 0M326.05 340.30a1.05 1.05 0 1 0 2.1 0a1.05 1.05 0 1 0 -2.1 0M328.45 339.60a1.05 1.05 0 1 0 2.1 0a1.05 1.05 0 1 0 -2.1 0M330.75 339.00a1.05 1.05 0 1 0 2.1 0a1.05 1.05 0 1 0 -2.1 0M333.05 338.40a1.05 1.05 0 1 0 2.1 0a1.05 1.05 0 1 0 -2.1 0" fill="#3f0862"/>
<path d="M225.80 405.30H246.20" stroke="#2c2c2c" stroke-width="1.1"/><rect x="230.50" y="404.30" width="11.00" height="2.10" rx="0.5" fill="#050505"/>
<path d="M255.80 391.90H276.20" stroke="#2c2c2c" stroke-width="1.1"/><path d="M260.30 388.10H271.70M260.30 395.90H271.70M266.00 388.10V395.90" stroke="#2c2c2c" stroke-width="1.1" fill="none"/>
<path d="M285.50 390.90H305.90" stroke="#2c2c2c" stroke-width="1.1"/><path d="M290.00 379.00H301.40M290.00 403.00H301.40M295.70 379.00V403.00" stroke="#2c2c2c" stroke-width="1.1" fill="none"/>
<path d="M315.80 382.60H336.20" stroke="#2c2c2c" stroke-width="1.1"/><rect x="320.25" y="381.00" width="11.50" height="3.10" rx="0.5" fill="#050505"/>
<path d="M390.1 229.0V413.9H512.2" fill="none" stroke="#1c1c1c" stroke-width="1.45"/>
<path d="M386.90000000000003 413.90H390.1" stroke="#1c1c1c" stroke-width="1.1"/>
<text x="385.00" y="416.90" class="tk" text-anchor="end">0</text>
<path d="M386.90000000000003 391.42H390.1" stroke="#1c1c1c" stroke-width="1.1"/>
<text x="385.00" y="394.42" class="tk" text-anchor="end">1000</text>
<path d="M386.90000000000003 368.95H390.1" stroke="#1c1c1c" stroke-width="1.1"/>
<text x="385.00" y="371.95" class="tk" text-anchor="end">2000</text>
<path d="M386.90000000000003 346.47H390.1" stroke="#1c1c1c" stroke-width="1.1"/>
<text x="385.00" y="349.47" class="tk" text-anchor="end">3000</text>
<path d="M386.90000000000003 324.00H390.1" stroke="#1c1c1c" stroke-width="1.1"/>
<text x="385.00" y="327.00" class="tk" text-anchor="end">4000</text>
<path d="M386.90000000000003 301.52H390.1" stroke="#1c1c1c" stroke-width="1.1"/>
<text x="385.00" y="304.52" class="tk" text-anchor="end">5000</text>
<path d="M386.90000000000003 279.05H390.1" stroke="#1c1c1c" stroke-width="1.1"/>
<text x="385.00" y="282.05" class="tk" text-anchor="end">6000</text>
<path d="M386.90000000000003 256.58H390.1" stroke="#1c1c1c" stroke-width="1.1"/>
<text x="385.00" y="259.58" class="tk" text-anchor="end">7000</text>
<path d="M386.90000000000003 234.10H390.1" stroke="#1c1c1c" stroke-width="1.1"/>
<text x="385.00" y="237.10" class="tk" text-anchor="end">8000</text>
<path d="M405.70 413.9V417.09999999999997" stroke="#1c1c1c" stroke-width="1.1"/>
<text transform="translate(408.80 423.90) rotate(-45)" class="xl" text-anchor="end">NPC</text>
<path d="M435.83 413.9V417.09999999999997" stroke="#1c1c1c" stroke-width="1.1"/>
<text transform="translate(438.93 423.90) rotate(-45)" class="xl" text-anchor="end">MGUS</text>
<path d="M465.96 413.9V417.09999999999997" stroke="#1c1c1c" stroke-width="1.1"/>
<text transform="translate(469.06 423.90) rotate(-45)" class="xl" text-anchor="end">SMM</text>
<path d="M496.09 413.9V417.09999999999997" stroke="#1c1c1c" stroke-width="1.1"/>
<text transform="translate(499.19 423.90) rotate(-45)" class="xl" text-anchor="end">MM</text>
<text x="401.5" y="247.9" class="ti" textLength="34.6" lengthAdjust="spacingAndGlyphs">IQGAP2</text>
<text x="401.9" y="257.6" class="pv" textLength="19.8" lengthAdjust="spacingAndGlyphs">p=.03</text>
<path d="M403.95 341.50h3.1l-1.55-2.75zM403.95 375.40h3.1l-1.55-2.75zM402.25 389.20h3.1l-1.55-2.75zM406.25 391.50h3.1l-1.55-2.75zM404.35 394.80h3.1l-1.55-2.75zM400.35 398.90h3.1l-1.55-2.75zM407.05 398.60h3.1l-1.55-2.75zM410.25 402.40h3.1l-1.55-2.75zM398.95 405.00h3.1l-1.55-2.75zM402.45 405.20h3.1l-1.55-2.75zM406.05 405.20h3.1l-1.55-2.75zM395.65 407.10h3.1l-1.55-2.75zM398.45 407.90h3.1l-1.55-2.75zM409.35 408.00h3.1l-1.55-2.75zM412.55 407.10h3.1l-1.55-2.75zM402.45 409.40h3.1l-1.55-2.75zM405.65 409.40h3.1l-1.55-2.75zM399.45 412.00h3.1l-1.55-2.75zM409.45 411.70h3.1l-1.55-2.75zM402.45 413.60h3.1l-1.55-2.75zM406.05 413.40h3.1l-1.55-2.75z" fill="#cc0a2c"/>
<path d="M433.75 255.80h3.1l-1.55 2.7zM433.75 330.30h3.1l-1.55 2.7zM433.85 362.30h3.1l-1.55 2.7zM432.35 367.70h3.1l-1.55 2.7zM436.15 366.60h3.1l-1.55 2.7zM428.95 370.30h3.1l-1.55 2.7zM432.65 371.90h3.1l-1.55 2.7zM436.15 372.30h3.1l-1.55 2.7zM440.05 371.90h3.1l-1.55 2.7zM432.05 377.40h3.1l-1.55 2.7zM436.65 376.50h3.1l-1.55 2.7zM441.25 379.00h3.1l-1.55 2.7zM426.95 380.50h3.1l-1.55 2.7zM430.45 381.60h3.1l-1.55 2.7zM434.15 381.10h3.1l-1.55 2.7zM438.25 381.60h3.1l-1.55 2.7zM436.65 385.80h3.1l-1.55 2.7zM428.45 391.90h3.1l-1.55 2.7zM432.65 390.10h3.1l-1.55 2.7zM437.75 389.80h3.1l-1.55 2.7zM439.75 392.90h3.1l-1.55 2.7zM432.65 395.50h3.1l-1.55 2.7zM435.75 395.00h3.1l-1.55 2.7zM427.45 397.80h3.1l-1.55 2.7zM430.45 398.60h3.1l-1.55 2.7zM434.15 399.40h3.1l-1.55 2.7zM438.25 398.10h3.1l-1.55 2.7zM441.55 397.00h3.1l-1.55 2.7zM443.15 399.40h3.1l-1.55 2.7zM425.85 401.20h3.1l-1.55 2.7zM429.25 403.20h3.1l-1.55 2.7zM435.75 402.40h3.1l-1.55 2.7zM439.75 404.30h3.1l-1.55 2.7zM432.35 406.30h3.1l-1.55 2.7zM436.15 407.10h3.1l-1.55 2.7zM440.05 408.60h3.1l-1.55 2.7zM428.95 410.30h3.1l-1.55 2.7zM432.65 411.10h3.1l-1.55 2.7zM435.75 411.00h3.1l-1.55 2.7z" fill="#0c4a8c"/>
<path d="M465.00 356.90a1.1 1.1 0 1 0 2.2 0a1.1 1.1 0 1 0 -2.2 0M465.00 365.70a1.1 1.1 0 1 0 2.2 0a1.1 1.1 0 1 0 -2.2 0M466.80 368.50a1.1 1.1 0 1 0 2.2 0a1.1 1.1 0 1 0 -2.2 0M463.00 371.50a1.1 1.1 0 1 0 2.2 0a1.1 1.1 0 1 0 -2.2 0M461.30 377.70a1.1 1.1 0 1 0 2.2 0a1.1 1.1 0 1 0 -2.2 0M465.00 378.40a1.1 1.1 0 1 0 2.2 0a1.1 1.1 0 1 0 -2.2 0M468.80 375.60a1.1 1.1 0 1 0 2.2 0a1.1 1.1 0 1 0 -2.2 0M463.00 394.30a1.1 1.1 0 1 0 2.2 0a1.1 1.1 0 1 0 -2.2 0M466.80 393.80a1.1 1.1 0 1 0 2.2 0a1.1 1.1 0 1 0 -2.2 0M465.00 400.90a1.1 1.1 0 1 0 2.2 0a1.1 1.1 0 1 0 -2.2 0M466.80 410.90a1.1 1.1 0 1 0 2.2 0a1.1 1.1 0 1 0 -2.2 0M463.00 412.80a1.1 1.1 0 1 0 2.2 0a1.1 1.1 0 1 0 -2.2 0" fill="#18a838"/>
<path d="M489.98 346.46a1.1 1.1 0 1 0 2.2 0a1.1 1.1 0 1 0 -2.2 0M491.78 347.71a1.1 1.1 0 1 0 2.2 0a1.1 1.1 0 1 0 -2.2 0M493.81 349.08a1.1 1.1 0 1 0 2.2 0a1.1 1.1 0 1 0 -2.2 0M495.84 348.89a1.1 1.1 0 1 0 2.2 0a1.1 1.1 0 1 0 -2.2 0M497.86 347.66a1.1 1.1 0 1 0 2.2 0a1.1 1.1 0 1 0 -2.2 0M499.91 346.28a1.1 1.1 0 1 0 2.2 0a1.1 1.1 0 1 0 -2.2 0" fill="#450a68"/>
<path d="M487.19 350.23a1.1 1.1 0 1 0 2.2 0a1.1 1.1 0 1 0 -2.2 0M489.07 351.30a1.1 1.1 0 1 0 2.2 0a1.1 1.1 0 1 0 -2.2 0M490.96 351.98a1.1 1.1 0 1 0 2.2 0a1.1 1.1 0 1 0 -2.2 0M492.87 352.99a1.1 1.1 0 1 0 2.2 0a1.1 1.1 0 1 0 -2.2 0M495.01 353.66a1.1 1.1 0 1 0 2.2 0a1.1 1.1 0 1 0 -2.2 0M496.89 352.63a1.1 1.1 0 1 0 2.2 0a1.1 1.1 0 1 0 -2.2 0M498.68 352.16a1.1 1.1 0 1 0 2.2 0a1.1 1.1 0 1 0 -2.2 0M500.88 351.13a1.1 1.1 0 1 0 2.2 0a1.1 1.1 0 1 0 -2.2 0M502.85 350.37a1.1 1.1 0 1 0 2.2 0a1.1 1.1 0 1 0 -2.2 0" fill="#450a68"/>
<path d="M485.78 353.94a1.1 1.1 0 1 0 2.2 0a1.1 1.1 0 1 0 -2.2 0M487.73 354.79a1.1 1.1 0 1 0 2.2 0a1.1 1.1 0 1 0 -2.2 0M489.76 355.66a1.1 1.1 0 1 0 2.2 0a1.1 1.1 0 1 0 -2.2 0M491.69 356.23a1.1 1.1 0 1 0 2.2 0a1.1 1.1 0 1 0 -2.2 0M493.78 357.10a1.1 1.1 0 1 0 2.2 0a1.1 1.1 0 1 0 -2.2 0M496.03 357.17a1.1 1.1 0 1 0 2.2 0a1.1 1.1 0 1 0 -2.2 0M497.86 356.40a1.1 1.1 0 1 0 2.2 0a1.1 1.1 0 1 0 -2.2 0M500.05 355.49a1.1 1.1 0 1 0 2.2 0a1.1 1.1 0 1 0 -2.2 0M501.93 354.92a1.1 1.1 0 1 0 2.2 0a1.1 1.1 0 1 0 -2.2 0M504.02 354.07a1.1 1.1 0 1 0 2.2 0a1.1 1.1 0 1 0 -2.2 0" fill="#450a68"/>
<path d="M485.60 358.03a1.1 1.1 0 1 0 2.2 0a1.1 1.1 0 1 0 -2.2 0M487.69 358.67a1.1 1.1 0 1 0 2.2 0a1.1 1.1 0 1 0 -2.2 0M489.80 359.71a1.1 1.1 0 1 0 2.2 0a1.1 1.1 0 1 0 -2.2 0M491.96 360.44a1.1 1.1 0 1 0 2.2 0a1.1 1.1 0 1 0 -2.2 0M493.93 360.70a1.1 1.1 0 1 0 2.2 0a1.1 1.1 0 1 0 -2.2 0M495.83 360.93a1.1 1.1 0 1 0 2.2 0a1.1 1.1 0 1 0 -2.2 0M498.11 360.38a1.1 1.1 0 1 0 2.2 0a1.1 1.1 0 1 0 -2.2 0M499.92 359.45a1.1 1.1 0 1 0 2.2 0a1.1 1.1 0 1 0 -2.2 0M502.19 358.71a1.1 1.1 0 1 0 2.2 0a1.1 1.1 0 1 0 -2.2 0M504.21 358.03a1.1 1.1 0 1 0 2.2 0a1.1 1.1 0 1 0 -2.2 0" fill="#450a68"/>
<path d="M485.78 361.76a1.1 1.1 0 1 0 2.2 0a1.1 1.1 0 1 0 -2.2 0M487.79 362.48a1.1 1.1 0 1 0 2.2 0a1.1 1.1 0 1 0 -2.2 0M489.68 363.59a1.1 1.1 0 1 0 2.2 0a1.1 1.1 0 1 0 -2.2 0M491.69 364.00a1.1 1.1 0 1 0 2.2 0a1.1 1.1 0 1 0 -2.2 0M493.91 365.00a1.1 1.1 0 1 0 2.2 0a1.1 1.1 0 1 0 -2.2 0M495.84 364.64a1.1 1.1 0 1 0 2.2 0a1.1 1.1 0 1 0 -2.2 0M498.07 364.03a1.1 1.1 0 1 0 2.2 0a1.1 1.1 0 1 0 -2.2 0M499.98 363.30a1.1 1.1 0 1 0 2.2 0a1.1 1.1 0 1 0 -2.2 0M501.92 362.78a1.1 1.1 0 1 0 2.2 0a1.1 1.1 0 1 0 -2.2 0M504.16 361.45a1.1 1.1 0 1 0 2.2 0a1.1 1.1 0 1 0 -2.2 0" fill="#450a68"/>
<path d="M485.58 365.37a1.1 1.1 0 1 0 2.2 0a1.1 1.1 0 1 0 -2.2 0M487.71 366.60a1.1 1.1 0 1 0 2.2 0a1.1 1.1 0 1 0 -2.2 0M489.68 367.08a1.1 1.1 0 1 0 2.2 0a1.1 1.1 0 1 0 -2.2 0M491.78 367.97a1.1 1.1 0 1 0 2.2 0a1.1 1.1 0 1 0 -2.2 0M494.00 368.63a1.1 1.1 0 1 0 2.2 0a1.1 1.1 0 1 0 -2.2 0M496.04 368.63a1.1 1.1 0 1 0 2.2 0a1.1 1.1 0 1 0 -2.2 0M497.95 368.15a1.1 1.1 0 1 0 2.2 0a1.1 1.1 0 1 0 -2.2 0M500.04 367.21a1.1 1.1 0 1 0 2.2 0a1.1 1.1 0 1 0 -2.2 0M502.06 366.34a1.1 1.1 0 1 0 2.2 0a1.1 1.1 0 1 0 -2.2 0M504.08 365.34a1.1 1.1 0 1 0 2.2 0a1.1 1.1 0 1 0 -2.2 0" fill="#450a68"/>
<path d="M485.61 369.53a1.1 1.1 0 1 0 2.2 0a1.1 1.1 0 1 0 -2.2 0M487.63 370.11a1.1 1.1 0 1 0 2.2 0a1.1 1.1 0 1 0 -2.2 0M489.69 371.00a1.1 1.1 0 1 0 2.2 0a1.1 1.1 0 1 0 -2.2 0M491.70 371.75a1.1 1.1 0 1 0 2.2 0a1.1 1.1 0 1 0 -2.2 0M493.91 372.55a1.1 1.1 0 1 0 2.2 0a1.1 1.1 0 1 0 -2.2 0M496.03 372.26a1.1 1.1 0 1 0 2.2 0a1.1 1.1 0 1 0 -2.2 0M498.01 371.67a1.1 1.1 0 1 0 2.2 0a1.1 1.1 0 1 0 -2.2 0M499.96 371.11a1.1 1.1 0 1 0 2.2 0a1.1 1.1 0 1 0 -2.2 0M502.16 370.34a1.1 1.1 0 1 0 2.2 0a1.1 1.1 0 1 0 -2.2 0M504.25 369.16a1.1 1.1 0 1 0 2.2 0a1.1 1.1 0 1 0 -2.2 0" fill="#450a68"/>
<path d="M485.64 373.24a1.1 1.1 0 1 0 2.2 0a1.1 1.1 0 1 0 -2.2 0M487.61 373.89a1.1 1.1 0 1 0 2.2 0a1.1 1.1 0 1 0 -2.2 0M489.75 374.95a1.1 1.1 0 1 0 2.2 0a1.1 1.1 0 1 0 -2.2 0M491.72 375.45a1.1 1.1 0 1 0 2.2 0a1.1 1.1 0 1 0 -2.2 0M493.82 376.43a1.1 1.1 0 1 0 2.2 0a1.1 1.1 0 1 0 -2.2 0M495.94 376.56a1.1 1.1 0 1 0 2.2 0a1.1 1.1 0 1 0 -2.2 0M498.00 375.86a1.1 1.1 0 1 0 2.2 0a1.1 1.1 0 1 0 -2.2 0M500.03 374.91a1.1 1.1 0 1 0 2.2 0a1.1 1.1 0 1 0 -2.2 0M502.03 373.89a1.1 1.1 0 1 0 2.2 0a1.1 1.1 0 1 0 -2.2 0M503.97 373.33a1.1 1.1 0 1 0 2.2 0a1.1 1.1 0 1 0 -2.2 0" fill="#450a68"/>
<path d="M485.81 376.86a1.1 1.1 0 1 0 2.2 0a1.1 1.1 0 1 0 -2.2 0M487.65 377.87a1.1 1.1 0 1 0 2.2 0a1.1 1.1 0 1 0 -2.2 0M489.73 378.94a1.1 1.1 0 1 0 2.2 0a1.1 1.1 0 1 0 -2.2 0M491.76 379.42a1.1 1.1 0 1 0 2.2 0a1.1 1.1 0 1 0 -2.2 0M493.87 380.39a1.1 1.1 0 1 0 2.2 0a1.1 1.1 0 1 0 -2.2 0M495.86 380.23a1.1 1.1 0 1 0 2.2 0a1.1 1.1 0 1 0 -2.2 0M497.83 379.48a1.1 1.1 0 1 0 2.2 0a1.1 1.1 0 1 0 -2.2 0M500.14 378.63a1.1 1.1 0 1 0 2.2 0a1.1 1.1 0 1 0 -2.2 0M502.01 378.04a1.1 1.1 0 1 0 2.2 0a1.1 1.1 0 1 0 -2.2 0M504.12 377.14a1.1 1.1 0 1 0 2.2 0a1.1 1.1 0 1 0 -2.2 0" fill="#450a68"/>
<path d="M485.73 381.04a1.1 1.1 0 1 0 2.2 0a1.1 1.1 0 1 0 -2.2 0M487.69 381.74a1.1 1.1 0 1 0 2.2 0a1.1 1.1 0 1 0 -2.2 0M489.76 382.63a1.1 1.1 0 1 0 2.2 0a1.1 1.1 0 1 0 -2.2 0M491.85 383.55a1.1 1.1 0 1 0 2.2 0a1.1 1.1 0 1 0 -2.2 0M493.85 383.99a1.1 1.1 0 1 0 2.2 0a1.1 1.1 0 1 0 -2.2 0M496.02 384.25a1.1 1.1 0 1 0 2.2 0a1.1 1.1 0 1 0 -2.2 0M497.89 383.48a1.1 1.1 0 1 0 2.2 0a1.1 1.1 0 1 0 -2.2 0M499.94 382.74a1.1 1.1 0 1 0 2.2 0a1.1 1.1 0 1 0 -2.2 0M501.92 381.81a1.1 1.1 0 1 0 2.2 0a1.1 1.1 0 1 0 -2.2 0M504.12 381.05a1.1 1.1 0 1 0 2.2 0a1.1 1.1 0 1 0 -2.2 0" fill="#450a68"/>
<path d="M485.83 384.95a1.1 1.1 0 1 0 2.2 0a1.1 1.1 0 1 0 -2.2 0M487.76 385.66a1.1 1.1 0 1 0 2.2 0a1.1 1.1 0 1 0 -2.2 0M489.64 386.50a1.1 1.1 0 1 0 2.2 0a1.1 1.1 0 1 0 -2.2 0M491.85 387.34a1.1 1.1 0 1 0 2.2 0a1.1 1.1 0 1 0 -2.2 0M493.78 387.91a1.1 1.1 0 1 0 2.2 0a1.1 1.1 0 1 0 -2.2 0M495.79 387.98a1.1 1.1 0 1 0 2.2 0a1.1 1.1 0 1 0 -2.2 0M498.06 387.19a1.1 1.1 0 1 0 2.2 0a1.1 1.1 0 1 0 -2.2 0M500.07 386.55a1.1 1.1 0 1 0 2.2 0a1.1 1.1 0 1 0 -2.2 0M502.00 385.45a1.1 1.1 0 1 0 2.2 0a1.1 1.1 0 1 0 -2.2 0M504.18 384.73a1.1 1.1 0 1 0 2.2 0a1.1 1.1 0 1 0 -2.2 0" fill="#450a68"/>
<path d="M485.60 388.62a1.1 1.1 0 1 0 2.2 0a1.1 1.1 0 1 0 -2.2 0M487.84 389.74a1.1 1.1 0 1 0 2.2 0a1.1 1.1 0 1 0 -2.2 0M489.81 390.55a1.1 1.1 0 1 0 2.2 0a1.1 1.1 0 1 0 -2.2 0M491.74 391.06a1.1 1.1 0 1 0 2.2 0a1.1 1.1 0 1 0 -2.2 0M493.73 391.58a1.1 1.1 0 1 0 2.2 0a1.1 1.1 0 1 0 -2.2 0M496.04 391.49a1.1 1.1 0 1 0 2.2 0a1.1 1.1 0 1 0 -2.2 0M498.01 391.07a1.1 1.1 0 1 0 2.2 0a1.1 1.1 0 1 0 -2.2 0M500.16 390.57a1.1 1.1 0 1 0 2.2 0a1.1 1.1 0 1 0 -2.2 0M501.94 389.39a1.1 1.1 0 1 0 2.2 0a1.1 1.1 0 1 0 -2.2 0M504.25 388.56a1.1 1.1 0 1 0 2.2 0a1.1 1.1 0 1 0 -2.2 0" fill="#450a68"/>
<path d="M485.60 392.71a1.1 1.1 0 1 0 2.2 0a1.1 1.1 0 1 0 -2.2 0M487.78 393.26a1.1 1.1 0 1 0 2.2 0a1.1 1.1 0 1 0 -2.2 0M489.81 394.13a1.1 1.1 0 1 0 2.2 0a1.1 1.1 0 1 0 -2.2 0M491.82 394.94a1.1 1.1 0 1 0 2.2 0a1.1 1.1 0 1 0 -2.2 0M493.78 395.62a1.1 1.1 0 1 0 2.2 0a1.1 1.1 0 1 0 -2.2 0M496.06 395.61a1.1 1.1 0 1 0 2.2 0a1.1 1.1 0 1 0 -2.2 0M498.05 394.81a1.1 1.1 0 1 0 2.2 0a1.1 1.1 0 1 0 -2.2 0M499.91 393.92a1.1 1.1 0 1 0 2.2 0a1.1 1.1 0 1 0 -2.2 0M502.20 393.17a1.1 1.1 0 1 0 2.2 0a1.1 1.1 0 1 0 -2.2 0M504.06 392.58a1.1 1.1 0 1 0 2.2 0a1.1 1.1 0 1 0 -2.2 0" fill="#450a68"/>
<path d="M485.77 396.41a1.1 1.1 0 1 0 2.2 0a1.1 1.1 0 1 0 -2.2 0M487.73 397.37a1.1 1.1 0 1 0 2.2 0a1.1 1.1 0 1 0 -2.2 0M489.77 398.19a1.1 1.1 0 1 0 2.2 0a1.1 1.1 0 1 0 -2.2 0M491.70 398.88a1.1 1.1 0 1 0 2.2 0a1.1 1.1 0 1 0 -2.2 0M493.76 399.36a1.1 1.1 0 1 0 2.2 0a1.1 1.1 0 1 0 -2.2 0M495.91 399.25a1.1 1.1 0 1 0 2.2 0a1.1 1.1 0 1 0 -2.2 0M497.95 398.94a1.1 1.1 0 1 0 2.2 0a1.1 1.1 0 1 0 -2.2 0M499.87 397.87a1.1 1.1 0 1 0 2.2 0a1.1 1.1 0 1 0 -2.2 0M502.20 397.18a1.1 1.1 0 1 0 2.2 0a1.1 1.1 0 1 0 -2.2 0M504.07 396.56a1.1 1.1 0 1 0 2.2 0a1.1 1.1 0 1 0 -2.2 0" fill="#450a68"/>
<path d="M485.78 400.04a1.1 1.1 0 1 0 2.2 0a1.1 1.1 0 1 0 -2.2 0M487.77 400.90a1.1 1.1 0 1 0 2.2 0a1.1 1.1 0 1 0 -2.2 0M489.87 401.90a1.1 1.1 0 1 0 2.2 0a1.1 1.1 0 1 0 -2.2 0M491.92 402.40a1.1 1.1 0 1 0 2.2 0a1.1 1.1 0 1 0 -2.2 0M494.01 403.13a1.1 1.1 0 1 0 2.2 0a1.1 1.1 0 1 0 -2.2 0M496.03 403.23a1.1 1.1 0 1 0 2.2 0a1.1 1.1 0 1 0 -2.2 0M498.08 402.42a1.1 1.1 0 1 0 2.2 0a1.1 1.1 0 1 0 -2.2 0M499.88 401.85a1.1 1.1 0 1 0 2.2 0a1.1 1.1 0 1 0 -2.2 0M502.18 401.04a1.1 1.1 0 1 0 2.2 0a1.1 1.1 0 1 0 -2.2 0M504.10 400.03a1.1 1.1 0 1 0 2.2 0a1.1 1.1 0 1 0 -2.2 0" fill="#450a68"/>
<path d="M485.71 404.01a1.1 1.1 0 1 0 2.2 0a1.1 1.1 0 1 0 -2.2 0M487.86 405.03a1.1 1.1 0 1 0 2.2 0a1.1 1.1 0 1 0 -2.2 0M489.78 405.54a1.1 1.1 0 1 0 2.2 0a1.1 1.1 0 1 0 -2.2 0M491.73 406.70a1.1 1.1 0 1 0 2.2 0a1.1 1.1 0 1 0 -2.2 0M493.91 406.98a1.1 1.1 0 1 0 2.2 0a1.1 1.1 0 1 0 -2.2 0M496.02 406.97a1.1 1.1 0 1 0 2.2 0a1.1 1.1 0 1 0 -2.2 0M497.95 406.66a1.1 1.1 0 1 0 2.2 0a1.1 1.1 0 1 0 -2.2 0M499.89 405.52a1.1 1.1 0 1 0 2.2 0a1.1 1.1 0 1 0 -2.2 0M501.92 404.74a1.1 1.1 0 1 0 2.2 0a1.1 1.1 0 1 0 -2.2 0M504.06 403.96a1.1 1.1 0 1 0 2.2 0a1.1 1.1 0 1 0 -2.2 0" fill="#450a68"/>
<path d="M485.63 407.66a1.1 1.1 0 1 0 2.2 0a1.1 1.1 0 1 0 -2.2 0M487.74 408.73a1.1 1.1 0 1 0 2.2 0a1.1 1.1 0 1 0 -2.2 0M489.86 409.47a1.1 1.1 0 1 0 2.2 0a1.1 1.1 0 1 0 -2.2 0M491.86 410.22a1.1 1.1 0 1 0 2.2 0a1.1 1.1 0 1 0 -2.2 0M493.95 410.80a1.1 1.1 0 1 0 2.2 0a1.1 1.1 0 1 0 -2.2 0M495.92 410.94a1.1 1.1 0 1 0 2.2 0a1.1 1.1 0 1 0 -2.2 0M497.95 410.34a1.1 1.1 0 1 0 2.2 0a1.1 1.1 0 1 0 -2.2 0M500.02 409.48a1.1 1.1 0 1 0 2.2 0a1.1 1.1 0 1 0 -2.2 0M502.15 408.98a1.1 1.1 0 1 0 2.2 0a1.1 1.1 0 1 0 -2.2 0M504.12 407.97a1.1 1.1 0 1 0 2.2 0a1.1 1.1 0 1 0 -2.2 0" fill="#450a68"/>
<path d="M495.45 245.90a1.05 1.05 0 1 0 2.1 0a1.05 1.05 0 1 0 -2.1 0M491.55 269.40a1.05 1.05 0 1 0 2.1 0a1.05 1.05 0 1 0 -2.1 0M494.95 271.10a1.05 1.05 0 1 0 2.1 0a1.05 1.05 0 1 0 -2.1 0M498.75 268.20a1.05 1.05 0 1 0 2.1 0a1.05 1.05 0 1 0 -2.1 0M494.95 281.60a1.05 1.05 0 1 0 2.1 0a1.05 1.05 0 1 0 -2.1 0M491.55 290.00a1.05 1.05 0 1 0 2.1 0a1.05 1.05 0 1 0 -2.1 0M495.45 292.00a1.05 1.05 0 1 0 2.1 0a1.05 1.05 0 1 0 -2.1 0M498.75 289.00a1.05 1.05 0 1 0 2.1 0a1.05 1.05 0 1 0 -2.1 0M492.75 297.90a1.05 1.05 0 1 0 2.1 0a1.05 1.05 0 1 0 -2.1 0M497.15 296.70a1.05 1.05 0 1 0 2.1 0a1.05 1.05 0 1 0 -2.1 0M492.75 304.60a1.05 1.05 0 1 0 2.1 0a1.05 1.05 0 1 0 -2.1 0M497.05 308.60a1.05 1.05 0 1 0 2.1 0a1.05 1.05 0 1 0 -2.1 0M488.95 319.90a1.05 1.05 0 1 0 2.1 0a1.05 1.05 0 1 0 -2.1 0M493.85 320.40a1.05 1.05 0 1 0 2.1 0a1.05 1.05 0 1 0 -2.1 0M496.05 319.10a1.05 1.05 0 1 0 2.1 0a1.05 1.05 0 1 0 -2.1 0M500.75 318.10a1.05 1.05 0 1 0 2.1 0a1.05 1.05 0 1 0 -2.1 0M486.75 323.10a1.05 1.05 0 1 0 2.1 0a1.05 1.05 0 1 0 -2.1 0M490.05 323.90a1.05 1.05 0 1 0 2.1 0a1.05 1.05 0 1 0 -2.1 0M493.45 324.80a1.05 1.05 0 1 0 2.1 0a1.05 1.05 0 1 0 -2.1 0M496.05 324.40a1.05 1.05 0 1 0 2.1 0a1.05 1.05 0 1 0 -2.1 0M500.15 325.20a1.05 1.05 0 1 0 2.1 0a1.05 1.05 0 1 0 -2.1 0M503.45 323.50a1.05 1.05 0 1 0 2.1 0a1.05 1.05 0 1 0 -2.1 0M489.75 328.90a1.05 1.05 0 1 0 2.1 0a1.05 1.05 0 1 0 -2.1 0M493.05 328.90a1.05 1.05 0 1 0 2.1 0a1.05 1.05 0 1 0 -2.1 0M497.45 328.50a1.05 1.05 0 1 0 2.1 0a1.05 1.05 0 1 0 -2.1 0M487.65 331.90a1.05 1.05 0 1 0 2.1 0a1.05 1.05 0 1 0 -2.1 0M492.05 332.90a1.05 1.05 0 1 0 2.1 0a1.05 1.05 0 1 0 -2.1 0M495.45 333.60a1.05 1.05 0 1 0 2.1 0a1.05 1.05 0 1 0 -2.1 0M498.75 332.20a1.05 1.05 0 1 0 2.1 0a1.05 1.05 0 1 0 -2.1 0M502.45 331.50a1.05 1.05 0 1 0 2.1 0a1.05 1.05 0 1 0 -2.1 0M489.75 335.60a1.05 1.05 0 1 0 2.1 0a1.05 1.05 0 1 0 -2.1 0M497.05 336.20a1.05 1.05 0 1 0 2.1 0a1.05 1.05 0 1 0 -2.1 0M500.15 334.90a1.05 1.05 0 1 0 2.1 0a1.05 1.05 0 1 0 -2.1 0M485.75 338.70a1.05 1.05 0 1 0 2.1 0a1.05 1.05 0 1 0 -2.1 0M490.05 340.00a1.05 1.05 0 1 0 2.1 0a1.05 1.05 0 1 0 -2.1 0M493.85 338.30a1.05 1.05 0 1 0 2.1 0a1.05 1.05 0 1 0 -2.1 0M493.85 340.50a1.05 1.05 0 1 0 2.1 0a1.05 1.05 0 1 0 -2.1 0M500.55 340.30a1.05 1.05 0 1 0 2.1 0a1.05 1.05 0 1 0 -2.1 0M503.45 339.60a1.05 1.05 0 1 0 2.1 0a1.05 1.05 0 1 0 -2.1 0M496.75 342.70a1.05 1.05 0 1 0 2.1 0a1.05 1.05 0 1 0 -2.1 0" fill="#3f0862"/>
<path d="M395.60 398.40H416.00" stroke="#2c2c2c" stroke-width="1.1"/><path d="M400.10 394.30H411.50M400.10 402.50H411.50M405.80 394.30V402.50" stroke="#2c2c2c" stroke-width="1.1" fill="none"/>
<path d="M425.30 388.50H445.70" stroke="#2c2c2c" stroke-width="1.1"/><path d="M429.80 384.80H441.20M429.80 391.30H441.20M435.50 384.80V391.30" stroke="#2c2c2c" stroke-width="1.1" fill="none"/>
<path d="M455.70 384.40H476.10" stroke="#2c2c2c" stroke-width="1.1"/><path d="M460.20 378.60H471.60M460.20 389.30H471.60M465.90 378.60V389.30" stroke="#2c2c2c" stroke-width="1.1" fill="none"/>
<path d="M485.90 383.30H506.30" stroke="#2c2c2c" stroke-width="1.1"/><rect x="490.25" y="381.90" width="11.70" height="2.80" rx="0.5" fill="#050505"/>
</g>
</svg>
</body></html>
